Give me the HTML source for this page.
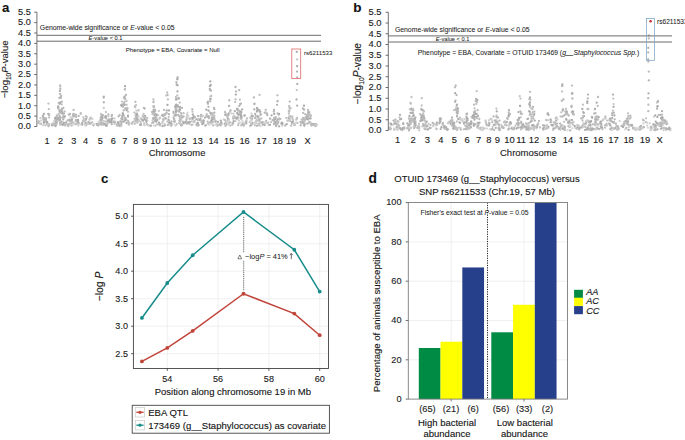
<!DOCTYPE html>
<html><head><meta charset="utf-8"><style>
html,body{margin:0;padding:0;background:#fff;width:685px;height:440px;overflow:hidden}
svg{display:block}
text{stroke:#222;stroke-width:0.12px}
</style></head><body>
<svg width="685" height="440" viewBox="0 0 685 440" font-family='"Liberation Sans", sans-serif'><rect width="685" height="440" fill="#fff"/><g><circle cx="45.3" cy="125.3" r="1.15" fill="#c3c3c3"/><circle cx="52.9" cy="124.9" r="1.15" fill="#c7c7c7"/><circle cx="47.4" cy="124.9" r="1.15" fill="#cecece"/><circle cx="43.1" cy="125.2" r="1.15" fill="#d2d2d2"/><circle cx="47.3" cy="124.4" r="1.15" fill="#d5d5d5"/><circle cx="44.3" cy="121.5" r="1.15" fill="#c8c8c8"/><circle cx="47.2" cy="123.2" r="1.15" fill="#bfbfbf"/><circle cx="45.7" cy="120.7" r="1.15" fill="#b3b3b3"/><circle cx="43.3" cy="119.4" r="1.15" fill="#bdbdbd"/><circle cx="46.6" cy="121.9" r="1.15" fill="#ababab"/><circle cx="43.1" cy="117.4" r="1.15" fill="#b9b9b9"/><circle cx="41.1" cy="120.7" r="1.15" fill="#d7d7d7"/><circle cx="53.1" cy="125.0" r="1.15" fill="#c3c3c3"/><circle cx="43.9" cy="122.9" r="1.15" fill="#c0c0c0"/><circle cx="47.4" cy="123.9" r="1.15" fill="#b8b8b8"/><circle cx="49.2" cy="124.7" r="1.15" fill="#bdbdbd"/><circle cx="48.4" cy="123.8" r="1.15" fill="#b4b4b4"/><circle cx="52.0" cy="125.3" r="1.15" fill="#acacac"/><circle cx="44.1" cy="120.6" r="1.15" fill="#c0c0c0"/><circle cx="40.7" cy="123.6" r="1.15" fill="#c4c4c4"/><circle cx="52.5" cy="125.2" r="1.15" fill="#b0b0b0"/><circle cx="52.0" cy="124.3" r="1.15" fill="#bdbdbd"/><circle cx="49.3" cy="124.2" r="1.15" fill="#cdcdcd"/><circle cx="41.0" cy="123.9" r="1.15" fill="#c2c2c2"/><circle cx="48.6" cy="126.2" r="1.15" fill="#b8b8b8"/><circle cx="38.9" cy="121.3" r="1.15" fill="#bbbbbb"/><circle cx="47.9" cy="124.4" r="1.15" fill="#cacaca"/><circle cx="45.6" cy="119.7" r="1.15" fill="#b6b6b6"/><circle cx="44.7" cy="122.5" r="1.15" fill="#c8c8c8"/><circle cx="39.8" cy="123.7" r="1.15" fill="#c9c9c9"/><circle cx="40.4" cy="118.2" r="1.15" fill="#cbcbcb"/><circle cx="55.7" cy="120.9" r="1.15" fill="#b1b1b1"/><circle cx="60.3" cy="124.2" r="1.15" fill="#bdbdbd"/><circle cx="60.2" cy="122.2" r="1.15" fill="#d6d6d6"/><circle cx="56.8" cy="114.9" r="1.15" fill="#d4d4d4"/><circle cx="63.7" cy="123.4" r="1.15" fill="#d5d5d5"/><circle cx="62.9" cy="125.0" r="1.15" fill="#cccccc"/><circle cx="60.9" cy="123.4" r="1.15" fill="#b8b8b8"/><circle cx="62.2" cy="124.3" r="1.15" fill="#d5d5d5"/><circle cx="64.3" cy="117.6" r="1.15" fill="#c1c1c1"/><circle cx="56.8" cy="120.6" r="1.15" fill="#bcbcbc"/><circle cx="60.2" cy="123.1" r="1.15" fill="#b7b7b7"/><circle cx="59.8" cy="119.2" r="1.15" fill="#b7b7b7"/><circle cx="55.3" cy="125.4" r="1.15" fill="#b3b3b3"/><circle cx="56.7" cy="122.9" r="1.15" fill="#d6d6d6"/><circle cx="60.2" cy="122.2" r="1.15" fill="#c0c0c0"/><circle cx="64.6" cy="124.2" r="1.15" fill="#c1c1c1"/><circle cx="60.2" cy="124.8" r="1.15" fill="#c4c4c4"/><circle cx="55.4" cy="117.6" r="1.15" fill="#d5d5d5"/><circle cx="63.3" cy="124.6" r="1.15" fill="#c3c3c3"/><circle cx="54.6" cy="120.9" r="1.15" fill="#b9b9b9"/><circle cx="62.5" cy="125.0" r="1.15" fill="#cccccc"/><circle cx="54.6" cy="120.7" r="1.15" fill="#cecece"/><circle cx="59.7" cy="120.9" r="1.15" fill="#c9c9c9"/><circle cx="54.6" cy="123.5" r="1.15" fill="#c0c0c0"/><circle cx="57.5" cy="121.9" r="1.15" fill="#d0d0d0"/><circle cx="55.1" cy="119.2" r="1.15" fill="#c4c4c4"/><circle cx="69.2" cy="124.0" r="1.15" fill="#c4c4c4"/><circle cx="74.2" cy="122.8" r="1.15" fill="#d7d7d7"/><circle cx="78.3" cy="125.5" r="1.15" fill="#d3d3d3"/><circle cx="70.7" cy="117.0" r="1.15" fill="#d7d7d7"/><circle cx="72.8" cy="122.8" r="1.15" fill="#cecece"/><circle cx="75.9" cy="119.8" r="1.15" fill="#c1c1c1"/><circle cx="76.0" cy="115.0" r="1.15" fill="#b2b2b2"/><circle cx="78.7" cy="115.9" r="1.15" fill="#b7b7b7"/><circle cx="68.8" cy="120.0" r="1.15" fill="#c4c4c4"/><circle cx="75.6" cy="121.1" r="1.15" fill="#c0c0c0"/><circle cx="78.4" cy="123.7" r="1.15" fill="#c4c4c4"/><circle cx="69.1" cy="114.7" r="1.15" fill="#c8c8c8"/><circle cx="72.2" cy="122.8" r="1.15" fill="#c4c4c4"/><circle cx="69.3" cy="120.2" r="1.15" fill="#c6c6c6"/><circle cx="71.7" cy="125.6" r="1.15" fill="#bababa"/><circle cx="67.5" cy="120.4" r="1.15" fill="#bababa"/><circle cx="73.7" cy="124.4" r="1.15" fill="#d0d0d0"/><circle cx="68.7" cy="114.7" r="1.15" fill="#c1c1c1"/><circle cx="70.6" cy="124.4" r="1.15" fill="#cccccc"/><circle cx="70.7" cy="123.4" r="1.15" fill="#adadad"/><circle cx="72.3" cy="121.9" r="1.15" fill="#bfbfbf"/><circle cx="76.0" cy="124.2" r="1.15" fill="#bababa"/><circle cx="78.4" cy="122.3" r="1.15" fill="#d4d4d4"/><circle cx="75.2" cy="116.2" r="1.15" fill="#c8c8c8"/><circle cx="70.6" cy="124.3" r="1.15" fill="#d4d4d4"/><circle cx="71.5" cy="120.9" r="1.15" fill="#d8d8d8"/><circle cx="82.9" cy="121.0" r="1.15" fill="#c7c7c7"/><circle cx="83.7" cy="118.7" r="1.15" fill="#c9c9c9"/><circle cx="89.4" cy="122.4" r="1.15" fill="#d8d8d8"/><circle cx="86.7" cy="124.6" r="1.15" fill="#b9b9b9"/><circle cx="88.4" cy="123.6" r="1.15" fill="#a8a8a8"/><circle cx="92.3" cy="122.1" r="1.15" fill="#cdcdcd"/><circle cx="90.6" cy="117.5" r="1.15" fill="#d1d1d1"/><circle cx="85.3" cy="124.3" r="1.15" fill="#cdcdcd"/><circle cx="88.1" cy="123.0" r="1.15" fill="#bcbcbc"/><circle cx="82.3" cy="124.5" r="1.15" fill="#aaaaaa"/><circle cx="87.7" cy="122.9" r="1.15" fill="#d5d5d5"/><circle cx="86.0" cy="125.3" r="1.15" fill="#bcbcbc"/><circle cx="92.4" cy="118.8" r="1.15" fill="#cccccc"/><circle cx="80.7" cy="113.2" r="1.15" fill="#b7b7b7"/><circle cx="85.0" cy="123.3" r="1.15" fill="#d6d6d6"/><circle cx="83.4" cy="117.2" r="1.15" fill="#cbcbcb"/><circle cx="85.3" cy="125.5" r="1.15" fill="#d6d6d6"/><circle cx="84.0" cy="119.4" r="1.15" fill="#c8c8c8"/><circle cx="88.5" cy="122.1" r="1.15" fill="#b2b2b2"/><circle cx="89.8" cy="119.4" r="1.15" fill="#c5c5c5"/><circle cx="80.8" cy="114.0" r="1.15" fill="#c2c2c2"/><circle cx="89.4" cy="119.7" r="1.15" fill="#d2d2d2"/><circle cx="90.5" cy="118.9" r="1.15" fill="#cfcfcf"/><circle cx="81.4" cy="124.5" r="1.15" fill="#c2c2c2"/><circle cx="90.7" cy="118.2" r="1.15" fill="#c1c1c1"/><circle cx="88.1" cy="123.9" r="1.15" fill="#d1d1d1"/><circle cx="103.1" cy="123.9" r="1.15" fill="#b3b3b3"/><circle cx="99.9" cy="123.1" r="1.15" fill="#c4c4c4"/><circle cx="101.6" cy="120.4" r="1.15" fill="#c6c6c6"/><circle cx="101.3" cy="123.0" r="1.15" fill="#d0d0d0"/><circle cx="93.5" cy="125.3" r="1.15" fill="#c1c1c1"/><circle cx="106.3" cy="125.8" r="1.15" fill="#c4c4c4"/><circle cx="99.5" cy="123.2" r="1.15" fill="#c1c1c1"/><circle cx="106.6" cy="123.8" r="1.15" fill="#adadad"/><circle cx="93.5" cy="125.0" r="1.15" fill="#b1b1b1"/><circle cx="106.6" cy="123.1" r="1.15" fill="#d7d7d7"/><circle cx="101.1" cy="124.5" r="1.15" fill="#b8b8b8"/><circle cx="106.1" cy="125.3" r="1.15" fill="#c5c5c5"/><circle cx="102.7" cy="122.8" r="1.15" fill="#bdbdbd"/><circle cx="98.6" cy="124.6" r="1.15" fill="#b1b1b1"/><circle cx="97.3" cy="125.1" r="1.15" fill="#a9a9a9"/><circle cx="98.3" cy="125.5" r="1.15" fill="#bababa"/><circle cx="104.5" cy="124.6" r="1.15" fill="#c9c9c9"/><circle cx="102.9" cy="115.1" r="1.15" fill="#b4b4b4"/><circle cx="98.5" cy="121.6" r="1.15" fill="#d8d8d8"/><circle cx="98.1" cy="124.0" r="1.15" fill="#cbcbcb"/><circle cx="94.0" cy="124.2" r="1.15" fill="#d6d6d6"/><circle cx="96.6" cy="123.8" r="1.15" fill="#adadad"/><circle cx="103.8" cy="121.2" r="1.15" fill="#c8c8c8"/><circle cx="104.2" cy="117.4" r="1.15" fill="#c9c9c9"/><circle cx="102.9" cy="124.9" r="1.15" fill="#c4c4c4"/><circle cx="99.3" cy="122.5" r="1.15" fill="#cfcfcf"/><circle cx="105.5" cy="121.7" r="1.15" fill="#c6c6c6"/><circle cx="99.6" cy="124.3" r="1.15" fill="#bbbbbb"/><circle cx="113.6" cy="121.9" r="1.15" fill="#b2b2b2"/><circle cx="118.7" cy="124.6" r="1.15" fill="#cecece"/><circle cx="109.3" cy="119.6" r="1.15" fill="#b4b4b4"/><circle cx="110.0" cy="122.3" r="1.15" fill="#ababab"/><circle cx="111.7" cy="118.5" r="1.15" fill="#d5d5d5"/><circle cx="111.6" cy="122.6" r="1.15" fill="#b0b0b0"/><circle cx="108.7" cy="120.0" r="1.15" fill="#cbcbcb"/><circle cx="108.4" cy="114.3" r="1.15" fill="#b4b4b4"/><circle cx="118.2" cy="122.3" r="1.15" fill="#cacaca"/><circle cx="108.8" cy="121.1" r="1.15" fill="#b4b4b4"/><circle cx="107.3" cy="120.3" r="1.15" fill="#c1c1c1"/><circle cx="118.4" cy="125.2" r="1.15" fill="#cfcfcf"/><circle cx="118.0" cy="123.1" r="1.15" fill="#b0b0b0"/><circle cx="108.3" cy="116.2" r="1.15" fill="#c3c3c3"/><circle cx="114.7" cy="123.9" r="1.15" fill="#c6c6c6"/><circle cx="114.4" cy="120.8" r="1.15" fill="#d3d3d3"/><circle cx="108.1" cy="119.3" r="1.15" fill="#cecece"/><circle cx="111.7" cy="124.2" r="1.15" fill="#b8b8b8"/><circle cx="118.7" cy="125.5" r="1.15" fill="#c2c2c2"/><circle cx="114.6" cy="118.4" r="1.15" fill="#cdcdcd"/><circle cx="107.6" cy="121.3" r="1.15" fill="#bcbcbc"/><circle cx="107.9" cy="123.2" r="1.15" fill="#c5c5c5"/><circle cx="110.2" cy="119.4" r="1.15" fill="#c0c0c0"/><circle cx="121.4" cy="118.6" r="1.15" fill="#cacaca"/><circle cx="124.1" cy="121.4" r="1.15" fill="#a9a9a9"/><circle cx="120.4" cy="121.3" r="1.15" fill="#acacac"/><circle cx="123.6" cy="115.6" r="1.15" fill="#c8c8c8"/><circle cx="128.9" cy="124.7" r="1.15" fill="#c0c0c0"/><circle cx="119.8" cy="126.0" r="1.15" fill="#b9b9b9"/><circle cx="124.0" cy="116.1" r="1.15" fill="#cfcfcf"/><circle cx="129.0" cy="122.1" r="1.15" fill="#d5d5d5"/><circle cx="126.1" cy="119.6" r="1.15" fill="#b9b9b9"/><circle cx="128.0" cy="111.7" r="1.15" fill="#c3c3c3"/><circle cx="121.1" cy="126.3" r="1.15" fill="#d5d5d5"/><circle cx="125.1" cy="118.7" r="1.15" fill="#b5b5b5"/><circle cx="123.0" cy="115.2" r="1.15" fill="#d8d8d8"/><circle cx="126.6" cy="123.0" r="1.15" fill="#aaaaaa"/><circle cx="121.3" cy="123.6" r="1.15" fill="#b0b0b0"/><circle cx="121.9" cy="121.7" r="1.15" fill="#b4b4b4"/><circle cx="119.7" cy="124.6" r="1.15" fill="#b3b3b3"/><circle cx="121.3" cy="125.3" r="1.15" fill="#bebebe"/><circle cx="123.1" cy="121.7" r="1.15" fill="#b4b4b4"/><circle cx="128.9" cy="122.7" r="1.15" fill="#d0d0d0"/><circle cx="119.6" cy="123.4" r="1.15" fill="#c1c1c1"/><circle cx="131.7" cy="123.2" r="1.15" fill="#b1b1b1"/><circle cx="134.6" cy="118.7" r="1.15" fill="#c3c3c3"/><circle cx="137.4" cy="121.7" r="1.15" fill="#d4d4d4"/><circle cx="136.4" cy="118.7" r="1.15" fill="#ababab"/><circle cx="138.6" cy="110.3" r="1.15" fill="#b0b0b0"/><circle cx="136.2" cy="121.3" r="1.15" fill="#b6b6b6"/><circle cx="131.9" cy="123.7" r="1.15" fill="#c0c0c0"/><circle cx="136.1" cy="116.8" r="1.15" fill="#c0c0c0"/><circle cx="137.6" cy="119.8" r="1.15" fill="#a9a9a9"/><circle cx="135.6" cy="121.8" r="1.15" fill="#d1d1d1"/><circle cx="132.0" cy="123.2" r="1.15" fill="#c2c2c2"/><circle cx="138.6" cy="116.7" r="1.15" fill="#d6d6d6"/><circle cx="135.1" cy="123.3" r="1.15" fill="#d2d2d2"/><circle cx="136.4" cy="110.6" r="1.15" fill="#c9c9c9"/><circle cx="138.2" cy="110.5" r="1.15" fill="#cbcbcb"/><circle cx="138.5" cy="121.6" r="1.15" fill="#d3d3d3"/><circle cx="139.0" cy="120.5" r="1.15" fill="#cbcbcb"/><circle cx="134.5" cy="123.9" r="1.15" fill="#c8c8c8"/><circle cx="136.3" cy="114.0" r="1.15" fill="#afafaf"/><circle cx="143.4" cy="120.2" r="1.15" fill="#c2c2c2"/><circle cx="140.6" cy="121.9" r="1.15" fill="#c4c4c4"/><circle cx="140.9" cy="124.8" r="1.15" fill="#d1d1d1"/><circle cx="146.4" cy="122.1" r="1.15" fill="#ababab"/><circle cx="144.2" cy="123.7" r="1.15" fill="#c0c0c0"/><circle cx="147.3" cy="118.2" r="1.15" fill="#bbbbbb"/><circle cx="144.2" cy="119.6" r="1.15" fill="#d5d5d5"/><circle cx="144.0" cy="123.4" r="1.15" fill="#cdcdcd"/><circle cx="144.4" cy="125.2" r="1.15" fill="#c2c2c2"/><circle cx="144.6" cy="125.3" r="1.15" fill="#d6d6d6"/><circle cx="140.8" cy="125.0" r="1.15" fill="#ababab"/><circle cx="147.2" cy="124.4" r="1.15" fill="#b1b1b1"/><circle cx="143.0" cy="120.8" r="1.15" fill="#adadad"/><circle cx="147.4" cy="120.8" r="1.15" fill="#d4d4d4"/><circle cx="143.1" cy="116.7" r="1.15" fill="#adadad"/><circle cx="140.8" cy="118.3" r="1.15" fill="#bfbfbf"/><circle cx="141.1" cy="119.5" r="1.15" fill="#d4d4d4"/><circle cx="146.1" cy="119.3" r="1.15" fill="#d7d7d7"/><circle cx="148.1" cy="125.6" r="1.15" fill="#d6d6d6"/><circle cx="159.9" cy="124.5" r="1.15" fill="#ababab"/><circle cx="156.6" cy="116.6" r="1.15" fill="#d8d8d8"/><circle cx="155.2" cy="120.3" r="1.15" fill="#b4b4b4"/><circle cx="156.0" cy="121.7" r="1.15" fill="#b4b4b4"/><circle cx="153.0" cy="122.4" r="1.15" fill="#c2c2c2"/><circle cx="159.8" cy="118.3" r="1.15" fill="#c1c1c1"/><circle cx="155.2" cy="125.6" r="1.15" fill="#bfbfbf"/><circle cx="156.0" cy="117.3" r="1.15" fill="#c2c2c2"/><circle cx="159.2" cy="118.7" r="1.15" fill="#cacaca"/><circle cx="158.9" cy="111.0" r="1.15" fill="#cccccc"/><circle cx="160.1" cy="117.3" r="1.15" fill="#cccccc"/><circle cx="152.5" cy="120.4" r="1.15" fill="#cfcfcf"/><circle cx="158.1" cy="114.9" r="1.15" fill="#cacaca"/><circle cx="151.0" cy="125.7" r="1.15" fill="#b3b3b3"/><circle cx="160.6" cy="123.9" r="1.15" fill="#c3c3c3"/><circle cx="156.0" cy="114.2" r="1.15" fill="#c5c5c5"/><circle cx="153.9" cy="125.6" r="1.15" fill="#d6d6d6"/><circle cx="154.9" cy="121.0" r="1.15" fill="#c3c3c3"/><circle cx="152.2" cy="123.0" r="1.15" fill="#c4c4c4"/><circle cx="159.1" cy="124.4" r="1.15" fill="#b9b9b9"/><circle cx="156.6" cy="115.9" r="1.15" fill="#d7d7d7"/><circle cx="153.2" cy="122.5" r="1.15" fill="#b8b8b8"/><circle cx="153.3" cy="119.2" r="1.15" fill="#cdcdcd"/><circle cx="174.5" cy="122.0" r="1.15" fill="#d5d5d5"/><circle cx="171.6" cy="123.8" r="1.15" fill="#c4c4c4"/><circle cx="169.9" cy="122.2" r="1.15" fill="#c9c9c9"/><circle cx="168.4" cy="119.5" r="1.15" fill="#c4c4c4"/><circle cx="162.6" cy="126.2" r="1.15" fill="#aeaeae"/><circle cx="168.9" cy="122.6" r="1.15" fill="#b2b2b2"/><circle cx="169.6" cy="124.6" r="1.15" fill="#d5d5d5"/><circle cx="162.5" cy="122.1" r="1.15" fill="#c2c2c2"/><circle cx="167.9" cy="124.9" r="1.15" fill="#b5b5b5"/><circle cx="167.3" cy="121.6" r="1.15" fill="#c2c2c2"/><circle cx="163.0" cy="119.4" r="1.15" fill="#b8b8b8"/><circle cx="169.8" cy="122.9" r="1.15" fill="#a8a8a8"/><circle cx="165.4" cy="114.5" r="1.15" fill="#c3c3c3"/><circle cx="164.6" cy="123.8" r="1.15" fill="#d2d2d2"/><circle cx="162.5" cy="123.6" r="1.15" fill="#d5d5d5"/><circle cx="168.7" cy="120.2" r="1.15" fill="#afafaf"/><circle cx="172.4" cy="124.5" r="1.15" fill="#d2d2d2"/><circle cx="174.6" cy="120.9" r="1.15" fill="#b5b5b5"/><circle cx="171.2" cy="125.7" r="1.15" fill="#b4b4b4"/><circle cx="163.3" cy="119.0" r="1.15" fill="#c6c6c6"/><circle cx="165.1" cy="125.1" r="1.15" fill="#bababa"/><circle cx="173.4" cy="117.6" r="1.15" fill="#bfbfbf"/><circle cx="171.1" cy="123.4" r="1.15" fill="#b0b0b0"/><circle cx="166.0" cy="112.9" r="1.15" fill="#d5d5d5"/><circle cx="163.4" cy="120.5" r="1.15" fill="#c4c4c4"/><circle cx="174.0" cy="118.8" r="1.15" fill="#acacac"/><circle cx="181.6" cy="118.3" r="1.15" fill="#c7c7c7"/><circle cx="182.9" cy="123.1" r="1.15" fill="#d5d5d5"/><circle cx="180.5" cy="116.4" r="1.15" fill="#d8d8d8"/><circle cx="175.7" cy="125.5" r="1.15" fill="#c7c7c7"/><circle cx="179.9" cy="124.0" r="1.15" fill="#d0d0d0"/><circle cx="184.6" cy="122.1" r="1.15" fill="#c3c3c3"/><circle cx="186.8" cy="116.7" r="1.15" fill="#c9c9c9"/><circle cx="187.1" cy="114.4" r="1.15" fill="#c4c4c4"/><circle cx="176.7" cy="124.2" r="1.15" fill="#c1c1c1"/><circle cx="186.4" cy="119.9" r="1.15" fill="#bfbfbf"/><circle cx="181.7" cy="124.2" r="1.15" fill="#c2c2c2"/><circle cx="179.6" cy="118.6" r="1.15" fill="#d4d4d4"/><circle cx="180.0" cy="110.0" r="1.15" fill="#b4b4b4"/><circle cx="185.6" cy="121.8" r="1.15" fill="#c4c4c4"/><circle cx="186.7" cy="118.4" r="1.15" fill="#b1b1b1"/><circle cx="182.2" cy="125.0" r="1.15" fill="#acacac"/><circle cx="184.7" cy="123.1" r="1.15" fill="#d4d4d4"/><circle cx="183.0" cy="121.7" r="1.15" fill="#bebebe"/><circle cx="175.3" cy="125.0" r="1.15" fill="#d6d6d6"/><circle cx="180.0" cy="122.7" r="1.15" fill="#cccccc"/><circle cx="188.3" cy="115.9" r="1.15" fill="#d3d3d3"/><circle cx="179.1" cy="123.0" r="1.15" fill="#c8c8c8"/><circle cx="182.0" cy="124.7" r="1.15" fill="#d6d6d6"/><circle cx="183.7" cy="123.2" r="1.15" fill="#aaaaaa"/><circle cx="187.7" cy="112.7" r="1.15" fill="#d8d8d8"/><circle cx="180.3" cy="120.6" r="1.15" fill="#bbbbbb"/><circle cx="187.4" cy="118.0" r="1.15" fill="#d3d3d3"/><circle cx="187.9" cy="123.3" r="1.15" fill="#d0d0d0"/><circle cx="198.5" cy="124.3" r="1.15" fill="#c8c8c8"/><circle cx="197.4" cy="125.2" r="1.15" fill="#d3d3d3"/><circle cx="200.8" cy="115.7" r="1.15" fill="#aeaeae"/><circle cx="191.9" cy="121.5" r="1.15" fill="#c7c7c7"/><circle cx="193.4" cy="116.1" r="1.15" fill="#c9c9c9"/><circle cx="192.4" cy="124.7" r="1.15" fill="#c3c3c3"/><circle cx="201.9" cy="115.9" r="1.15" fill="#cbcbcb"/><circle cx="193.8" cy="117.8" r="1.15" fill="#bdbdbd"/><circle cx="189.8" cy="122.7" r="1.15" fill="#bababa"/><circle cx="196.7" cy="124.5" r="1.15" fill="#c4c4c4"/><circle cx="189.4" cy="123.9" r="1.15" fill="#c1c1c1"/><circle cx="202.8" cy="115.8" r="1.15" fill="#c2c2c2"/><circle cx="200.1" cy="120.2" r="1.15" fill="#cbcbcb"/><circle cx="203.5" cy="123.0" r="1.15" fill="#a8a8a8"/><circle cx="200.6" cy="119.9" r="1.15" fill="#bebebe"/><circle cx="189.6" cy="118.7" r="1.15" fill="#d0d0d0"/><circle cx="203.5" cy="120.4" r="1.15" fill="#c2c2c2"/><circle cx="189.9" cy="121.6" r="1.15" fill="#c3c3c3"/><circle cx="200.7" cy="116.2" r="1.15" fill="#c2c2c2"/><circle cx="197.9" cy="123.3" r="1.15" fill="#cacaca"/><circle cx="199.5" cy="120.1" r="1.15" fill="#aeaeae"/><circle cx="192.6" cy="118.4" r="1.15" fill="#a8a8a8"/><circle cx="197.5" cy="123.5" r="1.15" fill="#cecece"/><circle cx="193.3" cy="121.3" r="1.15" fill="#d4d4d4"/><circle cx="189.5" cy="122.1" r="1.15" fill="#c0c0c0"/><circle cx="198.5" cy="125.4" r="1.15" fill="#acacac"/><circle cx="201.1" cy="114.8" r="1.15" fill="#b6b6b6"/><circle cx="196.6" cy="125.5" r="1.15" fill="#c8c8c8"/><circle cx="202.2" cy="116.5" r="1.15" fill="#d0d0d0"/><circle cx="202.3" cy="124.2" r="1.15" fill="#a9a9a9"/><circle cx="196.7" cy="124.6" r="1.15" fill="#b6b6b6"/><circle cx="194.9" cy="117.2" r="1.15" fill="#bababa"/><circle cx="200.5" cy="118.4" r="1.15" fill="#b9b9b9"/><circle cx="211.2" cy="114.3" r="1.15" fill="#bbbbbb"/><circle cx="206.7" cy="114.2" r="1.15" fill="#c1c1c1"/><circle cx="213.7" cy="121.7" r="1.15" fill="#c1c1c1"/><circle cx="215.6" cy="124.7" r="1.15" fill="#d1d1d1"/><circle cx="214.4" cy="118.3" r="1.15" fill="#cecece"/><circle cx="217.4" cy="124.6" r="1.15" fill="#c3c3c3"/><circle cx="214.9" cy="119.7" r="1.15" fill="#cfcfcf"/><circle cx="215.8" cy="121.5" r="1.15" fill="#c7c7c7"/><circle cx="213.2" cy="122.2" r="1.15" fill="#c9c9c9"/><circle cx="216.9" cy="124.3" r="1.15" fill="#bcbcbc"/><circle cx="212.0" cy="114.1" r="1.15" fill="#b2b2b2"/><circle cx="213.1" cy="125.3" r="1.15" fill="#b2b2b2"/><circle cx="209.5" cy="124.7" r="1.15" fill="#d0d0d0"/><circle cx="208.2" cy="123.4" r="1.15" fill="#bababa"/><circle cx="218.3" cy="124.8" r="1.15" fill="#afafaf"/><circle cx="220.7" cy="125.0" r="1.15" fill="#c6c6c6"/><circle cx="206.1" cy="125.1" r="1.15" fill="#b9b9b9"/><circle cx="217.8" cy="124.9" r="1.15" fill="#c6c6c6"/><circle cx="206.3" cy="116.0" r="1.15" fill="#c9c9c9"/><circle cx="210.8" cy="115.4" r="1.15" fill="#d2d2d2"/><circle cx="210.0" cy="122.3" r="1.15" fill="#b9b9b9"/><circle cx="214.1" cy="117.4" r="1.15" fill="#bebebe"/><circle cx="210.8" cy="113.3" r="1.15" fill="#a8a8a8"/><circle cx="220.3" cy="125.2" r="1.15" fill="#afafaf"/><circle cx="216.4" cy="125.3" r="1.15" fill="#d8d8d8"/><circle cx="217.5" cy="126.1" r="1.15" fill="#c5c5c5"/><circle cx="211.7" cy="123.3" r="1.15" fill="#c0c0c0"/><circle cx="208.6" cy="116.6" r="1.15" fill="#c1c1c1"/><circle cx="215.0" cy="121.1" r="1.15" fill="#d0d0d0"/><circle cx="209.0" cy="118.3" r="1.15" fill="#c8c8c8"/><circle cx="215.7" cy="121.5" r="1.15" fill="#b5b5b5"/><circle cx="227.8" cy="120.5" r="1.15" fill="#cbcbcb"/><circle cx="229.0" cy="119.7" r="1.15" fill="#c2c2c2"/><circle cx="233.2" cy="119.0" r="1.15" fill="#d4d4d4"/><circle cx="221.5" cy="124.6" r="1.15" fill="#c8c8c8"/><circle cx="228.6" cy="120.1" r="1.15" fill="#d7d7d7"/><circle cx="235.1" cy="117.9" r="1.15" fill="#aaaaaa"/><circle cx="221.4" cy="123.0" r="1.15" fill="#d2d2d2"/><circle cx="224.7" cy="123.7" r="1.15" fill="#ababab"/><circle cx="221.6" cy="124.3" r="1.15" fill="#cccccc"/><circle cx="235.5" cy="121.2" r="1.15" fill="#cccccc"/><circle cx="232.5" cy="124.2" r="1.15" fill="#b8b8b8"/><circle cx="231.6" cy="113.5" r="1.15" fill="#d2d2d2"/><circle cx="232.3" cy="125.1" r="1.15" fill="#cdcdcd"/><circle cx="227.3" cy="121.4" r="1.15" fill="#c7c7c7"/><circle cx="236.0" cy="118.7" r="1.15" fill="#bdbdbd"/><circle cx="228.5" cy="123.8" r="1.15" fill="#c1c1c1"/><circle cx="226.9" cy="115.5" r="1.15" fill="#c1c1c1"/><circle cx="233.3" cy="118.1" r="1.15" fill="#b3b3b3"/><circle cx="233.4" cy="116.7" r="1.15" fill="#b9b9b9"/><circle cx="234.7" cy="115.9" r="1.15" fill="#cacaca"/><circle cx="234.1" cy="116.6" r="1.15" fill="#d5d5d5"/><circle cx="227.1" cy="114.6" r="1.15" fill="#c8c8c8"/><circle cx="233.7" cy="121.1" r="1.15" fill="#aaaaaa"/><circle cx="223.7" cy="119.4" r="1.15" fill="#d4d4d4"/><circle cx="225.7" cy="122.4" r="1.15" fill="#cfcfcf"/><circle cx="225.5" cy="113.1" r="1.15" fill="#bababa"/><circle cx="226.6" cy="123.7" r="1.15" fill="#c4c4c4"/><circle cx="233.4" cy="113.7" r="1.15" fill="#cdcdcd"/><circle cx="226.1" cy="124.6" r="1.15" fill="#b6b6b6"/><circle cx="230.3" cy="125.6" r="1.15" fill="#bdbdbd"/><circle cx="228.4" cy="124.8" r="1.15" fill="#d6d6d6"/><circle cx="227.4" cy="116.9" r="1.15" fill="#bbbbbb"/><circle cx="246.0" cy="122.4" r="1.15" fill="#cecece"/><circle cx="251.5" cy="120.3" r="1.15" fill="#c6c6c6"/><circle cx="243.0" cy="123.7" r="1.15" fill="#cacaca"/><circle cx="242.6" cy="123.0" r="1.15" fill="#d3d3d3"/><circle cx="238.7" cy="123.4" r="1.15" fill="#c6c6c6"/><circle cx="241.3" cy="116.6" r="1.15" fill="#ababab"/><circle cx="238.8" cy="120.4" r="1.15" fill="#cccccc"/><circle cx="241.2" cy="125.4" r="1.15" fill="#c5c5c5"/><circle cx="252.6" cy="122.8" r="1.15" fill="#b1b1b1"/><circle cx="250.7" cy="120.6" r="1.15" fill="#d8d8d8"/><circle cx="250.6" cy="117.2" r="1.15" fill="#c6c6c6"/><circle cx="241.3" cy="119.1" r="1.15" fill="#c2c2c2"/><circle cx="252.0" cy="118.3" r="1.15" fill="#d7d7d7"/><circle cx="243.0" cy="124.8" r="1.15" fill="#d0d0d0"/><circle cx="240.0" cy="112.3" r="1.15" fill="#c0c0c0"/><circle cx="250.2" cy="125.8" r="1.15" fill="#b6b6b6"/><circle cx="238.2" cy="125.2" r="1.15" fill="#c0c0c0"/><circle cx="246.4" cy="120.4" r="1.15" fill="#c6c6c6"/><circle cx="244.5" cy="124.0" r="1.15" fill="#c1c1c1"/><circle cx="239.9" cy="122.5" r="1.15" fill="#d6d6d6"/><circle cx="251.4" cy="113.5" r="1.15" fill="#d7d7d7"/><circle cx="239.7" cy="114.0" r="1.15" fill="#c6c6c6"/><circle cx="251.7" cy="115.7" r="1.15" fill="#c0c0c0"/><circle cx="252.1" cy="115.9" r="1.15" fill="#b0b0b0"/><circle cx="250.3" cy="118.1" r="1.15" fill="#c6c6c6"/><circle cx="244.7" cy="123.0" r="1.15" fill="#d1d1d1"/><circle cx="242.4" cy="121.0" r="1.15" fill="#d8d8d8"/><circle cx="244.1" cy="125.1" r="1.15" fill="#bebebe"/><circle cx="243.6" cy="125.8" r="1.15" fill="#c2c2c2"/><circle cx="249.7" cy="122.1" r="1.15" fill="#c9c9c9"/><circle cx="242.2" cy="117.7" r="1.15" fill="#d7d7d7"/><circle cx="247.0" cy="118.3" r="1.15" fill="#c0c0c0"/><circle cx="259.5" cy="123.7" r="1.15" fill="#bfbfbf"/><circle cx="255.6" cy="121.7" r="1.15" fill="#bfbfbf"/><circle cx="266.1" cy="120.9" r="1.15" fill="#bbbbbb"/><circle cx="256.3" cy="123.2" r="1.15" fill="#bfbfbf"/><circle cx="256.8" cy="121.0" r="1.15" fill="#c0c0c0"/><circle cx="264.6" cy="122.8" r="1.15" fill="#c2c2c2"/><circle cx="266.5" cy="113.2" r="1.15" fill="#cbcbcb"/><circle cx="256.6" cy="119.9" r="1.15" fill="#c6c6c6"/><circle cx="262.6" cy="122.1" r="1.15" fill="#b5b5b5"/><circle cx="266.7" cy="113.3" r="1.15" fill="#a8a8a8"/><circle cx="258.6" cy="119.4" r="1.15" fill="#d4d4d4"/><circle cx="259.8" cy="122.5" r="1.15" fill="#d7d7d7"/><circle cx="267.2" cy="122.9" r="1.15" fill="#bfbfbf"/><circle cx="253.9" cy="123.5" r="1.15" fill="#d4d4d4"/><circle cx="259.0" cy="120.1" r="1.15" fill="#b9b9b9"/><circle cx="264.7" cy="112.7" r="1.15" fill="#b0b0b0"/><circle cx="265.7" cy="109.8" r="1.15" fill="#b9b9b9"/><circle cx="267.2" cy="115.0" r="1.15" fill="#b3b3b3"/><circle cx="260.4" cy="126.2" r="1.15" fill="#d4d4d4"/><circle cx="268.7" cy="125.0" r="1.15" fill="#c5c5c5"/><circle cx="256.0" cy="122.5" r="1.15" fill="#d2d2d2"/><circle cx="254.8" cy="123.4" r="1.15" fill="#d4d4d4"/><circle cx="257.5" cy="117.7" r="1.15" fill="#cacaca"/><circle cx="264.5" cy="124.1" r="1.15" fill="#cbcbcb"/><circle cx="264.7" cy="125.0" r="1.15" fill="#b1b1b1"/><circle cx="255.0" cy="125.3" r="1.15" fill="#c3c3c3"/><circle cx="261.9" cy="122.7" r="1.15" fill="#a9a9a9"/><circle cx="265.2" cy="122.4" r="1.15" fill="#d7d7d7"/><circle cx="268.2" cy="122.7" r="1.15" fill="#c5c5c5"/><circle cx="259.6" cy="121.4" r="1.15" fill="#bebebe"/><circle cx="258.7" cy="124.3" r="1.15" fill="#b3b3b3"/><circle cx="266.3" cy="112.4" r="1.15" fill="#cdcdcd"/><circle cx="258.5" cy="125.0" r="1.15" fill="#c4c4c4"/><circle cx="275.5" cy="123.1" r="1.15" fill="#a8a8a8"/><circle cx="278.9" cy="117.6" r="1.15" fill="#d6d6d6"/><circle cx="282.3" cy="122.8" r="1.15" fill="#b6b6b6"/><circle cx="278.8" cy="118.7" r="1.15" fill="#d8d8d8"/><circle cx="277.3" cy="124.0" r="1.15" fill="#c3c3c3"/><circle cx="273.9" cy="124.1" r="1.15" fill="#b2b2b2"/><circle cx="271.0" cy="122.1" r="1.15" fill="#c3c3c3"/><circle cx="276.1" cy="123.5" r="1.15" fill="#c3c3c3"/><circle cx="273.7" cy="119.5" r="1.15" fill="#acacac"/><circle cx="281.9" cy="122.4" r="1.15" fill="#cbcbcb"/><circle cx="277.7" cy="123.5" r="1.15" fill="#c0c0c0"/><circle cx="278.6" cy="122.1" r="1.15" fill="#cfcfcf"/><circle cx="272.5" cy="120.1" r="1.15" fill="#b7b7b7"/><circle cx="270.0" cy="124.8" r="1.15" fill="#aaaaaa"/><circle cx="276.9" cy="124.7" r="1.15" fill="#cacaca"/><circle cx="274.1" cy="121.2" r="1.15" fill="#c1c1c1"/><circle cx="276.1" cy="126.0" r="1.15" fill="#b2b2b2"/><circle cx="281.8" cy="124.6" r="1.15" fill="#cfcfcf"/><circle cx="275.8" cy="123.6" r="1.15" fill="#c4c4c4"/><circle cx="279.5" cy="119.6" r="1.15" fill="#c3c3c3"/><circle cx="280.4" cy="118.9" r="1.15" fill="#b8b8b8"/><circle cx="273.7" cy="120.5" r="1.15" fill="#bababa"/><circle cx="282.3" cy="125.5" r="1.15" fill="#c8c8c8"/><circle cx="277.0" cy="121.0" r="1.15" fill="#b8b8b8"/><circle cx="282.4" cy="123.8" r="1.15" fill="#b4b4b4"/><circle cx="282.1" cy="123.2" r="1.15" fill="#aeaeae"/><circle cx="275.4" cy="124.2" r="1.15" fill="#b3b3b3"/><circle cx="279.1" cy="126.4" r="1.15" fill="#b0b0b0"/><circle cx="276.2" cy="123.4" r="1.15" fill="#bdbdbd"/><circle cx="281.4" cy="123.4" r="1.15" fill="#a8a8a8"/><circle cx="292.7" cy="122.2" r="1.15" fill="#aeaeae"/><circle cx="292.3" cy="116.4" r="1.15" fill="#bebebe"/><circle cx="290.2" cy="120.9" r="1.15" fill="#b0b0b0"/><circle cx="291.1" cy="125.8" r="1.15" fill="#c2c2c2"/><circle cx="290.0" cy="119.9" r="1.15" fill="#d0d0d0"/><circle cx="297.0" cy="117.8" r="1.15" fill="#b5b5b5"/><circle cx="294.4" cy="123.7" r="1.15" fill="#d8d8d8"/><circle cx="287.2" cy="121.1" r="1.15" fill="#d7d7d7"/><circle cx="286.3" cy="118.1" r="1.15" fill="#bfbfbf"/><circle cx="296.2" cy="119.8" r="1.15" fill="#cccccc"/><circle cx="292.1" cy="117.9" r="1.15" fill="#c5c5c5"/><circle cx="291.8" cy="124.0" r="1.15" fill="#cdcdcd"/><circle cx="289.7" cy="109.3" r="1.15" fill="#c4c4c4"/><circle cx="294.4" cy="125.2" r="1.15" fill="#c4c4c4"/><circle cx="297.5" cy="122.9" r="1.15" fill="#c0c0c0"/><circle cx="292.9" cy="121.5" r="1.15" fill="#ababab"/><circle cx="296.9" cy="118.5" r="1.15" fill="#c6c6c6"/><circle cx="292.8" cy="123.1" r="1.15" fill="#d7d7d7"/><circle cx="285.2" cy="125.7" r="1.15" fill="#bababa"/><circle cx="296.2" cy="122.6" r="1.15" fill="#d1d1d1"/><circle cx="294.3" cy="124.0" r="1.15" fill="#cccccc"/><circle cx="294.7" cy="125.0" r="1.15" fill="#c0c0c0"/><circle cx="296.7" cy="118.8" r="1.15" fill="#c0c0c0"/><circle cx="289.6" cy="119.0" r="1.15" fill="#c2c2c2"/><circle cx="292.9" cy="119.5" r="1.15" fill="#c2c2c2"/><circle cx="285.6" cy="124.8" r="1.15" fill="#c2c2c2"/><circle cx="289.2" cy="111.3" r="1.15" fill="#b6b6b6"/><circle cx="289.0" cy="115.7" r="1.15" fill="#d8d8d8"/><circle cx="288.2" cy="120.4" r="1.15" fill="#c1c1c1"/><circle cx="315.1" cy="125.3" r="1.15" fill="#aeaeae"/><circle cx="305.3" cy="119.5" r="1.15" fill="#d2d2d2"/><circle cx="306.9" cy="115.2" r="1.15" fill="#b9b9b9"/><circle cx="304.4" cy="124.4" r="1.15" fill="#c2c2c2"/><circle cx="304.3" cy="126.1" r="1.15" fill="#cacaca"/><circle cx="301.0" cy="123.1" r="1.15" fill="#cacaca"/><circle cx="309.2" cy="123.0" r="1.15" fill="#bbbbbb"/><circle cx="305.6" cy="118.3" r="1.15" fill="#b9b9b9"/><circle cx="310.6" cy="123.8" r="1.15" fill="#cecece"/><circle cx="303.4" cy="122.1" r="1.15" fill="#cfcfcf"/><circle cx="316.2" cy="124.0" r="1.15" fill="#c0c0c0"/><circle cx="308.9" cy="122.7" r="1.15" fill="#d4d4d4"/><circle cx="301.5" cy="119.6" r="1.15" fill="#c4c4c4"/><circle cx="312.5" cy="124.5" r="1.15" fill="#c6c6c6"/><circle cx="311.1" cy="124.3" r="1.15" fill="#c0c0c0"/><circle cx="311.7" cy="123.7" r="1.15" fill="#c7c7c7"/><circle cx="305.0" cy="119.5" r="1.15" fill="#aeaeae"/><circle cx="313.7" cy="124.4" r="1.15" fill="#cbcbcb"/><circle cx="300.5" cy="122.1" r="1.15" fill="#b4b4b4"/><circle cx="304.4" cy="123.0" r="1.15" fill="#c4c4c4"/><circle cx="313.2" cy="124.5" r="1.15" fill="#ababab"/><circle cx="302.5" cy="122.0" r="1.15" fill="#ababab"/><circle cx="315.4" cy="126.2" r="1.15" fill="#bababa"/><circle cx="305.6" cy="119.0" r="1.15" fill="#c4c4c4"/><circle cx="304.5" cy="123.9" r="1.15" fill="#c6c6c6"/><circle cx="306.5" cy="119.1" r="1.15" fill="#b6b6b6"/><circle cx="302.8" cy="123.2" r="1.15" fill="#b6b6b6"/><circle cx="310.6" cy="122.4" r="1.15" fill="#d2d2d2"/><circle cx="309.5" cy="121.8" r="1.15" fill="#bababa"/><circle cx="316.0" cy="125.4" r="1.15" fill="#bcbcbc"/><circle cx="315.4" cy="123.9" r="1.15" fill="#d5d5d5"/><circle cx="311.5" cy="125.7" r="1.15" fill="#bebebe"/><circle cx="303.1" cy="117.9" r="1.15" fill="#b6b6b6"/><circle cx="317.2" cy="125.1" r="1.15" fill="#d8d8d8"/><circle cx="304.3" cy="125.0" r="1.15" fill="#aaaaaa"/><circle cx="311.7" cy="124.2" r="1.15" fill="#bababa"/><circle cx="308.4" cy="119.9" r="1.15" fill="#d7d7d7"/><circle cx="48.4" cy="103.6" r="1.15" fill="#bfbfbf"/><circle cx="48.3" cy="114.0" r="1.15" fill="#a9a9a9"/><circle cx="53.1" cy="123.3" r="1.15" fill="#c3c3c3"/><circle cx="49.0" cy="115.2" r="1.15" fill="#b7b7b7"/><circle cx="44.9" cy="118.3" r="1.15" fill="#adadad"/><circle cx="45.7" cy="119.1" r="1.15" fill="#b4b4b4"/><circle cx="53.2" cy="125.0" r="1.15" fill="#bcbcbc"/><circle cx="49.3" cy="114.3" r="1.15" fill="#bdbdbd"/><circle cx="49.1" cy="117.5" r="1.15" fill="#c3c3c3"/><circle cx="48.9" cy="109.1" r="1.15" fill="#bebebe"/><circle cx="44.0" cy="114.0" r="1.15" fill="#afafaf"/><circle cx="43.8" cy="117.8" r="1.15" fill="#bebebe"/><circle cx="47.2" cy="122.8" r="1.15" fill="#bcbcbc"/><circle cx="47.0" cy="122.1" r="1.15" fill="#b7b7b7"/><circle cx="46.2" cy="118.5" r="1.15" fill="#bebebe"/><circle cx="38.5" cy="122.9" r="1.15" fill="#c4c4c4"/><circle cx="45.4" cy="120.3" r="1.15" fill="#b7b7b7"/><circle cx="46.0" cy="121.4" r="1.15" fill="#bbbbbb"/><circle cx="42.8" cy="115.9" r="1.15" fill="#acacac"/><circle cx="46.8" cy="121.8" r="1.15" fill="#ababab"/><circle cx="45.1" cy="119.4" r="1.15" fill="#b7b7b7"/><circle cx="43.9" cy="121.0" r="1.15" fill="#bbbbbb"/><circle cx="44.0" cy="118.7" r="1.15" fill="#b4b4b4"/><circle cx="43.9" cy="122.4" r="1.15" fill="#aaaaaa"/><circle cx="60.0" cy="85.4" r="1.15" fill="#bebebe"/><circle cx="63.3" cy="119.3" r="1.15" fill="#afafaf"/><circle cx="56.8" cy="118.9" r="1.15" fill="#c1c1c1"/><circle cx="63.9" cy="123.7" r="1.15" fill="#c4c4c4"/><circle cx="59.5" cy="97.9" r="1.15" fill="#afafaf"/><circle cx="58.2" cy="106.4" r="1.15" fill="#a8a8a8"/><circle cx="56.2" cy="122.2" r="1.15" fill="#b4b4b4"/><circle cx="64.0" cy="124.2" r="1.15" fill="#bababa"/><circle cx="62.1" cy="111.4" r="1.15" fill="#c1c1c1"/><circle cx="62.0" cy="111.9" r="1.15" fill="#bfbfbf"/><circle cx="61.2" cy="96.0" r="1.15" fill="#c2c2c2"/><circle cx="59.9" cy="90.9" r="1.15" fill="#afafaf"/><circle cx="58.5" cy="107.8" r="1.15" fill="#bcbcbc"/><circle cx="56.6" cy="120.1" r="1.15" fill="#bfbfbf"/><circle cx="60.9" cy="98.0" r="1.15" fill="#bfbfbf"/><circle cx="61.7" cy="104.3" r="1.15" fill="#bcbcbc"/><circle cx="56.5" cy="118.5" r="1.15" fill="#a9a9a9"/><circle cx="56.1" cy="124.0" r="1.15" fill="#afafaf"/><circle cx="57.0" cy="116.5" r="1.15" fill="#ababab"/><circle cx="63.8" cy="122.6" r="1.15" fill="#aeaeae"/><circle cx="63.3" cy="116.8" r="1.15" fill="#c1c1c1"/><circle cx="56.7" cy="116.7" r="1.15" fill="#a8a8a8"/><circle cx="59.7" cy="103.7" r="1.15" fill="#a9a9a9"/><circle cx="60.8" cy="96.3" r="1.15" fill="#b6b6b6"/><circle cx="59.7" cy="110.4" r="1.15" fill="#a9a9a9"/><circle cx="60.3" cy="88.8" r="1.15" fill="#b4b4b4"/><circle cx="60.2" cy="112.6" r="1.15" fill="#afafaf"/><circle cx="59.6" cy="111.2" r="1.15" fill="#afafaf"/><circle cx="60.4" cy="86.6" r="1.15" fill="#c0c0c0"/><circle cx="58.7" cy="103.0" r="1.15" fill="#bdbdbd"/><circle cx="60.4" cy="102.5" r="1.15" fill="#a9a9a9"/><circle cx="60.1" cy="94.0" r="1.15" fill="#b9b9b9"/><circle cx="62.0" cy="101.6" r="1.15" fill="#bcbcbc"/><circle cx="68.4" cy="126.1" r="1.15" fill="#bababa"/><circle cx="63.6" cy="116.1" r="1.15" fill="#b5b5b5"/><circle cx="58.5" cy="119.5" r="1.15" fill="#b0b0b0"/><circle cx="63.8" cy="113.5" r="1.15" fill="#a9a9a9"/><circle cx="68.2" cy="124.7" r="1.15" fill="#acacac"/><circle cx="61.7" cy="112.8" r="1.15" fill="#b6b6b6"/><circle cx="60.3" cy="117.3" r="1.15" fill="#a8a8a8"/><circle cx="63.4" cy="108.0" r="1.15" fill="#b7b7b7"/><circle cx="62.1" cy="113.6" r="1.15" fill="#c0c0c0"/><circle cx="56.4" cy="124.0" r="1.15" fill="#ababab"/><circle cx="64.7" cy="111.4" r="1.15" fill="#c0c0c0"/><circle cx="56.3" cy="124.3" r="1.15" fill="#c4c4c4"/><circle cx="67.9" cy="124.5" r="1.15" fill="#bebebe"/><circle cx="64.9" cy="116.3" r="1.15" fill="#ababab"/><circle cx="55.6" cy="126.0" r="1.15" fill="#adadad"/><circle cx="61.6" cy="111.2" r="1.15" fill="#acacac"/><circle cx="61.3" cy="110.0" r="1.15" fill="#c1c1c1"/><circle cx="61.4" cy="110.1" r="1.15" fill="#b8b8b8"/><circle cx="61.9" cy="108.6" r="1.15" fill="#adadad"/><circle cx="62.3" cy="108.8" r="1.15" fill="#bbbbbb"/><circle cx="62.5" cy="117.7" r="1.15" fill="#b8b8b8"/><circle cx="62.4" cy="113.5" r="1.15" fill="#b2b2b2"/><circle cx="58.0" cy="107.8" r="1.15" fill="#ababab"/><circle cx="59.6" cy="116.0" r="1.15" fill="#b8b8b8"/><circle cx="57.2" cy="115.9" r="1.15" fill="#c1c1c1"/><circle cx="59.6" cy="119.2" r="1.15" fill="#c4c4c4"/><circle cx="61.8" cy="121.6" r="1.15" fill="#b4b4b4"/><circle cx="59.4" cy="113.1" r="1.15" fill="#c4c4c4"/><circle cx="55.1" cy="118.1" r="1.15" fill="#a8a8a8"/><circle cx="60.0" cy="119.8" r="1.15" fill="#aaaaaa"/><circle cx="58.8" cy="114.2" r="1.15" fill="#c3c3c3"/><circle cx="62.6" cy="124.4" r="1.15" fill="#a8a8a8"/><circle cx="57.1" cy="117.9" r="1.15" fill="#b9b9b9"/><circle cx="57.6" cy="118.0" r="1.15" fill="#bcbcbc"/><circle cx="58.2" cy="108.8" r="1.15" fill="#c2c2c2"/><circle cx="58.3" cy="118.1" r="1.15" fill="#aaaaaa"/><circle cx="73.6" cy="109.9" r="1.15" fill="#b8b8b8"/><circle cx="78.0" cy="121.0" r="1.15" fill="#b9b9b9"/><circle cx="69.5" cy="120.3" r="1.15" fill="#bbbbbb"/><circle cx="76.3" cy="120.3" r="1.15" fill="#bbbbbb"/><circle cx="73.1" cy="114.9" r="1.15" fill="#bbbbbb"/><circle cx="76.2" cy="117.0" r="1.15" fill="#c1c1c1"/><circle cx="78.9" cy="123.3" r="1.15" fill="#c1c1c1"/><circle cx="78.2" cy="121.3" r="1.15" fill="#b9b9b9"/><circle cx="77.5" cy="122.3" r="1.15" fill="#aaaaaa"/><circle cx="73.6" cy="114.4" r="1.15" fill="#bebebe"/><circle cx="78.0" cy="120.0" r="1.15" fill="#a9a9a9"/><circle cx="74.6" cy="114.5" r="1.15" fill="#bdbdbd"/><circle cx="74.3" cy="116.4" r="1.15" fill="#b9b9b9"/><circle cx="73.4" cy="113.9" r="1.15" fill="#bbbbbb"/><circle cx="72.1" cy="119.4" r="1.15" fill="#b1b1b1"/><circle cx="73.2" cy="116.2" r="1.15" fill="#b6b6b6"/><circle cx="70.0" cy="114.0" r="1.15" fill="#b4b4b4"/><circle cx="65.8" cy="124.4" r="1.15" fill="#bdbdbd"/><circle cx="71.2" cy="119.8" r="1.15" fill="#a8a8a8"/><circle cx="65.3" cy="125.6" r="1.15" fill="#b9b9b9"/><circle cx="72.1" cy="118.5" r="1.15" fill="#bfbfbf"/><circle cx="69.6" cy="120.5" r="1.15" fill="#aeaeae"/><circle cx="66.2" cy="122.3" r="1.15" fill="#a8a8a8"/><circle cx="71.5" cy="121.1" r="1.15" fill="#adadad"/><circle cx="70.9" cy="121.8" r="1.15" fill="#c2c2c2"/><circle cx="69.9" cy="119.7" r="1.15" fill="#b8b8b8"/><circle cx="86.0" cy="116.1" r="1.15" fill="#c1c1c1"/><circle cx="91.3" cy="122.8" r="1.15" fill="#c2c2c2"/><circle cx="89.7" cy="123.7" r="1.15" fill="#b6b6b6"/><circle cx="82.2" cy="123.0" r="1.15" fill="#aeaeae"/><circle cx="86.2" cy="119.0" r="1.15" fill="#ababab"/><circle cx="83.8" cy="120.8" r="1.15" fill="#bebebe"/><circle cx="90.9" cy="123.5" r="1.15" fill="#bcbcbc"/><circle cx="85.4" cy="120.9" r="1.15" fill="#bfbfbf"/><circle cx="85.6" cy="123.1" r="1.15" fill="#aeaeae"/><circle cx="86.7" cy="117.0" r="1.15" fill="#bdbdbd"/><circle cx="103.8" cy="96.6" r="1.15" fill="#b5b5b5"/><circle cx="102.2" cy="115.7" r="1.15" fill="#ababab"/><circle cx="105.0" cy="117.2" r="1.15" fill="#bbbbbb"/><circle cx="106.8" cy="125.5" r="1.15" fill="#aaaaaa"/><circle cx="105.6" cy="115.8" r="1.15" fill="#b9b9b9"/><circle cx="101.1" cy="122.7" r="1.15" fill="#b8b8b8"/><circle cx="101.6" cy="115.5" r="1.15" fill="#b3b3b3"/><circle cx="106.1" cy="118.4" r="1.15" fill="#bdbdbd"/><circle cx="105.9" cy="117.0" r="1.15" fill="#ababab"/><circle cx="103.8" cy="102.3" r="1.15" fill="#aaaaaa"/><circle cx="105.9" cy="112.1" r="1.15" fill="#bfbfbf"/><circle cx="103.7" cy="97.6" r="1.15" fill="#afafaf"/><circle cx="103.8" cy="107.8" r="1.15" fill="#c3c3c3"/><circle cx="101.0" cy="114.0" r="1.15" fill="#c4c4c4"/><circle cx="100.8" cy="120.8" r="1.15" fill="#c3c3c3"/><circle cx="104.5" cy="124.0" r="1.15" fill="#ababab"/><circle cx="102.3" cy="118.5" r="1.15" fill="#aaaaaa"/><circle cx="102.0" cy="117.0" r="1.15" fill="#b3b3b3"/><circle cx="105.9" cy="125.3" r="1.15" fill="#b0b0b0"/><circle cx="100.5" cy="119.9" r="1.15" fill="#b1b1b1"/><circle cx="101.7" cy="119.7" r="1.15" fill="#b1b1b1"/><circle cx="100.8" cy="118.3" r="1.15" fill="#c0c0c0"/><circle cx="100.9" cy="117.5" r="1.15" fill="#b1b1b1"/><circle cx="112.0" cy="115.1" r="1.15" fill="#acacac"/><circle cx="108.2" cy="121.3" r="1.15" fill="#b7b7b7"/><circle cx="115.0" cy="122.1" r="1.15" fill="#bbbbbb"/><circle cx="111.6" cy="116.0" r="1.15" fill="#bababa"/><circle cx="109.6" cy="121.5" r="1.15" fill="#b2b2b2"/><circle cx="111.8" cy="120.1" r="1.15" fill="#c0c0c0"/><circle cx="108.7" cy="120.4" r="1.15" fill="#aeaeae"/><circle cx="112.3" cy="118.4" r="1.15" fill="#a8a8a8"/><circle cx="111.3" cy="122.0" r="1.15" fill="#aaaaaa"/><circle cx="111.3" cy="120.1" r="1.15" fill="#aaaaaa"/><circle cx="125.0" cy="86.2" r="1.15" fill="#a9a9a9"/><circle cx="121.6" cy="118.8" r="1.15" fill="#ababab"/><circle cx="123.9" cy="102.9" r="1.15" fill="#bdbdbd"/><circle cx="125.7" cy="108.2" r="1.15" fill="#bebebe"/><circle cx="126.5" cy="100.9" r="1.15" fill="#c0c0c0"/><circle cx="128.1" cy="121.0" r="1.15" fill="#bbbbbb"/><circle cx="122.7" cy="113.3" r="1.15" fill="#aeaeae"/><circle cx="125.6" cy="108.5" r="1.15" fill="#b8b8b8"/><circle cx="127.3" cy="108.8" r="1.15" fill="#b4b4b4"/><circle cx="123.0" cy="106.7" r="1.15" fill="#b6b6b6"/><circle cx="122.2" cy="119.3" r="1.15" fill="#b5b5b5"/><circle cx="128.6" cy="123.3" r="1.15" fill="#bbbbbb"/><circle cx="123.9" cy="97.8" r="1.15" fill="#bababa"/><circle cx="123.0" cy="105.3" r="1.15" fill="#bcbcbc"/><circle cx="126.7" cy="110.2" r="1.15" fill="#aeaeae"/><circle cx="126.6" cy="104.8" r="1.15" fill="#c0c0c0"/><circle cx="128.0" cy="115.4" r="1.15" fill="#bfbfbf"/><circle cx="125.0" cy="88.8" r="1.15" fill="#c0c0c0"/><circle cx="127.4" cy="107.9" r="1.15" fill="#c1c1c1"/><circle cx="122.3" cy="117.8" r="1.15" fill="#aaaaaa"/><circle cx="128.0" cy="116.6" r="1.15" fill="#a8a8a8"/><circle cx="124.3" cy="103.8" r="1.15" fill="#c2c2c2"/><circle cx="125.2" cy="98.6" r="1.15" fill="#a9a9a9"/><circle cx="123.6" cy="110.5" r="1.15" fill="#bebebe"/><circle cx="124.9" cy="99.0" r="1.15" fill="#bfbfbf"/><circle cx="124.6" cy="96.6" r="1.15" fill="#a8a8a8"/><circle cx="125.2" cy="109.3" r="1.15" fill="#bdbdbd"/><circle cx="125.0" cy="89.4" r="1.15" fill="#bdbdbd"/><circle cx="124.6" cy="104.9" r="1.15" fill="#acacac"/><circle cx="124.7" cy="101.8" r="1.15" fill="#c3c3c3"/><circle cx="125.9" cy="94.9" r="1.15" fill="#b5b5b5"/><circle cx="124.8" cy="89.5" r="1.15" fill="#c1c1c1"/><circle cx="122.0" cy="101.6" r="1.15" fill="#c4c4c4"/><circle cx="125.5" cy="120.2" r="1.15" fill="#a9a9a9"/><circle cx="118.6" cy="116.3" r="1.15" fill="#adadad"/><circle cx="122.5" cy="106.5" r="1.15" fill="#bbbbbb"/><circle cx="123.3" cy="115.0" r="1.15" fill="#b1b1b1"/><circle cx="117.0" cy="125.6" r="1.15" fill="#b6b6b6"/><circle cx="121.5" cy="105.0" r="1.15" fill="#b0b0b0"/><circle cx="119.7" cy="115.0" r="1.15" fill="#bebebe"/><circle cx="117.8" cy="122.5" r="1.15" fill="#acacac"/><circle cx="117.4" cy="124.2" r="1.15" fill="#b0b0b0"/><circle cx="117.3" cy="124.6" r="1.15" fill="#c1c1c1"/><circle cx="125.3" cy="117.9" r="1.15" fill="#b1b1b1"/><circle cx="124.3" cy="119.4" r="1.15" fill="#c3c3c3"/><circle cx="121.9" cy="118.8" r="1.15" fill="#b3b3b3"/><circle cx="122.9" cy="113.6" r="1.15" fill="#a8a8a8"/><circle cx="122.5" cy="104.5" r="1.15" fill="#b2b2b2"/><circle cx="122.1" cy="118.6" r="1.15" fill="#b4b4b4"/><circle cx="121.2" cy="105.6" r="1.15" fill="#ababab"/><circle cx="122.1" cy="116.1" r="1.15" fill="#adadad"/><circle cx="135.4" cy="101.8" r="1.15" fill="#b6b6b6"/><circle cx="137.3" cy="118.7" r="1.15" fill="#adadad"/><circle cx="133.3" cy="121.7" r="1.15" fill="#bcbcbc"/><circle cx="136.8" cy="113.6" r="1.15" fill="#bcbcbc"/><circle cx="134.9" cy="106.5" r="1.15" fill="#b7b7b7"/><circle cx="137.3" cy="122.7" r="1.15" fill="#c0c0c0"/><circle cx="134.4" cy="112.6" r="1.15" fill="#bbbbbb"/><circle cx="135.2" cy="107.3" r="1.15" fill="#c2c2c2"/><circle cx="136.0" cy="105.2" r="1.15" fill="#c0c0c0"/><circle cx="135.5" cy="115.6" r="1.15" fill="#c0c0c0"/><circle cx="137.0" cy="114.0" r="1.15" fill="#c0c0c0"/><circle cx="137.3" cy="115.7" r="1.15" fill="#b2b2b2"/><circle cx="135.5" cy="120.3" r="1.15" fill="#b0b0b0"/><circle cx="135.4" cy="118.9" r="1.15" fill="#c1c1c1"/><circle cx="140.8" cy="124.2" r="1.15" fill="#afafaf"/><circle cx="137.1" cy="114.6" r="1.15" fill="#a8a8a8"/><circle cx="136.6" cy="117.6" r="1.15" fill="#b5b5b5"/><circle cx="143.8" cy="107.8" r="1.15" fill="#b9b9b9"/><circle cx="146.2" cy="120.4" r="1.15" fill="#a8a8a8"/><circle cx="140.1" cy="124.8" r="1.15" fill="#b2b2b2"/><circle cx="145.0" cy="116.0" r="1.15" fill="#afafaf"/><circle cx="145.4" cy="117.2" r="1.15" fill="#b9b9b9"/><circle cx="142.7" cy="115.8" r="1.15" fill="#c4c4c4"/><circle cx="142.0" cy="119.7" r="1.15" fill="#b3b3b3"/><circle cx="143.6" cy="113.9" r="1.15" fill="#c2c2c2"/><circle cx="144.7" cy="108.6" r="1.15" fill="#b2b2b2"/><circle cx="144.4" cy="119.0" r="1.15" fill="#a8a8a8"/><circle cx="153.4" cy="99.5" r="1.15" fill="#c0c0c0"/><circle cx="154.4" cy="112.2" r="1.15" fill="#c0c0c0"/><circle cx="157.1" cy="124.4" r="1.15" fill="#c0c0c0"/><circle cx="154.4" cy="115.4" r="1.15" fill="#afafaf"/><circle cx="153.7" cy="112.4" r="1.15" fill="#c4c4c4"/><circle cx="155.6" cy="118.1" r="1.15" fill="#b2b2b2"/><circle cx="154.2" cy="107.4" r="1.15" fill="#c1c1c1"/><circle cx="156.5" cy="119.7" r="1.15" fill="#aaaaaa"/><circle cx="156.2" cy="117.7" r="1.15" fill="#b9b9b9"/><circle cx="153.6" cy="109.9" r="1.15" fill="#adadad"/><circle cx="155.0" cy="114.4" r="1.15" fill="#ababab"/><circle cx="156.2" cy="121.0" r="1.15" fill="#a9a9a9"/><circle cx="156.6" cy="120.2" r="1.15" fill="#c2c2c2"/><circle cx="152.5" cy="114.0" r="1.15" fill="#c3c3c3"/><circle cx="153.4" cy="106.4" r="1.15" fill="#b2b2b2"/><circle cx="153.3" cy="118.1" r="1.15" fill="#b5b5b5"/><circle cx="153.9" cy="106.2" r="1.15" fill="#bcbcbc"/><circle cx="152.2" cy="112.0" r="1.15" fill="#b2b2b2"/><circle cx="153.5" cy="102.0" r="1.15" fill="#b3b3b3"/><circle cx="154.0" cy="111.6" r="1.15" fill="#aaaaaa"/><circle cx="155.0" cy="109.9" r="1.15" fill="#b9b9b9"/><circle cx="156.6" cy="115.1" r="1.15" fill="#ababab"/><circle cx="150.1" cy="125.7" r="1.15" fill="#b6b6b6"/><circle cx="157.2" cy="120.2" r="1.15" fill="#adadad"/><circle cx="153.5" cy="118.6" r="1.15" fill="#aeaeae"/><circle cx="154.2" cy="117.7" r="1.15" fill="#b8b8b8"/><circle cx="158.9" cy="122.6" r="1.15" fill="#a9a9a9"/><circle cx="160.0" cy="125.4" r="1.15" fill="#bcbcbc"/><circle cx="153.6" cy="112.9" r="1.15" fill="#bdbdbd"/><circle cx="155.2" cy="110.9" r="1.15" fill="#b9b9b9"/><circle cx="155.3" cy="120.5" r="1.15" fill="#afafaf"/><circle cx="167.2" cy="92.6" r="1.15" fill="#b5b5b5"/><circle cx="164.1" cy="125.8" r="1.15" fill="#b8b8b8"/><circle cx="165.6" cy="114.3" r="1.15" fill="#bebebe"/><circle cx="167.9" cy="99.4" r="1.15" fill="#c0c0c0"/><circle cx="165.4" cy="118.3" r="1.15" fill="#bcbcbc"/><circle cx="169.0" cy="110.5" r="1.15" fill="#aaaaaa"/><circle cx="168.7" cy="116.8" r="1.15" fill="#bcbcbc"/><circle cx="168.9" cy="114.1" r="1.15" fill="#aeaeae"/><circle cx="166.8" cy="110.5" r="1.15" fill="#aeaeae"/><circle cx="167.6" cy="95.1" r="1.15" fill="#b1b1b1"/><circle cx="166.8" cy="112.9" r="1.15" fill="#c0c0c0"/><circle cx="166.2" cy="95.6" r="1.15" fill="#c4c4c4"/><circle cx="167.5" cy="104.9" r="1.15" fill="#a8a8a8"/><circle cx="164.0" cy="109.9" r="1.15" fill="#bebebe"/><circle cx="162.5" cy="115.7" r="1.15" fill="#b0b0b0"/><circle cx="163.6" cy="116.0" r="1.15" fill="#b5b5b5"/><circle cx="163.1" cy="115.0" r="1.15" fill="#bebebe"/><circle cx="165.7" cy="118.4" r="1.15" fill="#ababab"/><circle cx="162.3" cy="115.1" r="1.15" fill="#adadad"/><circle cx="164.9" cy="118.5" r="1.15" fill="#bbbbbb"/><circle cx="164.4" cy="114.5" r="1.15" fill="#b6b6b6"/><circle cx="164.3" cy="114.9" r="1.15" fill="#bbbbbb"/><circle cx="164.0" cy="115.1" r="1.15" fill="#bdbdbd"/><circle cx="177.6" cy="77.5" r="1.15" fill="#adadad"/><circle cx="179.0" cy="98.7" r="1.15" fill="#bebebe"/><circle cx="174.3" cy="119.4" r="1.15" fill="#bfbfbf"/><circle cx="174.4" cy="121.6" r="1.15" fill="#b1b1b1"/><circle cx="180.9" cy="119.7" r="1.15" fill="#c0c0c0"/><circle cx="177.8" cy="105.3" r="1.15" fill="#b4b4b4"/><circle cx="175.6" cy="107.2" r="1.15" fill="#afafaf"/><circle cx="178.6" cy="97.8" r="1.15" fill="#b2b2b2"/><circle cx="181.2" cy="125.4" r="1.15" fill="#b0b0b0"/><circle cx="180.1" cy="107.2" r="1.15" fill="#a8a8a8"/><circle cx="174.5" cy="115.7" r="1.15" fill="#aaaaaa"/><circle cx="180.2" cy="108.4" r="1.15" fill="#bebebe"/><circle cx="175.6" cy="113.9" r="1.15" fill="#c3c3c3"/><circle cx="179.1" cy="111.7" r="1.15" fill="#aeaeae"/><circle cx="175.9" cy="97.2" r="1.15" fill="#bcbcbc"/><circle cx="175.4" cy="115.4" r="1.15" fill="#b0b0b0"/><circle cx="179.7" cy="102.6" r="1.15" fill="#bbbbbb"/><circle cx="175.9" cy="107.8" r="1.15" fill="#bcbcbc"/><circle cx="174.3" cy="121.8" r="1.15" fill="#bcbcbc"/><circle cx="176.0" cy="106.9" r="1.15" fill="#bfbfbf"/><circle cx="176.9" cy="84.8" r="1.15" fill="#bababa"/><circle cx="179.4" cy="109.4" r="1.15" fill="#acacac"/><circle cx="176.9" cy="99.2" r="1.15" fill="#bcbcbc"/><circle cx="178.0" cy="106.8" r="1.15" fill="#aaaaaa"/><circle cx="177.7" cy="85.4" r="1.15" fill="#bbbbbb"/><circle cx="176.4" cy="82.3" r="1.15" fill="#aaaaaa"/><circle cx="177.3" cy="95.3" r="1.15" fill="#bebebe"/><circle cx="177.3" cy="79.3" r="1.15" fill="#b4b4b4"/><circle cx="177.3" cy="79.2" r="1.15" fill="#b1b1b1"/><circle cx="176.7" cy="84.7" r="1.15" fill="#aaaaaa"/><circle cx="177.5" cy="91.4" r="1.15" fill="#aaaaaa"/><circle cx="177.4" cy="110.7" r="1.15" fill="#bfbfbf"/><circle cx="176.0" cy="99.5" r="1.15" fill="#aaaaaa"/><circle cx="178.3" cy="114.9" r="1.15" fill="#b9b9b9"/><circle cx="176.6" cy="106.3" r="1.15" fill="#a8a8a8"/><circle cx="175.4" cy="106.5" r="1.15" fill="#aaaaaa"/><circle cx="175.5" cy="107.3" r="1.15" fill="#b3b3b3"/><circle cx="175.7" cy="105.7" r="1.15" fill="#aaaaaa"/><circle cx="175.7" cy="110.1" r="1.15" fill="#acacac"/><circle cx="176.5" cy="110.0" r="1.15" fill="#b9b9b9"/><circle cx="179.4" cy="116.2" r="1.15" fill="#ababab"/><circle cx="179.8" cy="120.5" r="1.15" fill="#bfbfbf"/><circle cx="171.5" cy="121.3" r="1.15" fill="#b7b7b7"/><circle cx="173.6" cy="113.2" r="1.15" fill="#bcbcbc"/><circle cx="179.4" cy="120.8" r="1.15" fill="#b8b8b8"/><circle cx="179.1" cy="115.8" r="1.15" fill="#bebebe"/><circle cx="180.4" cy="121.3" r="1.15" fill="#c4c4c4"/><circle cx="173.5" cy="111.8" r="1.15" fill="#b0b0b0"/><circle cx="176.3" cy="107.7" r="1.15" fill="#c0c0c0"/><circle cx="175.6" cy="108.1" r="1.15" fill="#b6b6b6"/><circle cx="176.2" cy="104.7" r="1.15" fill="#adadad"/><circle cx="176.0" cy="111.8" r="1.15" fill="#c4c4c4"/><circle cx="176.1" cy="111.8" r="1.15" fill="#ababab"/><circle cx="176.4" cy="106.2" r="1.15" fill="#b0b0b0"/><circle cx="176.5" cy="115.2" r="1.15" fill="#b1b1b1"/><circle cx="182.0" cy="107.8" r="1.15" fill="#b4b4b4"/><circle cx="186.7" cy="123.7" r="1.15" fill="#b5b5b5"/><circle cx="183.6" cy="113.2" r="1.15" fill="#bebebe"/><circle cx="180.1" cy="118.0" r="1.15" fill="#bebebe"/><circle cx="185.8" cy="122.0" r="1.15" fill="#adadad"/><circle cx="181.1" cy="113.2" r="1.15" fill="#b6b6b6"/><circle cx="180.7" cy="116.8" r="1.15" fill="#bfbfbf"/><circle cx="183.7" cy="116.4" r="1.15" fill="#c4c4c4"/><circle cx="182.7" cy="117.1" r="1.15" fill="#ababab"/><circle cx="181.7" cy="117.2" r="1.15" fill="#c3c3c3"/><circle cx="181.6" cy="115.3" r="1.15" fill="#b6b6b6"/><circle cx="192.3" cy="109.3" r="1.15" fill="#b2b2b2"/><circle cx="188.3" cy="122.3" r="1.15" fill="#b2b2b2"/><circle cx="194.7" cy="120.8" r="1.15" fill="#c2c2c2"/><circle cx="192.5" cy="118.9" r="1.15" fill="#aeaeae"/><circle cx="188.5" cy="122.3" r="1.15" fill="#a8a8a8"/><circle cx="194.0" cy="116.5" r="1.15" fill="#b4b4b4"/><circle cx="192.5" cy="111.7" r="1.15" fill="#c2c2c2"/><circle cx="189.7" cy="118.9" r="1.15" fill="#c1c1c1"/><circle cx="192.8" cy="114.5" r="1.15" fill="#afafaf"/><circle cx="192.3" cy="117.8" r="1.15" fill="#ababab"/><circle cx="191.0" cy="118.4" r="1.15" fill="#c3c3c3"/><circle cx="198.0" cy="116.1" r="1.15" fill="#aeaeae"/><circle cx="194.3" cy="122.2" r="1.15" fill="#c1c1c1"/><circle cx="198.4" cy="119.3" r="1.15" fill="#b3b3b3"/><circle cx="191.6" cy="125.1" r="1.15" fill="#bdbdbd"/><circle cx="205.2" cy="125.6" r="1.15" fill="#b2b2b2"/><circle cx="202.4" cy="121.4" r="1.15" fill="#b0b0b0"/><circle cx="201.4" cy="122.2" r="1.15" fill="#bbbbbb"/><circle cx="197.6" cy="123.1" r="1.15" fill="#a8a8a8"/><circle cx="198.0" cy="120.4" r="1.15" fill="#c3c3c3"/><circle cx="196.4" cy="119.2" r="1.15" fill="#aeaeae"/><circle cx="210.3" cy="81.4" r="1.15" fill="#aaaaaa"/><circle cx="208.8" cy="111.1" r="1.15" fill="#c4c4c4"/><circle cx="212.5" cy="117.5" r="1.15" fill="#aaaaaa"/><circle cx="211.0" cy="90.6" r="1.15" fill="#adadad"/><circle cx="212.5" cy="113.4" r="1.15" fill="#c1c1c1"/><circle cx="207.6" cy="121.6" r="1.15" fill="#bdbdbd"/><circle cx="212.5" cy="118.5" r="1.15" fill="#bdbdbd"/><circle cx="210.0" cy="99.1" r="1.15" fill="#bababa"/><circle cx="209.8" cy="89.0" r="1.15" fill="#b1b1b1"/><circle cx="211.2" cy="96.0" r="1.15" fill="#bdbdbd"/><circle cx="207.9" cy="116.5" r="1.15" fill="#b0b0b0"/><circle cx="213.0" cy="119.1" r="1.15" fill="#adadad"/><circle cx="209.9" cy="86.2" r="1.15" fill="#a9a9a9"/><circle cx="208.3" cy="117.0" r="1.15" fill="#acacac"/><circle cx="210.0" cy="90.2" r="1.15" fill="#b7b7b7"/><circle cx="210.5" cy="112.7" r="1.15" fill="#ababab"/><circle cx="210.3" cy="96.6" r="1.15" fill="#c2c2c2"/><circle cx="210.7" cy="85.0" r="1.15" fill="#a9a9a9"/><circle cx="210.2" cy="101.3" r="1.15" fill="#b4b4b4"/><circle cx="210.8" cy="99.1" r="1.15" fill="#b0b0b0"/><circle cx="208.0" cy="101.6" r="1.15" fill="#bcbcbc"/><circle cx="203.7" cy="120.7" r="1.15" fill="#aaaaaa"/><circle cx="208.7" cy="116.4" r="1.15" fill="#bababa"/><circle cx="208.0" cy="103.8" r="1.15" fill="#bababa"/><circle cx="205.0" cy="117.6" r="1.15" fill="#afafaf"/><circle cx="211.4" cy="120.4" r="1.15" fill="#a9a9a9"/><circle cx="206.3" cy="109.7" r="1.15" fill="#aaaaaa"/><circle cx="208.5" cy="106.8" r="1.15" fill="#b1b1b1"/><circle cx="211.6" cy="121.3" r="1.15" fill="#a8a8a8"/><circle cx="207.0" cy="116.4" r="1.15" fill="#b0b0b0"/><circle cx="207.6" cy="115.8" r="1.15" fill="#c3c3c3"/><circle cx="207.6" cy="102.6" r="1.15" fill="#acacac"/><circle cx="208.3" cy="110.3" r="1.15" fill="#b3b3b3"/><circle cx="208.7" cy="117.6" r="1.15" fill="#b3b3b3"/><circle cx="214.0" cy="107.8" r="1.15" fill="#b9b9b9"/><circle cx="212.8" cy="114.2" r="1.15" fill="#bfbfbf"/><circle cx="211.9" cy="118.2" r="1.15" fill="#adadad"/><circle cx="218.0" cy="121.8" r="1.15" fill="#acacac"/><circle cx="212.0" cy="119.1" r="1.15" fill="#b3b3b3"/><circle cx="212.8" cy="116.1" r="1.15" fill="#c1c1c1"/><circle cx="214.4" cy="115.7" r="1.15" fill="#bfbfbf"/><circle cx="214.3" cy="112.7" r="1.15" fill="#b0b0b0"/><circle cx="214.3" cy="109.2" r="1.15" fill="#b3b3b3"/><circle cx="213.5" cy="119.1" r="1.15" fill="#b3b3b3"/><circle cx="229.3" cy="100.3" r="1.15" fill="#adadad"/><circle cx="232.7" cy="123.1" r="1.15" fill="#b8b8b8"/><circle cx="229.0" cy="106.1" r="1.15" fill="#bdbdbd"/><circle cx="230.6" cy="110.3" r="1.15" fill="#ababab"/><circle cx="225.5" cy="126.0" r="1.15" fill="#c3c3c3"/><circle cx="232.8" cy="122.8" r="1.15" fill="#afafaf"/><circle cx="225.7" cy="124.7" r="1.15" fill="#c1c1c1"/><circle cx="228.8" cy="113.3" r="1.15" fill="#adadad"/><circle cx="228.5" cy="115.0" r="1.15" fill="#b1b1b1"/><circle cx="230.1" cy="111.5" r="1.15" fill="#c0c0c0"/><circle cx="229.2" cy="105.9" r="1.15" fill="#b4b4b4"/><circle cx="225.0" cy="112.0" r="1.15" fill="#c0c0c0"/><circle cx="221.2" cy="122.5" r="1.15" fill="#a8a8a8"/><circle cx="220.8" cy="120.6" r="1.15" fill="#afafaf"/><circle cx="220.1" cy="124.0" r="1.15" fill="#bcbcbc"/><circle cx="229.9" cy="122.3" r="1.15" fill="#aeaeae"/><circle cx="225.0" cy="119.9" r="1.15" fill="#c4c4c4"/><circle cx="227.9" cy="118.7" r="1.15" fill="#afafaf"/><circle cx="225.2" cy="115.1" r="1.15" fill="#c0c0c0"/><circle cx="225.4" cy="114.8" r="1.15" fill="#b4b4b4"/><circle cx="225.2" cy="120.6" r="1.15" fill="#c3c3c3"/><circle cx="235.5" cy="87.0" r="1.15" fill="#b3b3b3"/><circle cx="236.9" cy="109.1" r="1.15" fill="#afafaf"/><circle cx="235.6" cy="99.3" r="1.15" fill="#bcbcbc"/><circle cx="233.9" cy="116.9" r="1.15" fill="#c4c4c4"/><circle cx="233.2" cy="122.9" r="1.15" fill="#b7b7b7"/><circle cx="237.2" cy="112.8" r="1.15" fill="#b0b0b0"/><circle cx="235.2" cy="102.0" r="1.15" fill="#c3c3c3"/><circle cx="237.4" cy="113.5" r="1.15" fill="#a8a8a8"/><circle cx="234.8" cy="111.1" r="1.15" fill="#a9a9a9"/><circle cx="235.8" cy="94.6" r="1.15" fill="#ababab"/><circle cx="236.1" cy="91.5" r="1.15" fill="#bdbdbd"/><circle cx="239.2" cy="90.1" r="1.15" fill="#b4b4b4"/><circle cx="241.1" cy="111.7" r="1.15" fill="#c2c2c2"/><circle cx="240.6" cy="112.3" r="1.15" fill="#b3b3b3"/><circle cx="237.7" cy="110.4" r="1.15" fill="#afafaf"/><circle cx="237.4" cy="108.6" r="1.15" fill="#b1b1b1"/><circle cx="240.2" cy="111.3" r="1.15" fill="#a8a8a8"/><circle cx="242.2" cy="124.4" r="1.15" fill="#b7b7b7"/><circle cx="237.1" cy="117.8" r="1.15" fill="#b6b6b6"/><circle cx="240.2" cy="104.0" r="1.15" fill="#b7b7b7"/><circle cx="237.3" cy="117.3" r="1.15" fill="#ababab"/><circle cx="239.4" cy="105.8" r="1.15" fill="#ababab"/><circle cx="239.7" cy="114.6" r="1.15" fill="#b6b6b6"/><circle cx="238.7" cy="110.5" r="1.15" fill="#b9b9b9"/><circle cx="239.9" cy="99.6" r="1.15" fill="#bebebe"/><circle cx="241.0" cy="103.6" r="1.15" fill="#b7b7b7"/><circle cx="241.3" cy="115.7" r="1.15" fill="#aaaaaa"/><circle cx="240.9" cy="116.2" r="1.15" fill="#b4b4b4"/><circle cx="244.7" cy="115.4" r="1.15" fill="#ababab"/><circle cx="246.4" cy="123.3" r="1.15" fill="#b7b7b7"/><circle cx="238.1" cy="117.6" r="1.15" fill="#b7b7b7"/><circle cx="242.1" cy="109.4" r="1.15" fill="#adadad"/><circle cx="237.1" cy="118.7" r="1.15" fill="#afafaf"/><circle cx="244.5" cy="115.7" r="1.15" fill="#b5b5b5"/><circle cx="246.3" cy="121.8" r="1.15" fill="#b6b6b6"/><circle cx="238.4" cy="114.8" r="1.15" fill="#a9a9a9"/><circle cx="241.0" cy="116.7" r="1.15" fill="#ababab"/><circle cx="241.0" cy="117.3" r="1.15" fill="#aeaeae"/><circle cx="240.9" cy="114.3" r="1.15" fill="#aaaaaa"/><circle cx="241.4" cy="112.3" r="1.15" fill="#b0b0b0"/><circle cx="240.7" cy="118.0" r="1.15" fill="#b3b3b3"/><circle cx="253.9" cy="97.4" r="1.15" fill="#b6b6b6"/><circle cx="255.6" cy="115.6" r="1.15" fill="#b7b7b7"/><circle cx="255.1" cy="113.8" r="1.15" fill="#afafaf"/><circle cx="255.2" cy="117.9" r="1.15" fill="#b2b2b2"/><circle cx="252.1" cy="118.7" r="1.15" fill="#b9b9b9"/><circle cx="251.5" cy="124.8" r="1.15" fill="#a9a9a9"/><circle cx="254.3" cy="109.3" r="1.15" fill="#aaaaaa"/><circle cx="254.4" cy="104.2" r="1.15" fill="#b8b8b8"/><circle cx="252.9" cy="116.3" r="1.15" fill="#afafaf"/><circle cx="254.5" cy="103.6" r="1.15" fill="#b7b7b7"/><circle cx="259.6" cy="94.9" r="1.15" fill="#bfbfbf"/><circle cx="260.8" cy="114.2" r="1.15" fill="#aeaeae"/><circle cx="260.4" cy="115.0" r="1.15" fill="#bababa"/><circle cx="257.0" cy="125.9" r="1.15" fill="#bbbbbb"/><circle cx="261.4" cy="118.5" r="1.15" fill="#c3c3c3"/><circle cx="258.4" cy="116.9" r="1.15" fill="#c3c3c3"/><circle cx="258.2" cy="117.2" r="1.15" fill="#b4b4b4"/><circle cx="259.5" cy="110.2" r="1.15" fill="#ababab"/><circle cx="260.3" cy="111.8" r="1.15" fill="#a9a9a9"/><circle cx="259.4" cy="111.6" r="1.15" fill="#b5b5b5"/><circle cx="257.0" cy="107.8" r="1.15" fill="#b8b8b8"/><circle cx="262.8" cy="124.7" r="1.15" fill="#a9a9a9"/><circle cx="257.7" cy="109.6" r="1.15" fill="#afafaf"/><circle cx="262.3" cy="122.4" r="1.15" fill="#b8b8b8"/><circle cx="257.5" cy="116.2" r="1.15" fill="#adadad"/><circle cx="251.7" cy="124.0" r="1.15" fill="#b8b8b8"/><circle cx="251.2" cy="123.7" r="1.15" fill="#c3c3c3"/><circle cx="259.6" cy="119.5" r="1.15" fill="#b2b2b2"/><circle cx="256.9" cy="111.6" r="1.15" fill="#aeaeae"/><circle cx="257.3" cy="110.4" r="1.15" fill="#ababab"/><circle cx="257.2" cy="108.4" r="1.15" fill="#aaaaaa"/><circle cx="277.4" cy="95.3" r="1.15" fill="#b7b7b7"/><circle cx="277.0" cy="104.8" r="1.15" fill="#b0b0b0"/><circle cx="275.4" cy="119.4" r="1.15" fill="#b6b6b6"/><circle cx="275.4" cy="118.3" r="1.15" fill="#b6b6b6"/><circle cx="275.9" cy="117.1" r="1.15" fill="#c1c1c1"/><circle cx="278.8" cy="114.5" r="1.15" fill="#bfbfbf"/><circle cx="279.1" cy="114.0" r="1.15" fill="#acacac"/><circle cx="275.2" cy="122.2" r="1.15" fill="#aaaaaa"/><circle cx="277.7" cy="101.0" r="1.15" fill="#c1c1c1"/><circle cx="277.6" cy="113.5" r="1.15" fill="#b6b6b6"/><circle cx="277.3" cy="101.3" r="1.15" fill="#bcbcbc"/><circle cx="274.0" cy="109.9" r="1.15" fill="#b2b2b2"/><circle cx="275.2" cy="118.7" r="1.15" fill="#ababab"/><circle cx="271.6" cy="115.4" r="1.15" fill="#aeaeae"/><circle cx="277.7" cy="122.6" r="1.15" fill="#b0b0b0"/><circle cx="277.8" cy="122.1" r="1.15" fill="#bdbdbd"/><circle cx="274.1" cy="117.7" r="1.15" fill="#c1c1c1"/><circle cx="277.9" cy="119.5" r="1.15" fill="#b3b3b3"/><circle cx="270.1" cy="118.7" r="1.15" fill="#aaaaaa"/><circle cx="274.2" cy="113.9" r="1.15" fill="#ababab"/><circle cx="273.9" cy="121.5" r="1.15" fill="#bebebe"/><circle cx="273.8" cy="111.7" r="1.15" fill="#b7b7b7"/><circle cx="289.7" cy="101.6" r="1.15" fill="#b7b7b7"/><circle cx="286.8" cy="124.2" r="1.15" fill="#b0b0b0"/><circle cx="288.6" cy="117.8" r="1.15" fill="#adadad"/><circle cx="290.3" cy="116.5" r="1.15" fill="#b8b8b8"/><circle cx="292.0" cy="122.4" r="1.15" fill="#a8a8a8"/><circle cx="288.9" cy="113.4" r="1.15" fill="#bcbcbc"/><circle cx="290.6" cy="108.1" r="1.15" fill="#bcbcbc"/><circle cx="288.8" cy="110.8" r="1.15" fill="#c1c1c1"/><circle cx="289.2" cy="106.1" r="1.15" fill="#b8b8b8"/><circle cx="289.2" cy="107.4" r="1.15" fill="#c4c4c4"/><circle cx="304.0" cy="105.7" r="1.15" fill="#a8a8a8"/><circle cx="302.5" cy="119.8" r="1.15" fill="#bcbcbc"/><circle cx="303.7" cy="109.1" r="1.15" fill="#b7b7b7"/><circle cx="305.4" cy="118.6" r="1.15" fill="#bdbdbd"/><circle cx="303.1" cy="113.0" r="1.15" fill="#bfbfbf"/><circle cx="307.4" cy="123.6" r="1.15" fill="#a9a9a9"/><circle cx="305.9" cy="117.2" r="1.15" fill="#b9b9b9"/><circle cx="305.2" cy="114.2" r="1.15" fill="#bcbcbc"/><circle cx="304.0" cy="119.3" r="1.15" fill="#afafaf"/><circle cx="304.2" cy="109.8" r="1.15" fill="#c0c0c0"/><circle cx="302.9" cy="108.5" r="1.15" fill="#b7b7b7"/><circle cx="308.0" cy="109.9" r="1.15" fill="#bdbdbd"/><circle cx="303.9" cy="119.4" r="1.15" fill="#bbbbbb"/><circle cx="309.0" cy="112.5" r="1.15" fill="#acacac"/><circle cx="309.2" cy="112.4" r="1.15" fill="#bcbcbc"/><circle cx="314.1" cy="124.1" r="1.15" fill="#b3b3b3"/><circle cx="310.6" cy="118.4" r="1.15" fill="#acacac"/><circle cx="310.0" cy="115.0" r="1.15" fill="#b4b4b4"/><circle cx="305.5" cy="118.4" r="1.15" fill="#c1c1c1"/><circle cx="315.0" cy="124.9" r="1.15" fill="#c4c4c4"/><circle cx="310.7" cy="116.0" r="1.15" fill="#b2b2b2"/><circle cx="310.5" cy="115.0" r="1.15" fill="#bfbfbf"/><circle cx="306.9" cy="117.5" r="1.15" fill="#a9a9a9"/><circle cx="304.9" cy="117.8" r="1.15" fill="#c3c3c3"/><circle cx="315.0" cy="124.1" r="1.15" fill="#c3c3c3"/><circle cx="307.6" cy="115.7" r="1.15" fill="#b3b3b3"/><circle cx="304.9" cy="120.7" r="1.15" fill="#bdbdbd"/><circle cx="308.7" cy="118.9" r="1.15" fill="#c4c4c4"/><circle cx="306.3" cy="116.8" r="1.15" fill="#bcbcbc"/><circle cx="300.7" cy="125.3" r="1.15" fill="#adadad"/><circle cx="308.4" cy="111.6" r="1.15" fill="#bebebe"/><circle cx="308.0" cy="117.0" r="1.15" fill="#afafaf"/><circle cx="307.6" cy="119.1" r="1.15" fill="#a8a8a8"/><circle cx="307.9" cy="114.5" r="1.15" fill="#bbbbbb"/><circle cx="307.1" cy="117.2" r="1.15" fill="#b6b6b6"/><circle cx="308.9" cy="117.8" r="1.15" fill="#c4c4c4"/><circle cx="308.2" cy="117.6" r="1.15" fill="#bfbfbf"/><circle cx="308.3" cy="112.4" r="1.15" fill="#aaaaaa"/><circle cx="309.1" cy="118.1" r="1.15" fill="#b6b6b6"/><circle cx="296.8" cy="51.9" r="1.15" fill="#aeaeae"/><circle cx="297.2" cy="59.4" r="1.15" fill="#c3c3c3"/><circle cx="297.1" cy="66.2" r="1.15" fill="#a9a9a9"/><circle cx="297.0" cy="71.6" r="1.15" fill="#b1b1b1"/><circle cx="297.2" cy="77.3" r="1.15" fill="#b6b6b6"/><circle cx="297.3" cy="83.9" r="1.15" fill="#acacac"/><circle cx="296.8" cy="90.1" r="1.15" fill="#c2c2c2"/><circle cx="296.5" cy="99.5" r="1.15" fill="#aeaeae"/><circle cx="297.2" cy="105.7" r="1.15" fill="#b1b1b1"/></g><line x1="36.90" y1="12.21" x2="36.90" y2="126.50" stroke="#747474" stroke-width="1.0" /><line x1="34.20" y1="126.50" x2="36.90" y2="126.50" stroke="#5a5a5a" stroke-width="0.9" /><text x="30.80" y="129.31" font-size="9.2" text-anchor="end" fill="#1a1a1a" >0.0</text><line x1="34.20" y1="116.11" x2="36.90" y2="116.11" stroke="#5a5a5a" stroke-width="0.9" /><text x="30.80" y="118.92" font-size="9.2" text-anchor="end" fill="#1a1a1a" >0.5</text><line x1="34.20" y1="105.72" x2="36.90" y2="105.72" stroke="#5a5a5a" stroke-width="0.9" /><text x="30.80" y="108.53" font-size="9.2" text-anchor="end" fill="#1a1a1a" >1.0</text><line x1="34.20" y1="95.33" x2="36.90" y2="95.33" stroke="#5a5a5a" stroke-width="0.9" /><text x="30.80" y="98.14" font-size="9.2" text-anchor="end" fill="#1a1a1a" >1.5</text><line x1="34.20" y1="84.94" x2="36.90" y2="84.94" stroke="#5a5a5a" stroke-width="0.9" /><text x="30.80" y="87.75" font-size="9.2" text-anchor="end" fill="#1a1a1a" >2.0</text><line x1="34.20" y1="74.55" x2="36.90" y2="74.55" stroke="#5a5a5a" stroke-width="0.9" /><text x="30.80" y="77.36" font-size="9.2" text-anchor="end" fill="#1a1a1a" >2.5</text><line x1="34.20" y1="64.16" x2="36.90" y2="64.16" stroke="#5a5a5a" stroke-width="0.9" /><text x="30.80" y="66.97" font-size="9.2" text-anchor="end" fill="#1a1a1a" >3.0</text><line x1="34.20" y1="53.77" x2="36.90" y2="53.77" stroke="#5a5a5a" stroke-width="0.9" /><text x="30.80" y="56.58" font-size="9.2" text-anchor="end" fill="#1a1a1a" >3.5</text><line x1="34.20" y1="43.38" x2="36.90" y2="43.38" stroke="#5a5a5a" stroke-width="0.9" /><text x="30.80" y="46.19" font-size="9.2" text-anchor="end" fill="#1a1a1a" >4.0</text><line x1="34.20" y1="32.99" x2="36.90" y2="32.99" stroke="#5a5a5a" stroke-width="0.9" /><text x="30.80" y="35.80" font-size="9.2" text-anchor="end" fill="#1a1a1a" >4.5</text><line x1="34.20" y1="22.60" x2="36.90" y2="22.60" stroke="#5a5a5a" stroke-width="0.9" /><text x="30.80" y="25.41" font-size="9.2" text-anchor="end" fill="#1a1a1a" >5.0</text><line x1="34.20" y1="12.21" x2="36.90" y2="12.21" stroke="#5a5a5a" stroke-width="0.9" /><text x="30.80" y="15.02" font-size="9.2" text-anchor="end" fill="#1a1a1a" >5.5</text><line x1="36.90" y1="35.30" x2="321.00" y2="35.30" stroke="#5a5a5a" stroke-width="0.9" /><line x1="36.90" y1="41.20" x2="321.00" y2="41.20" stroke="#5a5a5a" stroke-width="0.9" /><text x="47.00" y="143.80" font-size="9.2" text-anchor="middle" fill="#1a1a1a" >1</text><text x="60.60" y="143.80" font-size="9.2" text-anchor="middle" fill="#1a1a1a" >2</text><text x="73.80" y="143.80" font-size="9.2" text-anchor="middle" fill="#1a1a1a" >3</text><text x="85.60" y="143.80" font-size="9.2" text-anchor="middle" fill="#1a1a1a" >4</text><text x="100.30" y="143.80" font-size="9.2" text-anchor="middle" fill="#1a1a1a" >5</text><text x="113.40" y="143.80" font-size="9.2" text-anchor="middle" fill="#1a1a1a" >6</text><text x="124.80" y="143.80" font-size="9.2" text-anchor="middle" fill="#1a1a1a" >7</text><text x="135.70" y="143.80" font-size="9.2" text-anchor="middle" fill="#1a1a1a" >8</text><text x="144.50" y="143.80" font-size="9.2" text-anchor="middle" fill="#1a1a1a" >9</text><text x="155.40" y="143.80" font-size="9.2" text-anchor="middle" fill="#1a1a1a" >10</text><text x="169.00" y="143.80" font-size="9.2" text-anchor="middle" fill="#1a1a1a" >11</text><text x="181.50" y="143.80" font-size="9.2" text-anchor="middle" fill="#1a1a1a" >12</text><text x="197.70" y="143.80" font-size="9.2" text-anchor="middle" fill="#1a1a1a" >13</text><text x="213.50" y="143.80" font-size="9.2" text-anchor="middle" fill="#1a1a1a" >14</text><text x="229.20" y="143.80" font-size="9.2" text-anchor="middle" fill="#1a1a1a" >15</text><text x="244.60" y="143.80" font-size="9.2" text-anchor="middle" fill="#1a1a1a" >16</text><text x="261.40" y="143.80" font-size="9.2" text-anchor="middle" fill="#1a1a1a" >17</text><text x="277.80" y="143.80" font-size="9.2" text-anchor="middle" fill="#1a1a1a" >18</text><text x="291.10" y="143.80" font-size="9.2" text-anchor="middle" fill="#1a1a1a" >19</text><text x="307.50" y="143.80" font-size="9.2" text-anchor="middle" fill="#1a1a1a" >X</text><text x="148.80" y="155.50" font-size="9.45" text-anchor="start" fill="#1a1a1a" >Chromosome</text><g><circle cx="401.6" cy="130.0" r="1.15" fill="#d4d4d4"/><circle cx="398.7" cy="126.0" r="1.15" fill="#c3c3c3"/><circle cx="399.5" cy="125.3" r="1.15" fill="#d7d7d7"/><circle cx="390.7" cy="128.5" r="1.15" fill="#d1d1d1"/><circle cx="398.7" cy="121.9" r="1.15" fill="#d8d8d8"/><circle cx="397.5" cy="121.2" r="1.15" fill="#b3b3b3"/><circle cx="389.9" cy="129.4" r="1.15" fill="#cdcdcd"/><circle cx="400.3" cy="127.8" r="1.15" fill="#cecece"/><circle cx="397.4" cy="129.7" r="1.15" fill="#c0c0c0"/><circle cx="402.4" cy="129.2" r="1.15" fill="#cecece"/><circle cx="402.4" cy="130.0" r="1.15" fill="#c0c0c0"/><circle cx="395.4" cy="119.6" r="1.15" fill="#b3b3b3"/><circle cx="390.9" cy="123.9" r="1.15" fill="#cecece"/><circle cx="394.4" cy="129.7" r="1.15" fill="#b8b8b8"/><circle cx="401.1" cy="129.9" r="1.15" fill="#d5d5d5"/><circle cx="396.7" cy="123.4" r="1.15" fill="#d6d6d6"/><circle cx="396.5" cy="127.8" r="1.15" fill="#c4c4c4"/><circle cx="391.5" cy="125.0" r="1.15" fill="#cacaca"/><circle cx="389.8" cy="123.4" r="1.15" fill="#d2d2d2"/><circle cx="392.9" cy="125.2" r="1.15" fill="#d6d6d6"/><circle cx="390.4" cy="129.1" r="1.15" fill="#acacac"/><circle cx="402.2" cy="129.2" r="1.15" fill="#c4c4c4"/><circle cx="391.1" cy="124.0" r="1.15" fill="#a9a9a9"/><circle cx="399.1" cy="128.1" r="1.15" fill="#b8b8b8"/><circle cx="402.2" cy="129.2" r="1.15" fill="#b4b4b4"/><circle cx="403.3" cy="127.8" r="1.15" fill="#d2d2d2"/><circle cx="400.6" cy="128.9" r="1.15" fill="#b3b3b3"/><circle cx="402.9" cy="128.2" r="1.15" fill="#a9a9a9"/><circle cx="390.5" cy="128.8" r="1.15" fill="#b9b9b9"/><circle cx="393.6" cy="120.6" r="1.15" fill="#aaaaaa"/><circle cx="394.2" cy="128.6" r="1.15" fill="#cdcdcd"/><circle cx="408.9" cy="129.9" r="1.15" fill="#bdbdbd"/><circle cx="410.6" cy="123.3" r="1.15" fill="#afafaf"/><circle cx="419.4" cy="128.0" r="1.15" fill="#cbcbcb"/><circle cx="413.8" cy="118.9" r="1.15" fill="#a8a8a8"/><circle cx="419.2" cy="130.3" r="1.15" fill="#c2c2c2"/><circle cx="412.2" cy="118.3" r="1.15" fill="#cacaca"/><circle cx="411.8" cy="122.1" r="1.15" fill="#c7c7c7"/><circle cx="418.3" cy="126.5" r="1.15" fill="#b3b3b3"/><circle cx="410.4" cy="121.6" r="1.15" fill="#c3c3c3"/><circle cx="417.8" cy="127.7" r="1.15" fill="#c9c9c9"/><circle cx="414.3" cy="125.1" r="1.15" fill="#c4c4c4"/><circle cx="414.1" cy="127.9" r="1.15" fill="#a9a9a9"/><circle cx="415.8" cy="125.2" r="1.15" fill="#bababa"/><circle cx="411.6" cy="117.2" r="1.15" fill="#d5d5d5"/><circle cx="409.8" cy="129.0" r="1.15" fill="#d3d3d3"/><circle cx="408.6" cy="124.1" r="1.15" fill="#b4b4b4"/><circle cx="409.0" cy="130.4" r="1.15" fill="#b2b2b2"/><circle cx="407.4" cy="123.4" r="1.15" fill="#adadad"/><circle cx="414.8" cy="126.8" r="1.15" fill="#c5c5c5"/><circle cx="410.0" cy="123.9" r="1.15" fill="#c3c3c3"/><circle cx="418.0" cy="127.5" r="1.15" fill="#b2b2b2"/><circle cx="408.3" cy="128.3" r="1.15" fill="#c0c0c0"/><circle cx="415.5" cy="121.5" r="1.15" fill="#b6b6b6"/><circle cx="417.1" cy="127.8" r="1.15" fill="#c0c0c0"/><circle cx="410.8" cy="123.7" r="1.15" fill="#c0c0c0"/><circle cx="415.6" cy="123.2" r="1.15" fill="#c7c7c7"/><circle cx="409.3" cy="125.7" r="1.15" fill="#adadad"/><circle cx="413.5" cy="126.6" r="1.15" fill="#d7d7d7"/><circle cx="411.1" cy="127.8" r="1.15" fill="#c2c2c2"/><circle cx="408.7" cy="128.3" r="1.15" fill="#c1c1c1"/><circle cx="430.4" cy="125.0" r="1.15" fill="#c2c2c2"/><circle cx="422.7" cy="126.4" r="1.15" fill="#c6c6c6"/><circle cx="425.6" cy="122.9" r="1.15" fill="#c6c6c6"/><circle cx="421.5" cy="117.9" r="1.15" fill="#b4b4b4"/><circle cx="422.9" cy="119.5" r="1.15" fill="#cacaca"/><circle cx="425.3" cy="124.7" r="1.15" fill="#b7b7b7"/><circle cx="426.5" cy="125.4" r="1.15" fill="#d8d8d8"/><circle cx="421.6" cy="118.2" r="1.15" fill="#c2c2c2"/><circle cx="423.2" cy="118.4" r="1.15" fill="#d7d7d7"/><circle cx="433.4" cy="126.2" r="1.15" fill="#c9c9c9"/><circle cx="425.0" cy="129.1" r="1.15" fill="#a9a9a9"/><circle cx="424.9" cy="126.8" r="1.15" fill="#cecece"/><circle cx="431.1" cy="127.9" r="1.15" fill="#cfcfcf"/><circle cx="422.6" cy="126.2" r="1.15" fill="#cbcbcb"/><circle cx="433.7" cy="123.8" r="1.15" fill="#aaaaaa"/><circle cx="433.0" cy="126.0" r="1.15" fill="#cfcfcf"/><circle cx="426.2" cy="126.5" r="1.15" fill="#c3c3c3"/><circle cx="427.3" cy="126.4" r="1.15" fill="#c1c1c1"/><circle cx="433.1" cy="123.1" r="1.15" fill="#c8c8c8"/><circle cx="424.4" cy="128.8" r="1.15" fill="#c1c1c1"/><circle cx="423.0" cy="124.0" r="1.15" fill="#c2c2c2"/><circle cx="428.4" cy="129.3" r="1.15" fill="#b1b1b1"/><circle cx="427.6" cy="126.2" r="1.15" fill="#d3d3d3"/><circle cx="426.9" cy="126.0" r="1.15" fill="#b2b2b2"/><circle cx="432.6" cy="122.8" r="1.15" fill="#b8b8b8"/><circle cx="423.9" cy="125.6" r="1.15" fill="#ababab"/><circle cx="427.3" cy="129.4" r="1.15" fill="#adadad"/><circle cx="428.6" cy="123.9" r="1.15" fill="#cacaca"/><circle cx="444.9" cy="127.5" r="1.15" fill="#c6c6c6"/><circle cx="443.0" cy="122.9" r="1.15" fill="#c7c7c7"/><circle cx="441.0" cy="119.3" r="1.15" fill="#c3c3c3"/><circle cx="440.9" cy="118.2" r="1.15" fill="#cecece"/><circle cx="445.6" cy="127.9" r="1.15" fill="#b1b1b1"/><circle cx="445.5" cy="129.0" r="1.15" fill="#cecece"/><circle cx="444.0" cy="127.8" r="1.15" fill="#c2c2c2"/><circle cx="436.0" cy="128.5" r="1.15" fill="#d2d2d2"/><circle cx="439.7" cy="118.3" r="1.15" fill="#d5d5d5"/><circle cx="436.8" cy="122.4" r="1.15" fill="#b2b2b2"/><circle cx="445.6" cy="127.8" r="1.15" fill="#c6c6c6"/><circle cx="443.0" cy="124.2" r="1.15" fill="#c2c2c2"/><circle cx="444.3" cy="126.0" r="1.15" fill="#cdcdcd"/><circle cx="434.8" cy="124.3" r="1.15" fill="#d0d0d0"/><circle cx="436.7" cy="129.0" r="1.15" fill="#c1c1c1"/><circle cx="444.7" cy="126.9" r="1.15" fill="#c1c1c1"/><circle cx="436.0" cy="124.8" r="1.15" fill="#c9c9c9"/><circle cx="443.8" cy="127.8" r="1.15" fill="#b1b1b1"/><circle cx="436.9" cy="125.3" r="1.15" fill="#c9c9c9"/><circle cx="444.8" cy="128.6" r="1.15" fill="#c1c1c1"/><circle cx="445.7" cy="128.7" r="1.15" fill="#cdcdcd"/><circle cx="440.7" cy="129.1" r="1.15" fill="#b4b4b4"/><circle cx="441.4" cy="127.2" r="1.15" fill="#aaaaaa"/><circle cx="444.3" cy="128.3" r="1.15" fill="#d3d3d3"/><circle cx="444.4" cy="128.2" r="1.15" fill="#c3c3c3"/><circle cx="445.2" cy="128.5" r="1.15" fill="#c2c2c2"/><circle cx="451.0" cy="120.3" r="1.15" fill="#b5b5b5"/><circle cx="451.8" cy="123.9" r="1.15" fill="#aaaaaa"/><circle cx="454.2" cy="127.3" r="1.15" fill="#cdcdcd"/><circle cx="456.7" cy="128.3" r="1.15" fill="#c7c7c7"/><circle cx="457.2" cy="129.9" r="1.15" fill="#b4b4b4"/><circle cx="454.1" cy="126.0" r="1.15" fill="#bfbfbf"/><circle cx="450.7" cy="122.0" r="1.15" fill="#bbbbbb"/><circle cx="460.3" cy="119.6" r="1.15" fill="#cacaca"/><circle cx="454.7" cy="127.2" r="1.15" fill="#cecece"/><circle cx="452.5" cy="121.3" r="1.15" fill="#afafaf"/><circle cx="454.6" cy="126.0" r="1.15" fill="#b7b7b7"/><circle cx="460.0" cy="122.8" r="1.15" fill="#aaaaaa"/><circle cx="454.4" cy="127.8" r="1.15" fill="#c0c0c0"/><circle cx="454.8" cy="129.0" r="1.15" fill="#c1c1c1"/><circle cx="457.7" cy="128.4" r="1.15" fill="#c9c9c9"/><circle cx="452.8" cy="124.6" r="1.15" fill="#b5b5b5"/><circle cx="448.0" cy="123.1" r="1.15" fill="#b0b0b0"/><circle cx="448.3" cy="122.6" r="1.15" fill="#d1d1d1"/><circle cx="447.9" cy="129.4" r="1.15" fill="#b1b1b1"/><circle cx="449.2" cy="121.7" r="1.15" fill="#cccccc"/><circle cx="455.7" cy="127.5" r="1.15" fill="#d2d2d2"/><circle cx="458.8" cy="127.6" r="1.15" fill="#d1d1d1"/><circle cx="456.2" cy="128.5" r="1.15" fill="#b1b1b1"/><circle cx="455.9" cy="127.3" r="1.15" fill="#cbcbcb"/><circle cx="460.1" cy="117.6" r="1.15" fill="#c0c0c0"/><circle cx="453.7" cy="127.0" r="1.15" fill="#b6b6b6"/><circle cx="451.0" cy="124.0" r="1.15" fill="#d5d5d5"/><circle cx="455.8" cy="127.7" r="1.15" fill="#c1c1c1"/><circle cx="462.3" cy="120.8" r="1.15" fill="#cacaca"/><circle cx="468.5" cy="128.6" r="1.15" fill="#bababa"/><circle cx="466.9" cy="129.5" r="1.15" fill="#cfcfcf"/><circle cx="470.4" cy="126.9" r="1.15" fill="#cccccc"/><circle cx="466.4" cy="122.5" r="1.15" fill="#aaaaaa"/><circle cx="470.5" cy="126.6" r="1.15" fill="#b0b0b0"/><circle cx="464.6" cy="119.1" r="1.15" fill="#d3d3d3"/><circle cx="466.2" cy="125.7" r="1.15" fill="#c1c1c1"/><circle cx="467.5" cy="127.1" r="1.15" fill="#a8a8a8"/><circle cx="470.6" cy="127.3" r="1.15" fill="#b1b1b1"/><circle cx="463.7" cy="122.6" r="1.15" fill="#d8d8d8"/><circle cx="469.2" cy="128.9" r="1.15" fill="#c9c9c9"/><circle cx="463.8" cy="121.9" r="1.15" fill="#adadad"/><circle cx="465.5" cy="128.9" r="1.15" fill="#ababab"/><circle cx="466.3" cy="122.3" r="1.15" fill="#afafaf"/><circle cx="466.5" cy="127.3" r="1.15" fill="#c0c0c0"/><circle cx="462.3" cy="119.1" r="1.15" fill="#cfcfcf"/><circle cx="465.4" cy="125.7" r="1.15" fill="#bbbbbb"/><circle cx="470.4" cy="126.8" r="1.15" fill="#c0c0c0"/><circle cx="463.3" cy="121.6" r="1.15" fill="#d7d7d7"/><circle cx="463.8" cy="129.3" r="1.15" fill="#c0c0c0"/><circle cx="467.8" cy="124.9" r="1.15" fill="#cbcbcb"/><circle cx="467.9" cy="127.9" r="1.15" fill="#c0c0c0"/><circle cx="480.7" cy="128.5" r="1.15" fill="#b6b6b6"/><circle cx="477.4" cy="126.9" r="1.15" fill="#b9b9b9"/><circle cx="480.3" cy="127.6" r="1.15" fill="#d0d0d0"/><circle cx="477.6" cy="122.8" r="1.15" fill="#adadad"/><circle cx="482.2" cy="127.9" r="1.15" fill="#c0c0c0"/><circle cx="478.7" cy="125.1" r="1.15" fill="#cdcdcd"/><circle cx="477.7" cy="126.1" r="1.15" fill="#ababab"/><circle cx="480.4" cy="128.4" r="1.15" fill="#b4b4b4"/><circle cx="477.7" cy="127.8" r="1.15" fill="#c1c1c1"/><circle cx="480.9" cy="129.6" r="1.15" fill="#d1d1d1"/><circle cx="481.4" cy="129.2" r="1.15" fill="#bcbcbc"/><circle cx="482.8" cy="130.1" r="1.15" fill="#cfcfcf"/><circle cx="475.4" cy="124.3" r="1.15" fill="#ababab"/><circle cx="479.5" cy="128.9" r="1.15" fill="#cbcbcb"/><circle cx="482.6" cy="128.0" r="1.15" fill="#b4b4b4"/><circle cx="482.2" cy="128.4" r="1.15" fill="#c0c0c0"/><circle cx="482.8" cy="127.8" r="1.15" fill="#b0b0b0"/><circle cx="482.3" cy="129.1" r="1.15" fill="#d0d0d0"/><circle cx="483.2" cy="128.2" r="1.15" fill="#b4b4b4"/><circle cx="481.5" cy="129.7" r="1.15" fill="#d6d6d6"/><circle cx="482.6" cy="128.0" r="1.15" fill="#d7d7d7"/><circle cx="492.6" cy="126.8" r="1.15" fill="#c4c4c4"/><circle cx="485.6" cy="120.4" r="1.15" fill="#d5d5d5"/><circle cx="491.2" cy="129.4" r="1.15" fill="#b1b1b1"/><circle cx="489.5" cy="123.1" r="1.15" fill="#cecece"/><circle cx="492.3" cy="122.2" r="1.15" fill="#b9b9b9"/><circle cx="484.5" cy="128.4" r="1.15" fill="#c4c4c4"/><circle cx="486.1" cy="123.5" r="1.15" fill="#bababa"/><circle cx="485.6" cy="121.0" r="1.15" fill="#d0d0d0"/><circle cx="489.0" cy="120.3" r="1.15" fill="#d0d0d0"/><circle cx="487.3" cy="125.2" r="1.15" fill="#c2c2c2"/><circle cx="490.6" cy="119.0" r="1.15" fill="#c1c1c1"/><circle cx="489.8" cy="129.4" r="1.15" fill="#d8d8d8"/><circle cx="486.8" cy="128.6" r="1.15" fill="#d3d3d3"/><circle cx="491.5" cy="118.9" r="1.15" fill="#d1d1d1"/><circle cx="486.7" cy="125.3" r="1.15" fill="#bbbbbb"/><circle cx="492.3" cy="120.6" r="1.15" fill="#d1d1d1"/><circle cx="486.0" cy="122.5" r="1.15" fill="#c4c4c4"/><circle cx="499.2" cy="128.2" r="1.15" fill="#a9a9a9"/><circle cx="498.9" cy="129.2" r="1.15" fill="#d3d3d3"/><circle cx="493.6" cy="116.4" r="1.15" fill="#b7b7b7"/><circle cx="502.0" cy="127.7" r="1.15" fill="#c4c4c4"/><circle cx="499.4" cy="120.6" r="1.15" fill="#b4b4b4"/><circle cx="502.0" cy="126.5" r="1.15" fill="#a8a8a8"/><circle cx="499.1" cy="126.4" r="1.15" fill="#d2d2d2"/><circle cx="495.8" cy="127.9" r="1.15" fill="#adadad"/><circle cx="499.4" cy="128.4" r="1.15" fill="#c4c4c4"/><circle cx="501.1" cy="124.7" r="1.15" fill="#d2d2d2"/><circle cx="495.7" cy="124.8" r="1.15" fill="#c8c8c8"/><circle cx="498.7" cy="127.6" r="1.15" fill="#c4c4c4"/><circle cx="498.6" cy="129.4" r="1.15" fill="#d8d8d8"/><circle cx="495.6" cy="123.4" r="1.15" fill="#c0c0c0"/><circle cx="496.4" cy="120.1" r="1.15" fill="#cfcfcf"/><circle cx="497.6" cy="123.5" r="1.15" fill="#c3c3c3"/><circle cx="501.8" cy="126.4" r="1.15" fill="#bfbfbf"/><circle cx="494.9" cy="120.3" r="1.15" fill="#bcbcbc"/><circle cx="499.0" cy="128.7" r="1.15" fill="#b1b1b1"/><circle cx="514.0" cy="128.6" r="1.15" fill="#c2c2c2"/><circle cx="511.9" cy="127.3" r="1.15" fill="#cdcdcd"/><circle cx="505.1" cy="124.4" r="1.15" fill="#c0c0c0"/><circle cx="504.9" cy="125.1" r="1.15" fill="#cacaca"/><circle cx="506.3" cy="122.4" r="1.15" fill="#afafaf"/><circle cx="503.9" cy="122.2" r="1.15" fill="#c4c4c4"/><circle cx="514.2" cy="127.9" r="1.15" fill="#bfbfbf"/><circle cx="507.2" cy="118.2" r="1.15" fill="#b4b4b4"/><circle cx="511.9" cy="128.6" r="1.15" fill="#c4c4c4"/><circle cx="512.9" cy="127.9" r="1.15" fill="#d6d6d6"/><circle cx="513.6" cy="129.0" r="1.15" fill="#c0c0c0"/><circle cx="508.1" cy="129.6" r="1.15" fill="#c0c0c0"/><circle cx="511.6" cy="128.4" r="1.15" fill="#b0b0b0"/><circle cx="513.4" cy="128.7" r="1.15" fill="#c2c2c2"/><circle cx="509.0" cy="125.7" r="1.15" fill="#cdcdcd"/><circle cx="508.7" cy="128.7" r="1.15" fill="#bebebe"/><circle cx="514.0" cy="128.3" r="1.15" fill="#b6b6b6"/><circle cx="513.2" cy="129.4" r="1.15" fill="#bfbfbf"/><circle cx="509.8" cy="124.6" r="1.15" fill="#c1c1c1"/><circle cx="509.2" cy="128.7" r="1.15" fill="#bababa"/><circle cx="503.3" cy="127.4" r="1.15" fill="#bebebe"/><circle cx="503.6" cy="128.0" r="1.15" fill="#b8b8b8"/><circle cx="504.9" cy="121.3" r="1.15" fill="#c2c2c2"/><circle cx="519.0" cy="118.0" r="1.15" fill="#a9a9a9"/><circle cx="526.5" cy="130.0" r="1.15" fill="#cecece"/><circle cx="521.9" cy="126.3" r="1.15" fill="#cfcfcf"/><circle cx="519.1" cy="119.1" r="1.15" fill="#afafaf"/><circle cx="526.1" cy="123.3" r="1.15" fill="#b2b2b2"/><circle cx="520.4" cy="127.5" r="1.15" fill="#adadad"/><circle cx="516.8" cy="123.7" r="1.15" fill="#ababab"/><circle cx="525.1" cy="127.4" r="1.15" fill="#d2d2d2"/><circle cx="522.6" cy="128.3" r="1.15" fill="#cccccc"/><circle cx="518.7" cy="120.3" r="1.15" fill="#cecece"/><circle cx="521.0" cy="129.4" r="1.15" fill="#c3c3c3"/><circle cx="515.4" cy="125.8" r="1.15" fill="#c1c1c1"/><circle cx="520.6" cy="122.6" r="1.15" fill="#cecece"/><circle cx="518.3" cy="124.8" r="1.15" fill="#c4c4c4"/><circle cx="517.6" cy="120.0" r="1.15" fill="#b0b0b0"/><circle cx="526.7" cy="123.8" r="1.15" fill="#d1d1d1"/><circle cx="526.8" cy="124.1" r="1.15" fill="#bdbdbd"/><circle cx="519.3" cy="123.2" r="1.15" fill="#d0d0d0"/><circle cx="521.7" cy="125.2" r="1.15" fill="#c3c3c3"/><circle cx="522.7" cy="124.3" r="1.15" fill="#c5c5c5"/><circle cx="522.8" cy="127.7" r="1.15" fill="#cacaca"/><circle cx="518.5" cy="123.0" r="1.15" fill="#b4b4b4"/><circle cx="518.5" cy="127.6" r="1.15" fill="#b5b5b5"/><circle cx="526.1" cy="128.8" r="1.15" fill="#d0d0d0"/><circle cx="522.8" cy="126.4" r="1.15" fill="#b7b7b7"/><circle cx="525.9" cy="129.3" r="1.15" fill="#d0d0d0"/><circle cx="536.6" cy="128.4" r="1.15" fill="#cdcdcd"/><circle cx="537.0" cy="126.9" r="1.15" fill="#acacac"/><circle cx="531.7" cy="128.7" r="1.15" fill="#bbbbbb"/><circle cx="529.1" cy="128.0" r="1.15" fill="#b1b1b1"/><circle cx="537.7" cy="125.0" r="1.15" fill="#c0c0c0"/><circle cx="530.2" cy="128.5" r="1.15" fill="#d7d7d7"/><circle cx="528.3" cy="129.3" r="1.15" fill="#c3c3c3"/><circle cx="534.6" cy="126.4" r="1.15" fill="#d0d0d0"/><circle cx="537.4" cy="124.9" r="1.15" fill="#afafaf"/><circle cx="531.7" cy="126.3" r="1.15" fill="#d6d6d6"/><circle cx="533.9" cy="129.9" r="1.15" fill="#c7c7c7"/><circle cx="528.8" cy="128.8" r="1.15" fill="#c6c6c6"/><circle cx="538.2" cy="123.9" r="1.15" fill="#cecece"/><circle cx="534.5" cy="127.8" r="1.15" fill="#d4d4d4"/><circle cx="533.4" cy="124.9" r="1.15" fill="#cfcfcf"/><circle cx="538.9" cy="121.0" r="1.15" fill="#bbbbbb"/><circle cx="531.0" cy="128.5" r="1.15" fill="#bebebe"/><circle cx="534.9" cy="127.9" r="1.15" fill="#cbcbcb"/><circle cx="539.9" cy="127.5" r="1.15" fill="#bdbdbd"/><circle cx="533.2" cy="128.2" r="1.15" fill="#c9c9c9"/><circle cx="535.3" cy="127.0" r="1.15" fill="#c9c9c9"/><circle cx="531.9" cy="127.7" r="1.15" fill="#d4d4d4"/><circle cx="538.1" cy="123.4" r="1.15" fill="#c0c0c0"/><circle cx="528.6" cy="129.3" r="1.15" fill="#acacac"/><circle cx="534.3" cy="125.8" r="1.15" fill="#c2c2c2"/><circle cx="532.3" cy="125.2" r="1.15" fill="#aeaeae"/><circle cx="528.8" cy="130.0" r="1.15" fill="#bfbfbf"/><circle cx="533.8" cy="127.4" r="1.15" fill="#c1c1c1"/><circle cx="544.5" cy="128.6" r="1.15" fill="#bdbdbd"/><circle cx="548.0" cy="128.1" r="1.15" fill="#c7c7c7"/><circle cx="556.2" cy="120.4" r="1.15" fill="#ababab"/><circle cx="553.1" cy="130.1" r="1.15" fill="#c7c7c7"/><circle cx="551.5" cy="125.0" r="1.15" fill="#ababab"/><circle cx="546.1" cy="125.8" r="1.15" fill="#c2c2c2"/><circle cx="555.4" cy="128.0" r="1.15" fill="#c4c4c4"/><circle cx="547.0" cy="125.2" r="1.15" fill="#c8c8c8"/><circle cx="544.9" cy="128.5" r="1.15" fill="#d1d1d1"/><circle cx="550.8" cy="120.3" r="1.15" fill="#ababab"/><circle cx="555.5" cy="124.2" r="1.15" fill="#b6b6b6"/><circle cx="553.8" cy="128.6" r="1.15" fill="#b0b0b0"/><circle cx="544.3" cy="127.2" r="1.15" fill="#bebebe"/><circle cx="550.4" cy="122.3" r="1.15" fill="#bababa"/><circle cx="554.1" cy="122.5" r="1.15" fill="#b7b7b7"/><circle cx="556.9" cy="123.6" r="1.15" fill="#acacac"/><circle cx="555.7" cy="118.2" r="1.15" fill="#bfbfbf"/><circle cx="558.0" cy="126.8" r="1.15" fill="#cbcbcb"/><circle cx="555.0" cy="122.5" r="1.15" fill="#c0c0c0"/><circle cx="543.3" cy="129.7" r="1.15" fill="#b8b8b8"/><circle cx="556.7" cy="125.5" r="1.15" fill="#d8d8d8"/><circle cx="553.5" cy="128.6" r="1.15" fill="#b0b0b0"/><circle cx="548.2" cy="120.2" r="1.15" fill="#d0d0d0"/><circle cx="546.5" cy="128.6" r="1.15" fill="#d3d3d3"/><circle cx="557.5" cy="119.4" r="1.15" fill="#d5d5d5"/><circle cx="552.5" cy="125.8" r="1.15" fill="#bebebe"/><circle cx="546.6" cy="128.3" r="1.15" fill="#cacaca"/><circle cx="553.7" cy="125.3" r="1.15" fill="#d7d7d7"/><circle cx="555.8" cy="127.6" r="1.15" fill="#bcbcbc"/><circle cx="548.4" cy="126.8" r="1.15" fill="#acacac"/><circle cx="546.2" cy="128.8" r="1.15" fill="#c4c4c4"/><circle cx="556.7" cy="117.5" r="1.15" fill="#c8c8c8"/><circle cx="556.8" cy="126.1" r="1.15" fill="#aeaeae"/><circle cx="543.0" cy="128.3" r="1.15" fill="#adadad"/><circle cx="564.7" cy="128.6" r="1.15" fill="#c7c7c7"/><circle cx="568.6" cy="122.8" r="1.15" fill="#d7d7d7"/><circle cx="569.5" cy="122.1" r="1.15" fill="#ababab"/><circle cx="569.5" cy="127.1" r="1.15" fill="#c1c1c1"/><circle cx="575.3" cy="127.6" r="1.15" fill="#d6d6d6"/><circle cx="563.7" cy="128.3" r="1.15" fill="#c2c2c2"/><circle cx="569.7" cy="124.5" r="1.15" fill="#cdcdcd"/><circle cx="561.9" cy="127.6" r="1.15" fill="#d4d4d4"/><circle cx="562.5" cy="128.3" r="1.15" fill="#c2c2c2"/><circle cx="564.7" cy="130.0" r="1.15" fill="#b2b2b2"/><circle cx="562.1" cy="128.8" r="1.15" fill="#bababa"/><circle cx="563.0" cy="128.2" r="1.15" fill="#bdbdbd"/><circle cx="571.9" cy="119.9" r="1.15" fill="#aaaaaa"/><circle cx="572.4" cy="128.3" r="1.15" fill="#d7d7d7"/><circle cx="573.0" cy="124.7" r="1.15" fill="#c2c2c2"/><circle cx="561.3" cy="128.8" r="1.15" fill="#d7d7d7"/><circle cx="563.7" cy="128.6" r="1.15" fill="#c2c2c2"/><circle cx="563.0" cy="128.5" r="1.15" fill="#a9a9a9"/><circle cx="568.3" cy="121.9" r="1.15" fill="#a9a9a9"/><circle cx="570.3" cy="130.4" r="1.15" fill="#b4b4b4"/><circle cx="567.2" cy="114.0" r="1.15" fill="#a9a9a9"/><circle cx="559.8" cy="128.2" r="1.15" fill="#b8b8b8"/><circle cx="568.4" cy="126.1" r="1.15" fill="#bfbfbf"/><circle cx="563.8" cy="126.4" r="1.15" fill="#d8d8d8"/><circle cx="575.6" cy="127.9" r="1.15" fill="#cfcfcf"/><circle cx="573.4" cy="121.8" r="1.15" fill="#c1c1c1"/><circle cx="570.4" cy="126.7" r="1.15" fill="#d2d2d2"/><circle cx="567.7" cy="130.2" r="1.15" fill="#d5d5d5"/><circle cx="560.3" cy="129.8" r="1.15" fill="#cecece"/><circle cx="572.3" cy="123.1" r="1.15" fill="#c3c3c3"/><circle cx="564.4" cy="127.4" r="1.15" fill="#d5d5d5"/><circle cx="574.7" cy="126.0" r="1.15" fill="#aeaeae"/><circle cx="563.4" cy="127.0" r="1.15" fill="#d5d5d5"/><circle cx="564.6" cy="126.6" r="1.15" fill="#b2b2b2"/><circle cx="587.0" cy="128.2" r="1.15" fill="#d6d6d6"/><circle cx="578.9" cy="128.6" r="1.15" fill="#cdcdcd"/><circle cx="581.7" cy="127.7" r="1.15" fill="#cbcbcb"/><circle cx="582.1" cy="127.1" r="1.15" fill="#c1c1c1"/><circle cx="576.6" cy="128.8" r="1.15" fill="#bcbcbc"/><circle cx="582.5" cy="120.5" r="1.15" fill="#c2c2c2"/><circle cx="583.5" cy="122.9" r="1.15" fill="#d8d8d8"/><circle cx="586.1" cy="121.5" r="1.15" fill="#c4c4c4"/><circle cx="589.0" cy="122.2" r="1.15" fill="#b4b4b4"/><circle cx="589.4" cy="129.9" r="1.15" fill="#bfbfbf"/><circle cx="589.1" cy="120.9" r="1.15" fill="#d6d6d6"/><circle cx="578.0" cy="125.5" r="1.15" fill="#c1c1c1"/><circle cx="582.6" cy="125.4" r="1.15" fill="#b4b4b4"/><circle cx="584.9" cy="126.4" r="1.15" fill="#cecece"/><circle cx="583.9" cy="127.1" r="1.15" fill="#c6c6c6"/><circle cx="589.7" cy="128.9" r="1.15" fill="#acacac"/><circle cx="581.0" cy="127.4" r="1.15" fill="#b6b6b6"/><circle cx="590.5" cy="127.4" r="1.15" fill="#cecece"/><circle cx="587.1" cy="120.3" r="1.15" fill="#d5d5d5"/><circle cx="588.2" cy="121.0" r="1.15" fill="#c2c2c2"/><circle cx="590.6" cy="129.1" r="1.15" fill="#b9b9b9"/><circle cx="583.8" cy="126.8" r="1.15" fill="#d6d6d6"/><circle cx="584.0" cy="124.0" r="1.15" fill="#c3c3c3"/><circle cx="577.4" cy="127.3" r="1.15" fill="#adadad"/><circle cx="588.9" cy="129.4" r="1.15" fill="#c0c0c0"/><circle cx="587.8" cy="128.7" r="1.15" fill="#b4b4b4"/><circle cx="578.9" cy="126.1" r="1.15" fill="#c7c7c7"/><circle cx="588.3" cy="128.2" r="1.15" fill="#c7c7c7"/><circle cx="585.1" cy="129.9" r="1.15" fill="#acacac"/><circle cx="577.3" cy="125.1" r="1.15" fill="#c7c7c7"/><circle cx="603.5" cy="119.3" r="1.15" fill="#cdcdcd"/><circle cx="593.9" cy="128.9" r="1.15" fill="#c2c2c2"/><circle cx="591.9" cy="129.5" r="1.15" fill="#bebebe"/><circle cx="595.7" cy="129.6" r="1.15" fill="#d2d2d2"/><circle cx="601.3" cy="123.9" r="1.15" fill="#acacac"/><circle cx="594.2" cy="129.2" r="1.15" fill="#bdbdbd"/><circle cx="597.4" cy="116.5" r="1.15" fill="#c0c0c0"/><circle cx="604.9" cy="125.3" r="1.15" fill="#bdbdbd"/><circle cx="594.7" cy="123.3" r="1.15" fill="#c3c3c3"/><circle cx="605.0" cy="127.7" r="1.15" fill="#bebebe"/><circle cx="594.5" cy="124.9" r="1.15" fill="#d3d3d3"/><circle cx="597.8" cy="128.7" r="1.15" fill="#adadad"/><circle cx="596.1" cy="120.7" r="1.15" fill="#d7d7d7"/><circle cx="601.0" cy="127.8" r="1.15" fill="#b1b1b1"/><circle cx="596.7" cy="120.0" r="1.15" fill="#bbbbbb"/><circle cx="596.2" cy="116.5" r="1.15" fill="#c5c5c5"/><circle cx="599.2" cy="129.1" r="1.15" fill="#b3b3b3"/><circle cx="591.5" cy="130.2" r="1.15" fill="#aaaaaa"/><circle cx="605.6" cy="118.4" r="1.15" fill="#cacaca"/><circle cx="598.1" cy="124.4" r="1.15" fill="#bcbcbc"/><circle cx="598.6" cy="124.3" r="1.15" fill="#c2c2c2"/><circle cx="605.4" cy="116.6" r="1.15" fill="#b3b3b3"/><circle cx="597.5" cy="126.5" r="1.15" fill="#d5d5d5"/><circle cx="592.3" cy="128.5" r="1.15" fill="#a9a9a9"/><circle cx="602.7" cy="120.4" r="1.15" fill="#c3c3c3"/><circle cx="596.6" cy="128.0" r="1.15" fill="#bdbdbd"/><circle cx="592.7" cy="124.4" r="1.15" fill="#b9b9b9"/><circle cx="600.9" cy="121.6" r="1.15" fill="#a9a9a9"/><circle cx="602.5" cy="129.3" r="1.15" fill="#bdbdbd"/><circle cx="604.9" cy="118.2" r="1.15" fill="#cecece"/><circle cx="609.7" cy="124.0" r="1.15" fill="#bbbbbb"/><circle cx="617.5" cy="129.8" r="1.15" fill="#b7b7b7"/><circle cx="613.0" cy="127.8" r="1.15" fill="#c2c2c2"/><circle cx="612.9" cy="128.3" r="1.15" fill="#cecece"/><circle cx="618.0" cy="127.8" r="1.15" fill="#cecece"/><circle cx="612.2" cy="127.8" r="1.15" fill="#d8d8d8"/><circle cx="612.3" cy="129.6" r="1.15" fill="#a8a8a8"/><circle cx="608.6" cy="123.1" r="1.15" fill="#d3d3d3"/><circle cx="612.1" cy="128.1" r="1.15" fill="#d3d3d3"/><circle cx="611.9" cy="129.0" r="1.15" fill="#d3d3d3"/><circle cx="610.1" cy="129.0" r="1.15" fill="#bcbcbc"/><circle cx="609.2" cy="120.1" r="1.15" fill="#c5c5c5"/><circle cx="614.5" cy="128.9" r="1.15" fill="#c3c3c3"/><circle cx="610.2" cy="125.6" r="1.15" fill="#d3d3d3"/><circle cx="611.6" cy="128.1" r="1.15" fill="#b3b3b3"/><circle cx="611.1" cy="129.8" r="1.15" fill="#b3b3b3"/><circle cx="618.3" cy="129.1" r="1.15" fill="#a9a9a9"/><circle cx="618.1" cy="127.3" r="1.15" fill="#a8a8a8"/><circle cx="606.8" cy="125.6" r="1.15" fill="#bcbcbc"/><circle cx="616.9" cy="129.4" r="1.15" fill="#cacaca"/><circle cx="606.4" cy="123.9" r="1.15" fill="#bbbbbb"/><circle cx="618.4" cy="129.0" r="1.15" fill="#cfcfcf"/><circle cx="610.8" cy="126.4" r="1.15" fill="#cfcfcf"/><circle cx="618.6" cy="128.8" r="1.15" fill="#bababa"/><circle cx="617.9" cy="126.3" r="1.15" fill="#c6c6c6"/><circle cx="610.4" cy="125.4" r="1.15" fill="#c1c1c1"/><circle cx="612.0" cy="129.8" r="1.15" fill="#d8d8d8"/><circle cx="618.1" cy="126.7" r="1.15" fill="#bbbbbb"/><circle cx="607.1" cy="120.6" r="1.15" fill="#c6c6c6"/><circle cx="619.7" cy="121.1" r="1.15" fill="#cecece"/><circle cx="633.9" cy="128.8" r="1.15" fill="#d4d4d4"/><circle cx="627.1" cy="123.5" r="1.15" fill="#b4b4b4"/><circle cx="633.6" cy="127.7" r="1.15" fill="#d6d6d6"/><circle cx="636.0" cy="129.0" r="1.15" fill="#c0c0c0"/><circle cx="632.1" cy="125.9" r="1.15" fill="#d1d1d1"/><circle cx="635.5" cy="128.9" r="1.15" fill="#b2b2b2"/><circle cx="626.3" cy="128.0" r="1.15" fill="#b3b3b3"/><circle cx="628.6" cy="129.9" r="1.15" fill="#a9a9a9"/><circle cx="635.6" cy="129.8" r="1.15" fill="#bababa"/><circle cx="631.9" cy="125.0" r="1.15" fill="#b4b4b4"/><circle cx="622.9" cy="124.7" r="1.15" fill="#cacaca"/><circle cx="621.5" cy="126.1" r="1.15" fill="#b0b0b0"/><circle cx="627.1" cy="118.8" r="1.15" fill="#aaaaaa"/><circle cx="626.8" cy="121.2" r="1.15" fill="#bebebe"/><circle cx="632.1" cy="125.5" r="1.15" fill="#c4c4c4"/><circle cx="626.7" cy="124.0" r="1.15" fill="#c3c3c3"/><circle cx="625.3" cy="129.3" r="1.15" fill="#d2d2d2"/><circle cx="628.0" cy="121.9" r="1.15" fill="#c9c9c9"/><circle cx="636.3" cy="127.9" r="1.15" fill="#d7d7d7"/><circle cx="624.2" cy="123.7" r="1.15" fill="#b4b4b4"/><circle cx="629.0" cy="127.3" r="1.15" fill="#d7d7d7"/><circle cx="629.8" cy="124.9" r="1.15" fill="#c3c3c3"/><circle cx="628.2" cy="117.8" r="1.15" fill="#c2c2c2"/><circle cx="633.4" cy="129.0" r="1.15" fill="#d3d3d3"/><circle cx="634.6" cy="128.4" r="1.15" fill="#d0d0d0"/><circle cx="630.3" cy="115.6" r="1.15" fill="#b5b5b5"/><circle cx="631.9" cy="124.9" r="1.15" fill="#b3b3b3"/><circle cx="630.7" cy="117.5" r="1.15" fill="#c1c1c1"/><circle cx="623.0" cy="127.0" r="1.15" fill="#a9a9a9"/><circle cx="625.7" cy="121.0" r="1.15" fill="#b2b2b2"/><circle cx="628.8" cy="126.3" r="1.15" fill="#d3d3d3"/><circle cx="634.8" cy="129.5" r="1.15" fill="#d5d5d5"/><circle cx="650.8" cy="129.1" r="1.15" fill="#aeaeae"/><circle cx="647.2" cy="125.6" r="1.15" fill="#d2d2d2"/><circle cx="650.9" cy="128.1" r="1.15" fill="#d0d0d0"/><circle cx="638.4" cy="128.8" r="1.15" fill="#c9c9c9"/><circle cx="641.7" cy="128.5" r="1.15" fill="#c7c7c7"/><circle cx="651.5" cy="128.8" r="1.15" fill="#cacaca"/><circle cx="638.2" cy="128.8" r="1.15" fill="#c0c0c0"/><circle cx="651.5" cy="128.6" r="1.15" fill="#d0d0d0"/><circle cx="643.6" cy="120.4" r="1.15" fill="#b1b1b1"/><circle cx="650.6" cy="126.6" r="1.15" fill="#cdcdcd"/><circle cx="643.3" cy="123.5" r="1.15" fill="#d6d6d6"/><circle cx="639.2" cy="129.1" r="1.15" fill="#b1b1b1"/><circle cx="640.5" cy="128.5" r="1.15" fill="#cacaca"/><circle cx="649.7" cy="123.3" r="1.15" fill="#cfcfcf"/><circle cx="646.1" cy="118.3" r="1.15" fill="#c3c3c3"/><circle cx="650.7" cy="130.2" r="1.15" fill="#d0d0d0"/><circle cx="651.1" cy="129.1" r="1.15" fill="#d3d3d3"/><circle cx="643.3" cy="127.5" r="1.15" fill="#c8c8c8"/><circle cx="647.2" cy="122.8" r="1.15" fill="#d6d6d6"/><circle cx="637.3" cy="129.7" r="1.15" fill="#d1d1d1"/><circle cx="651.3" cy="127.5" r="1.15" fill="#b3b3b3"/><circle cx="642.9" cy="119.7" r="1.15" fill="#c2c2c2"/><circle cx="641.1" cy="126.0" r="1.15" fill="#b5b5b5"/><circle cx="643.9" cy="127.1" r="1.15" fill="#b3b3b3"/><circle cx="639.8" cy="129.9" r="1.15" fill="#c4c4c4"/><circle cx="640.0" cy="126.8" r="1.15" fill="#b1b1b1"/><circle cx="645.9" cy="122.2" r="1.15" fill="#c2c2c2"/><circle cx="640.6" cy="128.8" r="1.15" fill="#c0c0c0"/><circle cx="647.9" cy="127.7" r="1.15" fill="#d8d8d8"/><circle cx="638.4" cy="128.5" r="1.15" fill="#d6d6d6"/><circle cx="660.0" cy="125.0" r="1.15" fill="#d3d3d3"/><circle cx="659.3" cy="125.8" r="1.15" fill="#c4c4c4"/><circle cx="661.1" cy="123.2" r="1.15" fill="#c3c3c3"/><circle cx="669.9" cy="129.6" r="1.15" fill="#c9c9c9"/><circle cx="654.9" cy="125.8" r="1.15" fill="#bfbfbf"/><circle cx="658.6" cy="123.5" r="1.15" fill="#cccccc"/><circle cx="667.1" cy="129.3" r="1.15" fill="#c1c1c1"/><circle cx="668.5" cy="129.0" r="1.15" fill="#b3b3b3"/><circle cx="659.1" cy="125.2" r="1.15" fill="#c4c4c4"/><circle cx="670.4" cy="129.0" r="1.15" fill="#c7c7c7"/><circle cx="654.6" cy="124.7" r="1.15" fill="#bfbfbf"/><circle cx="666.3" cy="129.2" r="1.15" fill="#c3c3c3"/><circle cx="653.8" cy="126.1" r="1.15" fill="#d1d1d1"/><circle cx="655.3" cy="125.3" r="1.15" fill="#d8d8d8"/><circle cx="657.7" cy="123.9" r="1.15" fill="#bbbbbb"/><circle cx="660.9" cy="128.8" r="1.15" fill="#adadad"/><circle cx="670.3" cy="130.4" r="1.15" fill="#d2d2d2"/><circle cx="657.5" cy="129.3" r="1.15" fill="#ababab"/><circle cx="665.8" cy="129.5" r="1.15" fill="#bbbbbb"/><circle cx="663.6" cy="130.2" r="1.15" fill="#cecece"/><circle cx="655.7" cy="130.2" r="1.15" fill="#bbbbbb"/><circle cx="667.9" cy="129.2" r="1.15" fill="#b6b6b6"/><circle cx="656.9" cy="123.2" r="1.15" fill="#acacac"/><circle cx="660.2" cy="125.4" r="1.15" fill="#b4b4b4"/><circle cx="658.4" cy="125.2" r="1.15" fill="#cacaca"/><circle cx="660.9" cy="124.1" r="1.15" fill="#b8b8b8"/><circle cx="666.4" cy="128.3" r="1.15" fill="#b0b0b0"/><circle cx="655.2" cy="115.5" r="1.15" fill="#a9a9a9"/><circle cx="664.1" cy="127.6" r="1.15" fill="#cecece"/><circle cx="661.4" cy="123.8" r="1.15" fill="#b4b4b4"/><circle cx="664.9" cy="128.1" r="1.15" fill="#c2c2c2"/><circle cx="653.3" cy="124.5" r="1.15" fill="#aaaaaa"/><circle cx="653.4" cy="127.0" r="1.15" fill="#d7d7d7"/><circle cx="653.9" cy="116.8" r="1.15" fill="#d5d5d5"/><circle cx="663.0" cy="128.1" r="1.15" fill="#c0c0c0"/><circle cx="660.1" cy="126.0" r="1.15" fill="#c8c8c8"/><circle cx="661.3" cy="126.5" r="1.15" fill="#ababab"/><circle cx="669.3" cy="127.7" r="1.15" fill="#aeaeae"/><circle cx="400.0" cy="114.8" r="1.15" fill="#adadad"/><circle cx="403.2" cy="123.2" r="1.15" fill="#b1b1b1"/><circle cx="404.3" cy="127.4" r="1.15" fill="#b6b6b6"/><circle cx="403.1" cy="124.1" r="1.15" fill="#bbbbbb"/><circle cx="403.2" cy="124.0" r="1.15" fill="#b5b5b5"/><circle cx="396.6" cy="124.4" r="1.15" fill="#b2b2b2"/><circle cx="398.0" cy="124.4" r="1.15" fill="#c3c3c3"/><circle cx="404.4" cy="128.8" r="1.15" fill="#bdbdbd"/><circle cx="399.5" cy="117.5" r="1.15" fill="#c4c4c4"/><circle cx="400.0" cy="119.4" r="1.15" fill="#b9b9b9"/><circle cx="401.2" cy="119.0" r="1.15" fill="#aeaeae"/><circle cx="395.0" cy="121.9" r="1.15" fill="#c4c4c4"/><circle cx="389.5" cy="129.1" r="1.15" fill="#bfbfbf"/><circle cx="389.5" cy="128.0" r="1.15" fill="#bebebe"/><circle cx="400.8" cy="128.7" r="1.15" fill="#b0b0b0"/><circle cx="390.1" cy="127.3" r="1.15" fill="#c4c4c4"/><circle cx="399.0" cy="125.7" r="1.15" fill="#c2c2c2"/><circle cx="396.9" cy="126.9" r="1.15" fill="#b3b3b3"/><circle cx="394.3" cy="123.7" r="1.15" fill="#aaaaaa"/><circle cx="396.1" cy="123.5" r="1.15" fill="#bbbbbb"/><circle cx="395.4" cy="123.4" r="1.15" fill="#bababa"/><circle cx="411.5" cy="97.0" r="1.15" fill="#c1c1c1"/><circle cx="414.4" cy="122.0" r="1.15" fill="#aaaaaa"/><circle cx="415.0" cy="125.8" r="1.15" fill="#b7b7b7"/><circle cx="411.4" cy="108.6" r="1.15" fill="#ababab"/><circle cx="410.4" cy="118.7" r="1.15" fill="#b8b8b8"/><circle cx="408.9" cy="118.5" r="1.15" fill="#bebebe"/><circle cx="409.4" cy="116.0" r="1.15" fill="#acacac"/><circle cx="413.6" cy="115.8" r="1.15" fill="#afafaf"/><circle cx="411.6" cy="110.1" r="1.15" fill="#bebebe"/><circle cx="409.7" cy="119.1" r="1.15" fill="#bfbfbf"/><circle cx="412.7" cy="109.5" r="1.15" fill="#b8b8b8"/><circle cx="414.9" cy="126.7" r="1.15" fill="#bababa"/><circle cx="414.8" cy="123.7" r="1.15" fill="#a8a8a8"/><circle cx="409.9" cy="109.3" r="1.15" fill="#c2c2c2"/><circle cx="410.4" cy="103.0" r="1.15" fill="#c1c1c1"/><circle cx="410.5" cy="112.9" r="1.15" fill="#acacac"/><circle cx="411.4" cy="109.5" r="1.15" fill="#a9a9a9"/><circle cx="412.2" cy="119.6" r="1.15" fill="#c3c3c3"/><circle cx="412.0" cy="109.8" r="1.15" fill="#c4c4c4"/><circle cx="410.9" cy="103.7" r="1.15" fill="#c0c0c0"/><circle cx="413.0" cy="109.0" r="1.15" fill="#c2c2c2"/><circle cx="409.7" cy="123.6" r="1.15" fill="#bfbfbf"/><circle cx="414.1" cy="119.6" r="1.15" fill="#b7b7b7"/><circle cx="410.8" cy="123.0" r="1.15" fill="#c3c3c3"/><circle cx="407.2" cy="128.2" r="1.15" fill="#b6b6b6"/><circle cx="413.3" cy="110.5" r="1.15" fill="#b7b7b7"/><circle cx="414.8" cy="119.3" r="1.15" fill="#a8a8a8"/><circle cx="411.8" cy="119.9" r="1.15" fill="#b6b6b6"/><circle cx="412.7" cy="110.4" r="1.15" fill="#bebebe"/><circle cx="408.1" cy="125.7" r="1.15" fill="#b0b0b0"/><circle cx="415.4" cy="117.6" r="1.15" fill="#a9a9a9"/><circle cx="413.7" cy="114.8" r="1.15" fill="#bcbcbc"/><circle cx="418.7" cy="126.7" r="1.15" fill="#b8b8b8"/><circle cx="409.8" cy="121.2" r="1.15" fill="#a8a8a8"/><circle cx="413.7" cy="121.3" r="1.15" fill="#b6b6b6"/><circle cx="413.0" cy="113.0" r="1.15" fill="#bdbdbd"/><circle cx="413.3" cy="116.1" r="1.15" fill="#ababab"/><circle cx="413.1" cy="120.1" r="1.15" fill="#b2b2b2"/><circle cx="412.8" cy="119.5" r="1.15" fill="#bfbfbf"/><circle cx="412.1" cy="113.0" r="1.15" fill="#adadad"/><circle cx="421.8" cy="98.2" r="1.15" fill="#bebebe"/><circle cx="422.8" cy="110.1" r="1.15" fill="#b5b5b5"/><circle cx="421.5" cy="109.9" r="1.15" fill="#b2b2b2"/><circle cx="419.1" cy="123.8" r="1.15" fill="#bfbfbf"/><circle cx="424.9" cy="126.1" r="1.15" fill="#c0c0c0"/><circle cx="418.8" cy="127.8" r="1.15" fill="#c2c2c2"/><circle cx="420.2" cy="114.1" r="1.15" fill="#bababa"/><circle cx="421.4" cy="115.4" r="1.15" fill="#acacac"/><circle cx="421.3" cy="108.8" r="1.15" fill="#b5b5b5"/><circle cx="423.5" cy="117.8" r="1.15" fill="#b8b8b8"/><circle cx="422.8" cy="110.5" r="1.15" fill="#b8b8b8"/><circle cx="421.7" cy="105.5" r="1.15" fill="#c2c2c2"/><circle cx="421.7" cy="118.0" r="1.15" fill="#b0b0b0"/><circle cx="422.4" cy="120.5" r="1.15" fill="#c3c3c3"/><circle cx="422.0" cy="119.3" r="1.15" fill="#b1b1b1"/><circle cx="421.3" cy="118.5" r="1.15" fill="#bebebe"/><circle cx="424.0" cy="111.2" r="1.15" fill="#c4c4c4"/><circle cx="429.9" cy="127.9" r="1.15" fill="#b1b1b1"/><circle cx="423.8" cy="115.9" r="1.15" fill="#b3b3b3"/><circle cx="421.6" cy="117.2" r="1.15" fill="#aaaaaa"/><circle cx="419.1" cy="126.7" r="1.15" fill="#c0c0c0"/><circle cx="420.4" cy="121.2" r="1.15" fill="#b4b4b4"/><circle cx="424.1" cy="117.6" r="1.15" fill="#b3b3b3"/><circle cx="422.7" cy="115.4" r="1.15" fill="#aeaeae"/><circle cx="420.8" cy="120.4" r="1.15" fill="#aeaeae"/><circle cx="426.7" cy="121.7" r="1.15" fill="#a8a8a8"/><circle cx="422.3" cy="120.1" r="1.15" fill="#ababab"/><circle cx="424.4" cy="118.8" r="1.15" fill="#aaaaaa"/><circle cx="423.7" cy="119.4" r="1.15" fill="#c0c0c0"/><circle cx="424.8" cy="120.8" r="1.15" fill="#c0c0c0"/><circle cx="424.1" cy="118.6" r="1.15" fill="#bababa"/><circle cx="423.3" cy="113.3" r="1.15" fill="#b7b7b7"/><circle cx="440.0" cy="118.9" r="1.15" fill="#a9a9a9"/><circle cx="439.3" cy="123.4" r="1.15" fill="#b7b7b7"/><circle cx="446.2" cy="127.3" r="1.15" fill="#adadad"/><circle cx="444.5" cy="126.5" r="1.15" fill="#a9a9a9"/><circle cx="442.7" cy="123.4" r="1.15" fill="#bebebe"/><circle cx="436.8" cy="124.0" r="1.15" fill="#bbbbbb"/><circle cx="447.0" cy="129.0" r="1.15" fill="#b2b2b2"/><circle cx="442.6" cy="124.7" r="1.15" fill="#bbbbbb"/><circle cx="439.8" cy="121.0" r="1.15" fill="#b4b4b4"/><circle cx="439.6" cy="122.8" r="1.15" fill="#b1b1b1"/><circle cx="440.5" cy="121.5" r="1.15" fill="#b0b0b0"/><circle cx="455.7" cy="85.6" r="1.15" fill="#afafaf"/><circle cx="453.2" cy="128.5" r="1.15" fill="#aaaaaa"/><circle cx="457.1" cy="116.0" r="1.15" fill="#afafaf"/><circle cx="456.3" cy="109.6" r="1.15" fill="#a8a8a8"/><circle cx="455.2" cy="93.2" r="1.15" fill="#acacac"/><circle cx="454.1" cy="110.2" r="1.15" fill="#c3c3c3"/><circle cx="453.4" cy="124.2" r="1.15" fill="#a8a8a8"/><circle cx="457.4" cy="112.5" r="1.15" fill="#adadad"/><circle cx="455.1" cy="101.9" r="1.15" fill="#b7b7b7"/><circle cx="456.8" cy="105.4" r="1.15" fill="#bababa"/><circle cx="457.0" cy="110.5" r="1.15" fill="#b5b5b5"/><circle cx="455.6" cy="109.4" r="1.15" fill="#b5b5b5"/><circle cx="455.5" cy="100.6" r="1.15" fill="#b3b3b3"/><circle cx="455.0" cy="87.3" r="1.15" fill="#b9b9b9"/><circle cx="456.4" cy="107.2" r="1.15" fill="#c4c4c4"/><circle cx="456.5" cy="95.1" r="1.15" fill="#b2b2b2"/><circle cx="457.0" cy="104.7" r="1.15" fill="#b1b1b1"/><circle cx="460.5" cy="128.1" r="1.15" fill="#c2c2c2"/><circle cx="457.5" cy="113.5" r="1.15" fill="#aeaeae"/><circle cx="457.0" cy="116.6" r="1.15" fill="#b9b9b9"/><circle cx="458.0" cy="111.2" r="1.15" fill="#b5b5b5"/><circle cx="458.3" cy="119.0" r="1.15" fill="#ababab"/><circle cx="459.4" cy="122.3" r="1.15" fill="#b6b6b6"/><circle cx="454.2" cy="123.0" r="1.15" fill="#a8a8a8"/><circle cx="456.7" cy="112.6" r="1.15" fill="#b3b3b3"/><circle cx="460.8" cy="129.7" r="1.15" fill="#bbbbbb"/><circle cx="457.5" cy="109.6" r="1.15" fill="#bbbbbb"/><circle cx="456.8" cy="121.5" r="1.15" fill="#c3c3c3"/><circle cx="456.7" cy="110.8" r="1.15" fill="#b8b8b8"/><circle cx="457.9" cy="108.4" r="1.15" fill="#a9a9a9"/><circle cx="452.0" cy="117.6" r="1.15" fill="#afafaf"/><circle cx="450.8" cy="124.3" r="1.15" fill="#bebebe"/><circle cx="450.5" cy="123.1" r="1.15" fill="#acacac"/><circle cx="447.1" cy="129.8" r="1.15" fill="#afafaf"/><circle cx="453.6" cy="125.4" r="1.15" fill="#b2b2b2"/><circle cx="450.0" cy="122.3" r="1.15" fill="#bdbdbd"/><circle cx="456.5" cy="129.0" r="1.15" fill="#c3c3c3"/><circle cx="452.1" cy="125.9" r="1.15" fill="#c2c2c2"/><circle cx="452.3" cy="119.8" r="1.15" fill="#c1c1c1"/><circle cx="452.0" cy="122.4" r="1.15" fill="#bfbfbf"/><circle cx="467.0" cy="113.7" r="1.15" fill="#aeaeae"/><circle cx="469.0" cy="125.2" r="1.15" fill="#afafaf"/><circle cx="470.3" cy="123.6" r="1.15" fill="#b1b1b1"/><circle cx="464.0" cy="123.5" r="1.15" fill="#acacac"/><circle cx="469.1" cy="123.4" r="1.15" fill="#b8b8b8"/><circle cx="470.9" cy="127.4" r="1.15" fill="#b7b7b7"/><circle cx="466.7" cy="120.5" r="1.15" fill="#ababab"/><circle cx="466.4" cy="116.9" r="1.15" fill="#aeaeae"/><circle cx="467.7" cy="118.8" r="1.15" fill="#b9b9b9"/><circle cx="466.5" cy="114.4" r="1.15" fill="#b7b7b7"/><circle cx="467.1" cy="118.5" r="1.15" fill="#a9a9a9"/><circle cx="467.4" cy="123.8" r="1.15" fill="#c2c2c2"/><circle cx="467.5" cy="120.5" r="1.15" fill="#b3b3b3"/><circle cx="476.7" cy="91.2" r="1.15" fill="#c3c3c3"/><circle cx="476.2" cy="98.9" r="1.15" fill="#aeaeae"/><circle cx="479.5" cy="122.7" r="1.15" fill="#aaaaaa"/><circle cx="474.5" cy="119.7" r="1.15" fill="#adadad"/><circle cx="478.1" cy="115.9" r="1.15" fill="#b1b1b1"/><circle cx="479.3" cy="119.0" r="1.15" fill="#bdbdbd"/><circle cx="474.9" cy="116.9" r="1.15" fill="#a9a9a9"/><circle cx="474.9" cy="112.7" r="1.15" fill="#a8a8a8"/><circle cx="473.6" cy="125.5" r="1.15" fill="#c4c4c4"/><circle cx="473.7" cy="123.7" r="1.15" fill="#b3b3b3"/><circle cx="477.0" cy="102.3" r="1.15" fill="#c3c3c3"/><circle cx="474.0" cy="125.5" r="1.15" fill="#aaaaaa"/><circle cx="475.7" cy="101.0" r="1.15" fill="#c3c3c3"/><circle cx="477.4" cy="100.1" r="1.15" fill="#b3b3b3"/><circle cx="476.6" cy="117.0" r="1.15" fill="#a9a9a9"/><circle cx="476.8" cy="100.3" r="1.15" fill="#aeaeae"/><circle cx="476.8" cy="114.0" r="1.15" fill="#b5b5b5"/><circle cx="476.6" cy="100.4" r="1.15" fill="#afafaf"/><circle cx="477.6" cy="110.2" r="1.15" fill="#bbbbbb"/><circle cx="476.2" cy="103.9" r="1.15" fill="#c3c3c3"/><circle cx="474.0" cy="104.7" r="1.15" fill="#bdbdbd"/><circle cx="472.4" cy="117.8" r="1.15" fill="#afafaf"/><circle cx="471.1" cy="121.5" r="1.15" fill="#ababab"/><circle cx="471.3" cy="123.5" r="1.15" fill="#b3b3b3"/><circle cx="471.8" cy="116.8" r="1.15" fill="#b9b9b9"/><circle cx="471.4" cy="122.5" r="1.15" fill="#b1b1b1"/><circle cx="478.0" cy="123.4" r="1.15" fill="#a9a9a9"/><circle cx="474.1" cy="114.8" r="1.15" fill="#acacac"/><circle cx="478.4" cy="123.7" r="1.15" fill="#b6b6b6"/><circle cx="475.4" cy="113.8" r="1.15" fill="#ababab"/><circle cx="476.2" cy="117.8" r="1.15" fill="#c1c1c1"/><circle cx="473.0" cy="115.8" r="1.15" fill="#bfbfbf"/><circle cx="474.0" cy="112.4" r="1.15" fill="#b0b0b0"/><circle cx="474.3" cy="112.2" r="1.15" fill="#b6b6b6"/><circle cx="477.3" cy="118.3" r="1.15" fill="#c2c2c2"/><circle cx="470.8" cy="124.2" r="1.15" fill="#ababab"/><circle cx="474.1" cy="117.6" r="1.15" fill="#afafaf"/><circle cx="475.0" cy="112.0" r="1.15" fill="#bababa"/><circle cx="474.2" cy="117.8" r="1.15" fill="#b4b4b4"/><circle cx="474.4" cy="108.3" r="1.15" fill="#c2c2c2"/><circle cx="475.1" cy="110.9" r="1.15" fill="#c1c1c1"/><circle cx="473.6" cy="114.9" r="1.15" fill="#b0b0b0"/><circle cx="473.1" cy="115.9" r="1.15" fill="#a8a8a8"/><circle cx="489.0" cy="123.0" r="1.15" fill="#b9b9b9"/><circle cx="489.5" cy="124.1" r="1.15" fill="#b9b9b9"/><circle cx="494.1" cy="130.1" r="1.15" fill="#b4b4b4"/><circle cx="492.5" cy="129.0" r="1.15" fill="#b9b9b9"/><circle cx="489.0" cy="125.5" r="1.15" fill="#afafaf"/><circle cx="496.4" cy="108.6" r="1.15" fill="#bebebe"/><circle cx="496.5" cy="117.2" r="1.15" fill="#b6b6b6"/><circle cx="498.8" cy="124.7" r="1.15" fill="#acacac"/><circle cx="499.7" cy="130.0" r="1.15" fill="#bebebe"/><circle cx="499.7" cy="130.1" r="1.15" fill="#b7b7b7"/><circle cx="494.0" cy="125.0" r="1.15" fill="#afafaf"/><circle cx="497.3" cy="121.9" r="1.15" fill="#aeaeae"/><circle cx="496.8" cy="111.4" r="1.15" fill="#ababab"/><circle cx="498.0" cy="117.5" r="1.15" fill="#b7b7b7"/><circle cx="496.5" cy="115.4" r="1.15" fill="#c3c3c3"/><circle cx="495.6" cy="121.4" r="1.15" fill="#b1b1b1"/><circle cx="509.0" cy="110.1" r="1.15" fill="#afafaf"/><circle cx="508.7" cy="112.3" r="1.15" fill="#b9b9b9"/><circle cx="510.4" cy="122.2" r="1.15" fill="#aaaaaa"/><circle cx="508.6" cy="116.5" r="1.15" fill="#b8b8b8"/><circle cx="507.7" cy="119.1" r="1.15" fill="#bebebe"/><circle cx="510.0" cy="123.1" r="1.15" fill="#b3b3b3"/><circle cx="506.8" cy="121.9" r="1.15" fill="#b5b5b5"/><circle cx="506.8" cy="125.4" r="1.15" fill="#c3c3c3"/><circle cx="511.0" cy="123.4" r="1.15" fill="#a9a9a9"/><circle cx="509.7" cy="123.0" r="1.15" fill="#b8b8b8"/><circle cx="508.8" cy="115.7" r="1.15" fill="#ababab"/><circle cx="508.9" cy="114.5" r="1.15" fill="#a9a9a9"/><circle cx="510.1" cy="114.0" r="1.15" fill="#bcbcbc"/><circle cx="519.7" cy="96.1" r="1.15" fill="#c3c3c3"/><circle cx="517.4" cy="127.7" r="1.15" fill="#b6b6b6"/><circle cx="521.2" cy="121.7" r="1.15" fill="#c4c4c4"/><circle cx="518.1" cy="122.7" r="1.15" fill="#bfbfbf"/><circle cx="518.0" cy="120.5" r="1.15" fill="#b4b4b4"/><circle cx="522.1" cy="127.5" r="1.15" fill="#afafaf"/><circle cx="518.4" cy="112.1" r="1.15" fill="#adadad"/><circle cx="520.0" cy="106.0" r="1.15" fill="#aaaaaa"/><circle cx="520.5" cy="98.6" r="1.15" fill="#bfbfbf"/><circle cx="520.4" cy="111.4" r="1.15" fill="#b6b6b6"/><circle cx="521.0" cy="113.3" r="1.15" fill="#b9b9b9"/><circle cx="524.4" cy="126.1" r="1.15" fill="#aeaeae"/><circle cx="523.2" cy="124.4" r="1.15" fill="#a8a8a8"/><circle cx="520.9" cy="113.7" r="1.15" fill="#afafaf"/><circle cx="518.3" cy="124.7" r="1.15" fill="#acacac"/><circle cx="525.3" cy="127.2" r="1.15" fill="#b7b7b7"/><circle cx="516.5" cy="128.6" r="1.15" fill="#aaaaaa"/><circle cx="521.2" cy="122.6" r="1.15" fill="#b3b3b3"/><circle cx="520.7" cy="117.3" r="1.15" fill="#c1c1c1"/><circle cx="522.1" cy="114.0" r="1.15" fill="#c3c3c3"/><circle cx="530.0" cy="91.8" r="1.15" fill="#bbbbbb"/><circle cx="531.2" cy="108.4" r="1.15" fill="#c2c2c2"/><circle cx="529.1" cy="104.1" r="1.15" fill="#b7b7b7"/><circle cx="530.0" cy="112.0" r="1.15" fill="#b5b5b5"/><circle cx="529.9" cy="105.2" r="1.15" fill="#ababab"/><circle cx="530.2" cy="113.0" r="1.15" fill="#bcbcbc"/><circle cx="526.6" cy="126.7" r="1.15" fill="#a8a8a8"/><circle cx="529.1" cy="111.2" r="1.15" fill="#acacac"/><circle cx="527.4" cy="119.1" r="1.15" fill="#b1b1b1"/><circle cx="533.0" cy="125.3" r="1.15" fill="#acacac"/><circle cx="530.0" cy="102.5" r="1.15" fill="#a8a8a8"/><circle cx="531.9" cy="114.5" r="1.15" fill="#bbbbbb"/><circle cx="528.1" cy="118.6" r="1.15" fill="#b0b0b0"/><circle cx="531.6" cy="118.7" r="1.15" fill="#bcbcbc"/><circle cx="530.1" cy="114.0" r="1.15" fill="#c4c4c4"/><circle cx="529.9" cy="106.8" r="1.15" fill="#c1c1c1"/><circle cx="530.5" cy="99.6" r="1.15" fill="#c2c2c2"/><circle cx="529.3" cy="99.2" r="1.15" fill="#bbbbbb"/><circle cx="530.0" cy="97.5" r="1.15" fill="#acacac"/><circle cx="529.8" cy="115.1" r="1.15" fill="#bababa"/><circle cx="533.0" cy="106.8" r="1.15" fill="#b1b1b1"/><circle cx="528.6" cy="126.0" r="1.15" fill="#b6b6b6"/><circle cx="526.9" cy="128.3" r="1.15" fill="#acacac"/><circle cx="531.5" cy="121.0" r="1.15" fill="#b4b4b4"/><circle cx="527.1" cy="127.3" r="1.15" fill="#b7b7b7"/><circle cx="534.3" cy="111.7" r="1.15" fill="#b8b8b8"/><circle cx="527.0" cy="129.0" r="1.15" fill="#a8a8a8"/><circle cx="530.2" cy="122.1" r="1.15" fill="#bcbcbc"/><circle cx="528.0" cy="126.5" r="1.15" fill="#c3c3c3"/><circle cx="534.8" cy="120.6" r="1.15" fill="#adadad"/><circle cx="528.7" cy="123.1" r="1.15" fill="#bdbdbd"/><circle cx="531.4" cy="120.5" r="1.15" fill="#c4c4c4"/><circle cx="533.9" cy="115.2" r="1.15" fill="#c1c1c1"/><circle cx="531.5" cy="116.8" r="1.15" fill="#bdbdbd"/><circle cx="527.0" cy="128.0" r="1.15" fill="#b7b7b7"/><circle cx="529.0" cy="123.5" r="1.15" fill="#c4c4c4"/><circle cx="534.3" cy="114.1" r="1.15" fill="#adadad"/><circle cx="533.1" cy="117.2" r="1.15" fill="#c2c2c2"/><circle cx="531.6" cy="121.3" r="1.15" fill="#b7b7b7"/><circle cx="532.6" cy="117.3" r="1.15" fill="#c2c2c2"/><circle cx="532.8" cy="112.2" r="1.15" fill="#bfbfbf"/><circle cx="532.4" cy="109.0" r="1.15" fill="#c1c1c1"/><circle cx="533.5" cy="118.8" r="1.15" fill="#c2c2c2"/><circle cx="548.0" cy="113.3" r="1.15" fill="#aeaeae"/><circle cx="551.3" cy="121.8" r="1.15" fill="#b2b2b2"/><circle cx="550.6" cy="119.5" r="1.15" fill="#b3b3b3"/><circle cx="543.9" cy="125.3" r="1.15" fill="#aeaeae"/><circle cx="552.6" cy="124.9" r="1.15" fill="#a9a9a9"/><circle cx="543.0" cy="125.3" r="1.15" fill="#b6b6b6"/><circle cx="551.1" cy="121.1" r="1.15" fill="#c0c0c0"/><circle cx="546.2" cy="120.1" r="1.15" fill="#b6b6b6"/><circle cx="548.1" cy="114.3" r="1.15" fill="#b7b7b7"/><circle cx="548.6" cy="115.1" r="1.15" fill="#b6b6b6"/><circle cx="547.5" cy="113.8" r="1.15" fill="#acacac"/><circle cx="562.4" cy="84.3" r="1.15" fill="#b1b1b1"/><circle cx="564.2" cy="115.4" r="1.15" fill="#b0b0b0"/><circle cx="564.8" cy="127.3" r="1.15" fill="#b5b5b5"/><circle cx="561.9" cy="100.9" r="1.15" fill="#c0c0c0"/><circle cx="560.5" cy="116.5" r="1.15" fill="#c3c3c3"/><circle cx="560.1" cy="123.6" r="1.15" fill="#b1b1b1"/><circle cx="561.3" cy="112.3" r="1.15" fill="#c0c0c0"/><circle cx="563.0" cy="109.3" r="1.15" fill="#aeaeae"/><circle cx="562.1" cy="91.5" r="1.15" fill="#c4c4c4"/><circle cx="564.9" cy="129.0" r="1.15" fill="#c0c0c0"/><circle cx="561.7" cy="100.6" r="1.15" fill="#c4c4c4"/><circle cx="562.8" cy="110.5" r="1.15" fill="#b0b0b0"/><circle cx="563.5" cy="99.4" r="1.15" fill="#b1b1b1"/><circle cx="562.4" cy="116.6" r="1.15" fill="#bbbbbb"/><circle cx="562.4" cy="116.6" r="1.15" fill="#b9b9b9"/><circle cx="562.2" cy="85.9" r="1.15" fill="#aaaaaa"/><circle cx="572.0" cy="85.6" r="1.15" fill="#bdbdbd"/><circle cx="572.7" cy="113.6" r="1.15" fill="#c4c4c4"/><circle cx="573.1" cy="114.0" r="1.15" fill="#bababa"/><circle cx="571.9" cy="93.5" r="1.15" fill="#b8b8b8"/><circle cx="573.9" cy="114.6" r="1.15" fill="#bbbbbb"/><circle cx="571.6" cy="106.0" r="1.15" fill="#acacac"/><circle cx="571.5" cy="107.2" r="1.15" fill="#b9b9b9"/><circle cx="573.3" cy="111.8" r="1.15" fill="#bababa"/><circle cx="573.0" cy="114.0" r="1.15" fill="#b9b9b9"/><circle cx="572.4" cy="93.5" r="1.15" fill="#aaaaaa"/><circle cx="572.4" cy="98.5" r="1.15" fill="#b3b3b3"/><circle cx="571.9" cy="112.1" r="1.15" fill="#b6b6b6"/><circle cx="572.6" cy="111.5" r="1.15" fill="#aaaaaa"/><circle cx="566.0" cy="109.0" r="1.15" fill="#c0c0c0"/><circle cx="569.6" cy="120.5" r="1.15" fill="#b5b5b5"/><circle cx="568.7" cy="115.5" r="1.15" fill="#b7b7b7"/><circle cx="559.1" cy="128.6" r="1.15" fill="#c2c2c2"/><circle cx="558.8" cy="128.7" r="1.15" fill="#aeaeae"/><circle cx="571.1" cy="122.8" r="1.15" fill="#bfbfbf"/><circle cx="566.7" cy="112.2" r="1.15" fill="#aaaaaa"/><circle cx="564.0" cy="121.8" r="1.15" fill="#c3c3c3"/><circle cx="568.2" cy="122.9" r="1.15" fill="#b4b4b4"/><circle cx="561.8" cy="125.1" r="1.15" fill="#b6b6b6"/><circle cx="560.7" cy="126.3" r="1.15" fill="#b8b8b8"/><circle cx="566.5" cy="119.9" r="1.15" fill="#b6b6b6"/><circle cx="567.6" cy="114.4" r="1.15" fill="#c1c1c1"/><circle cx="566.1" cy="119.1" r="1.15" fill="#a9a9a9"/><circle cx="566.7" cy="113.6" r="1.15" fill="#c1c1c1"/><circle cx="566.6" cy="111.3" r="1.15" fill="#ababab"/><circle cx="565.3" cy="111.6" r="1.15" fill="#bababa"/><circle cx="565.7" cy="114.3" r="1.15" fill="#bbbbbb"/><circle cx="566.5" cy="112.9" r="1.15" fill="#b5b5b5"/><circle cx="583.0" cy="104.7" r="1.15" fill="#c2c2c2"/><circle cx="584.0" cy="116.2" r="1.15" fill="#acacac"/><circle cx="579.2" cy="129.6" r="1.15" fill="#bdbdbd"/><circle cx="581.2" cy="118.4" r="1.15" fill="#b6b6b6"/><circle cx="583.1" cy="111.9" r="1.15" fill="#bfbfbf"/><circle cx="579.6" cy="128.1" r="1.15" fill="#aaaaaa"/><circle cx="583.8" cy="112.9" r="1.15" fill="#acacac"/><circle cx="586.8" cy="129.5" r="1.15" fill="#ababab"/><circle cx="582.9" cy="117.7" r="1.15" fill="#b8b8b8"/><circle cx="582.3" cy="108.9" r="1.15" fill="#aaaaaa"/><circle cx="583.2" cy="115.9" r="1.15" fill="#bcbcbc"/><circle cx="588.0" cy="94.6" r="1.15" fill="#b5b5b5"/><circle cx="590.2" cy="124.6" r="1.15" fill="#ababab"/><circle cx="587.5" cy="109.1" r="1.15" fill="#acacac"/><circle cx="587.3" cy="103.1" r="1.15" fill="#ababab"/><circle cx="585.6" cy="126.9" r="1.15" fill="#c2c2c2"/><circle cx="585.8" cy="123.7" r="1.15" fill="#aaaaaa"/><circle cx="586.2" cy="123.2" r="1.15" fill="#bbbbbb"/><circle cx="587.3" cy="101.4" r="1.15" fill="#aaaaaa"/><circle cx="588.4" cy="109.0" r="1.15" fill="#c3c3c3"/><circle cx="587.8" cy="98.4" r="1.15" fill="#b6b6b6"/><circle cx="598.0" cy="97.0" r="1.15" fill="#b9b9b9"/><circle cx="596.2" cy="122.8" r="1.15" fill="#bdbdbd"/><circle cx="600.4" cy="123.1" r="1.15" fill="#adadad"/><circle cx="595.7" cy="124.4" r="1.15" fill="#c2c2c2"/><circle cx="600.4" cy="121.9" r="1.15" fill="#b0b0b0"/><circle cx="595.3" cy="125.2" r="1.15" fill="#c2c2c2"/><circle cx="596.2" cy="118.7" r="1.15" fill="#bbbbbb"/><circle cx="598.7" cy="117.2" r="1.15" fill="#bababa"/><circle cx="600.7" cy="126.4" r="1.15" fill="#bcbcbc"/><circle cx="598.6" cy="117.2" r="1.15" fill="#bababa"/><circle cx="598.1" cy="119.6" r="1.15" fill="#bcbcbc"/><circle cx="597.7" cy="105.8" r="1.15" fill="#b9b9b9"/><circle cx="596.7" cy="102.7" r="1.15" fill="#a9a9a9"/><circle cx="595.0" cy="109.0" r="1.15" fill="#a8a8a8"/><circle cx="590.4" cy="125.5" r="1.15" fill="#aeaeae"/><circle cx="596.6" cy="117.8" r="1.15" fill="#b3b3b3"/><circle cx="591.9" cy="116.8" r="1.15" fill="#b5b5b5"/><circle cx="590.5" cy="121.9" r="1.15" fill="#ababab"/><circle cx="588.3" cy="126.1" r="1.15" fill="#c3c3c3"/><circle cx="602.0" cy="127.8" r="1.15" fill="#bfbfbf"/><circle cx="592.2" cy="117.7" r="1.15" fill="#acacac"/><circle cx="601.3" cy="125.4" r="1.15" fill="#bababa"/><circle cx="587.8" cy="128.4" r="1.15" fill="#aaaaaa"/><circle cx="589.4" cy="124.7" r="1.15" fill="#b0b0b0"/><circle cx="602.0" cy="127.3" r="1.15" fill="#adadad"/><circle cx="591.1" cy="121.2" r="1.15" fill="#a9a9a9"/><circle cx="595.2" cy="119.5" r="1.15" fill="#aeaeae"/><circle cx="595.5" cy="113.1" r="1.15" fill="#b9b9b9"/><circle cx="595.9" cy="119.2" r="1.15" fill="#b3b3b3"/><circle cx="594.2" cy="113.6" r="1.15" fill="#b5b5b5"/><circle cx="595.4" cy="117.4" r="1.15" fill="#c3c3c3"/><circle cx="595.2" cy="121.6" r="1.15" fill="#b8b8b8"/><circle cx="613.0" cy="94.6" r="1.15" fill="#aeaeae"/><circle cx="614.7" cy="119.4" r="1.15" fill="#b7b7b7"/><circle cx="613.8" cy="112.7" r="1.15" fill="#aeaeae"/><circle cx="612.3" cy="115.1" r="1.15" fill="#aeaeae"/><circle cx="615.5" cy="127.9" r="1.15" fill="#a8a8a8"/><circle cx="611.1" cy="120.4" r="1.15" fill="#b5b5b5"/><circle cx="613.5" cy="106.8" r="1.15" fill="#a8a8a8"/><circle cx="614.4" cy="115.4" r="1.15" fill="#aaaaaa"/><circle cx="613.2" cy="98.6" r="1.15" fill="#c1c1c1"/><circle cx="613.6" cy="104.1" r="1.15" fill="#c2c2c2"/><circle cx="612.9" cy="110.7" r="1.15" fill="#c3c3c3"/><circle cx="612.0" cy="113.3" r="1.15" fill="#b4b4b4"/><circle cx="610.8" cy="120.9" r="1.15" fill="#acacac"/><circle cx="613.9" cy="122.1" r="1.15" fill="#bcbcbc"/><circle cx="610.1" cy="118.6" r="1.15" fill="#a8a8a8"/><circle cx="615.9" cy="123.7" r="1.15" fill="#b3b3b3"/><circle cx="616.5" cy="126.0" r="1.15" fill="#bababa"/><circle cx="613.9" cy="122.8" r="1.15" fill="#b2b2b2"/><circle cx="609.6" cy="124.5" r="1.15" fill="#afafaf"/><circle cx="612.4" cy="121.9" r="1.15" fill="#adadad"/><circle cx="610.7" cy="121.0" r="1.15" fill="#bbbbbb"/><circle cx="612.2" cy="118.0" r="1.15" fill="#aeaeae"/><circle cx="628.0" cy="113.3" r="1.15" fill="#bfbfbf"/><circle cx="633.1" cy="128.0" r="1.15" fill="#b8b8b8"/><circle cx="624.8" cy="121.8" r="1.15" fill="#b0b0b0"/><circle cx="624.4" cy="122.0" r="1.15" fill="#bfbfbf"/><circle cx="626.1" cy="121.3" r="1.15" fill="#bbbbbb"/><circle cx="624.1" cy="125.4" r="1.15" fill="#b9b9b9"/><circle cx="627.0" cy="121.4" r="1.15" fill="#b1b1b1"/><circle cx="631.0" cy="125.6" r="1.15" fill="#b0b0b0"/><circle cx="629.8" cy="118.7" r="1.15" fill="#c0c0c0"/><circle cx="628.2" cy="121.6" r="1.15" fill="#aeaeae"/><circle cx="628.1" cy="124.4" r="1.15" fill="#b0b0b0"/><circle cx="628.3" cy="116.2" r="1.15" fill="#bfbfbf"/><circle cx="627.9" cy="120.1" r="1.15" fill="#c3c3c3"/><circle cx="658.0" cy="100.8" r="1.15" fill="#c1c1c1"/><circle cx="658.6" cy="114.9" r="1.15" fill="#bdbdbd"/><circle cx="655.1" cy="128.1" r="1.15" fill="#aeaeae"/><circle cx="657.1" cy="108.4" r="1.15" fill="#c4c4c4"/><circle cx="657.1" cy="108.7" r="1.15" fill="#b9b9b9"/><circle cx="660.3" cy="122.7" r="1.15" fill="#b3b3b3"/><circle cx="655.7" cy="121.7" r="1.15" fill="#adadad"/><circle cx="655.4" cy="124.8" r="1.15" fill="#b9b9b9"/><circle cx="655.5" cy="126.5" r="1.15" fill="#bababa"/><circle cx="657.4" cy="116.9" r="1.15" fill="#a8a8a8"/><circle cx="657.9" cy="101.9" r="1.15" fill="#b0b0b0"/><circle cx="656.9" cy="102.6" r="1.15" fill="#c1c1c1"/><circle cx="657.4" cy="106.5" r="1.15" fill="#bcbcbc"/><circle cx="657.6" cy="106.1" r="1.15" fill="#a9a9a9"/><circle cx="662.0" cy="111.2" r="1.15" fill="#b1b1b1"/><circle cx="664.6" cy="123.0" r="1.15" fill="#bfbfbf"/><circle cx="662.5" cy="118.0" r="1.15" fill="#ababab"/><circle cx="662.2" cy="114.6" r="1.15" fill="#c0c0c0"/><circle cx="664.9" cy="120.4" r="1.15" fill="#a9a9a9"/><circle cx="666.5" cy="121.7" r="1.15" fill="#bababa"/><circle cx="655.6" cy="127.8" r="1.15" fill="#bbbbbb"/><circle cx="654.9" cy="128.9" r="1.15" fill="#afafaf"/><circle cx="669.2" cy="128.9" r="1.15" fill="#afafaf"/><circle cx="661.0" cy="118.2" r="1.15" fill="#aaaaaa"/><circle cx="663.0" cy="120.0" r="1.15" fill="#ababab"/><circle cx="666.3" cy="124.1" r="1.15" fill="#aeaeae"/><circle cx="667.4" cy="123.8" r="1.15" fill="#c0c0c0"/><circle cx="654.2" cy="130.1" r="1.15" fill="#bdbdbd"/><circle cx="655.7" cy="125.8" r="1.15" fill="#acacac"/><circle cx="655.3" cy="128.1" r="1.15" fill="#c4c4c4"/><circle cx="666.2" cy="122.4" r="1.15" fill="#c0c0c0"/><circle cx="664.6" cy="121.0" r="1.15" fill="#b6b6b6"/><circle cx="662.3" cy="120.0" r="1.15" fill="#b0b0b0"/><circle cx="661.5" cy="118.7" r="1.15" fill="#aeaeae"/><circle cx="662.0" cy="123.3" r="1.15" fill="#b3b3b3"/><circle cx="662.9" cy="122.9" r="1.15" fill="#c4c4c4"/><circle cx="662.2" cy="117.2" r="1.15" fill="#a8a8a8"/><circle cx="662.7" cy="124.7" r="1.15" fill="#c2c2c2"/><circle cx="663.1" cy="119.8" r="1.15" fill="#bcbcbc"/><circle cx="661.9" cy="122.6" r="1.15" fill="#c2c2c2"/><circle cx="662.8" cy="122.4" r="1.15" fill="#bfbfbf"/><circle cx="660.5" cy="114.9" r="1.15" fill="#adadad"/><circle cx="648.8" cy="35.5" r="1.15" fill="#bbbbbb"/><circle cx="648.8" cy="38.5" r="1.15" fill="#bababa"/><circle cx="648.3" cy="47.9" r="1.15" fill="#afafaf"/><circle cx="648.2" cy="52.5" r="1.15" fill="#bbbbbb"/><circle cx="648.2" cy="59.3" r="1.15" fill="#afafaf"/><circle cx="648.3" cy="61.7" r="1.15" fill="#bababa"/><circle cx="648.8" cy="71.6" r="1.15" fill="#bbbbbb"/><circle cx="648.8" cy="80.4" r="1.15" fill="#b2b2b2"/><circle cx="648.5" cy="93.3" r="1.15" fill="#ababab"/><circle cx="648.2" cy="98.2" r="1.15" fill="#b4b4b4"/><circle cx="648.4" cy="104.7" r="1.15" fill="#bbbbbb"/><circle cx="648.3" cy="111.2" r="1.15" fill="#bababa"/><circle cx="650.6" cy="21.3" r="1.2" fill="#c0282d"/></g><line x1="388.30" y1="12.25" x2="388.30" y2="130.50" stroke="#747474" stroke-width="1.0" /><line x1="385.60" y1="130.50" x2="388.30" y2="130.50" stroke="#5a5a5a" stroke-width="0.9" /><text x="381.60" y="133.38" font-size="9.4" text-anchor="end" fill="#1a1a1a" >0.0</text><line x1="385.60" y1="119.75" x2="388.30" y2="119.75" stroke="#5a5a5a" stroke-width="0.9" /><text x="381.60" y="122.63" font-size="9.4" text-anchor="end" fill="#1a1a1a" >0.5</text><line x1="385.60" y1="109.00" x2="388.30" y2="109.00" stroke="#5a5a5a" stroke-width="0.9" /><text x="381.60" y="111.88" font-size="9.4" text-anchor="end" fill="#1a1a1a" >1.0</text><line x1="385.60" y1="98.25" x2="388.30" y2="98.25" stroke="#5a5a5a" stroke-width="0.9" /><text x="381.60" y="101.13" font-size="9.4" text-anchor="end" fill="#1a1a1a" >1.5</text><line x1="385.60" y1="87.50" x2="388.30" y2="87.50" stroke="#5a5a5a" stroke-width="0.9" /><text x="381.60" y="90.38" font-size="9.4" text-anchor="end" fill="#1a1a1a" >2.0</text><line x1="385.60" y1="76.75" x2="388.30" y2="76.75" stroke="#5a5a5a" stroke-width="0.9" /><text x="381.60" y="79.63" font-size="9.4" text-anchor="end" fill="#1a1a1a" >2.5</text><line x1="385.60" y1="66.00" x2="388.30" y2="66.00" stroke="#5a5a5a" stroke-width="0.9" /><text x="381.60" y="68.88" font-size="9.4" text-anchor="end" fill="#1a1a1a" >3.0</text><line x1="385.60" y1="55.25" x2="388.30" y2="55.25" stroke="#5a5a5a" stroke-width="0.9" /><text x="381.60" y="58.13" font-size="9.4" text-anchor="end" fill="#1a1a1a" >3.5</text><line x1="385.60" y1="44.50" x2="388.30" y2="44.50" stroke="#5a5a5a" stroke-width="0.9" /><text x="381.60" y="47.38" font-size="9.4" text-anchor="end" fill="#1a1a1a" >4.0</text><line x1="385.60" y1="33.75" x2="388.30" y2="33.75" stroke="#5a5a5a" stroke-width="0.9" /><text x="381.60" y="36.63" font-size="9.4" text-anchor="end" fill="#1a1a1a" >4.5</text><line x1="385.60" y1="23.00" x2="388.30" y2="23.00" stroke="#5a5a5a" stroke-width="0.9" /><text x="381.60" y="25.88" font-size="9.4" text-anchor="end" fill="#1a1a1a" >5.0</text><line x1="385.60" y1="12.25" x2="388.30" y2="12.25" stroke="#5a5a5a" stroke-width="0.9" /><text x="381.60" y="15.13" font-size="9.4" text-anchor="end" fill="#1a1a1a" >5.5</text><line x1="388.30" y1="35.90" x2="672.00" y2="35.90" stroke="#5a5a5a" stroke-width="0.9" /><line x1="388.30" y1="42.00" x2="672.00" y2="42.00" stroke="#5a5a5a" stroke-width="0.9" /><text x="397.70" y="143.40" font-size="9.4" text-anchor="middle" fill="#1a1a1a" >1</text><text x="413.00" y="143.40" font-size="9.4" text-anchor="middle" fill="#1a1a1a" >2</text><text x="427.30" y="143.40" font-size="9.4" text-anchor="middle" fill="#1a1a1a" >3</text><text x="440.80" y="143.40" font-size="9.4" text-anchor="middle" fill="#1a1a1a" >4</text><text x="454.40" y="143.40" font-size="9.4" text-anchor="middle" fill="#1a1a1a" >5</text><text x="467.10" y="143.40" font-size="9.4" text-anchor="middle" fill="#1a1a1a" >6</text><text x="478.50" y="143.40" font-size="9.4" text-anchor="middle" fill="#1a1a1a" >7</text><text x="488.80" y="143.40" font-size="9.4" text-anchor="middle" fill="#1a1a1a" >8</text><text x="497.30" y="143.40" font-size="9.4" text-anchor="middle" fill="#1a1a1a" >9</text><text x="509.40" y="143.40" font-size="9.4" text-anchor="middle" fill="#1a1a1a" >10</text><text x="521.20" y="143.40" font-size="9.4" text-anchor="middle" fill="#1a1a1a" >11</text><text x="534.00" y="143.40" font-size="9.4" text-anchor="middle" fill="#1a1a1a" >12</text><text x="550.80" y="143.40" font-size="9.4" text-anchor="middle" fill="#1a1a1a" >13</text><text x="567.90" y="143.40" font-size="9.4" text-anchor="middle" fill="#1a1a1a" >14</text><text x="583.60" y="143.40" font-size="9.4" text-anchor="middle" fill="#1a1a1a" >15</text><text x="598.30" y="143.40" font-size="9.4" text-anchor="middle" fill="#1a1a1a" >16</text><text x="613.50" y="143.40" font-size="9.4" text-anchor="middle" fill="#1a1a1a" >17</text><text x="628.60" y="143.40" font-size="9.4" text-anchor="middle" fill="#1a1a1a" >18</text><text x="645.00" y="143.40" font-size="9.4" text-anchor="middle" fill="#1a1a1a" >19</text><text x="659.70" y="143.40" font-size="9.4" text-anchor="middle" fill="#1a1a1a" >X</text><text x="500.00" y="155.50" font-size="9.5" text-anchor="start" fill="#1a1a1a" >Chromosome</text><text x="2.00" y="11.70" font-size="13.2" text-anchor="start" fill="#111" font-weight="bold">a</text><text x="39.80" y="30.40" font-size="6.87" text-anchor="start" fill="#1a1a1a"  style="stroke-width:0.05px">Genome-wide significance or <tspan font-style="italic">E</tspan>-value &lt; 0.05</text><text x="88.60" y="40.30" font-size="5.74" text-anchor="start" fill="#1a1a1a"  style="stroke-width:0.05px"><tspan font-style="italic">E</tspan>-value &lt; 0.1</text><text x="125.80" y="51.80" font-size="6.0" text-anchor="start" fill="#1a1a1a"  style="stroke-width:0.05px">Phenotype = EBA, Covariate = Null</text><rect x="291.8" y="49" width="8.9" height="29.5" fill="none" stroke="#e06666" stroke-width="0.8"/><text x="304.00" y="54.90" font-size="6.1" text-anchor="start" fill="#1a1a1a"  style="stroke-width:0.05px">rs6211533</text><text transform="translate(8.1,69.4) rotate(-90)" font-size="9.5" text-anchor="middle" fill="#1a1a1a">&#8722;log<tspan font-size="6.6" dy="2.5">10</tspan><tspan dy="-2.5" font-style="italic">P</tspan>-value</text><text x="353.30" y="11.60" font-size="13.5" text-anchor="start" fill="#111" font-weight="bold">b</text><text x="394.90" y="31.60" font-size="6.87" text-anchor="start" fill="#1a1a1a"  style="stroke-width:0.05px">Genome-wide significance or <tspan font-style="italic">E</tspan>-value &lt; 0.05</text><text x="435.80" y="40.90" font-size="5.66" text-anchor="start" fill="#1a1a1a"  style="stroke-width:0.05px"><tspan font-style="italic">E</tspan>-value &lt; 0.1</text><text x="417.80" y="54.90" font-size="6.8" text-anchor="start" fill="#1a1a1a"  style="stroke-width:0.05px">Phenotype = EBA, Covariate = OTUID 173469 (<tspan font-style="italic">g__Staphylococcus Spp.</tspan>)</text><rect x="646.5" y="18.6" width="7.9" height="41.8" fill="none" stroke="#7fa6cc" stroke-width="0.75"/><text x="657.00" y="24.00" font-size="6.6" text-anchor="start" fill="#1a1a1a"  style="stroke-width:0.05px">rs6211533</text><text transform="translate(361.4,73.6) rotate(-90)" font-size="10.1" text-anchor="middle" fill="#1a1a1a">&#8722;log<tspan font-size="6.8" dy="2.6">10</tspan><tspan dy="-2.6" font-style="italic">P</tspan>-value</text><text x="101.00" y="183.40" font-size="13.2" text-anchor="start" fill="#111" font-weight="bold">c</text><line x1="167.30" y1="204.40" x2="167.30" y2="368.50" stroke="#ececec" stroke-width="0.8" /><line x1="218.10" y1="204.40" x2="218.10" y2="368.50" stroke="#ececec" stroke-width="0.8" /><line x1="268.90" y1="204.40" x2="268.90" y2="368.50" stroke="#ececec" stroke-width="0.8" /><line x1="319.70" y1="204.40" x2="319.70" y2="368.50" stroke="#ececec" stroke-width="0.8" /><line x1="133.40" y1="353.70" x2="328.50" y2="353.70" stroke="#ececec" stroke-width="0.8" /><line x1="133.40" y1="326.20" x2="328.50" y2="326.20" stroke="#ececec" stroke-width="0.8" /><line x1="133.40" y1="298.70" x2="328.50" y2="298.70" stroke="#ececec" stroke-width="0.8" /><line x1="133.40" y1="271.20" x2="328.50" y2="271.20" stroke="#ececec" stroke-width="0.8" /><line x1="133.40" y1="243.70" x2="328.50" y2="243.70" stroke="#ececec" stroke-width="0.8" /><line x1="133.40" y1="216.20" x2="328.50" y2="216.20" stroke="#ececec" stroke-width="0.8" /><rect x="133.4" y="204.4" width="195.1" height="164.1" fill="none" stroke="#444" stroke-width="0.9"/><line x1="131.10" y1="353.70" x2="133.40" y2="353.70" stroke="#444" stroke-width="0.9" /><text x="128.00" y="356.50" font-size="9.1" text-anchor="end" fill="#222" >2.5</text><line x1="131.10" y1="326.20" x2="133.40" y2="326.20" stroke="#444" stroke-width="0.9" /><text x="128.00" y="329.00" font-size="9.1" text-anchor="end" fill="#222" >3.0</text><line x1="131.10" y1="298.70" x2="133.40" y2="298.70" stroke="#444" stroke-width="0.9" /><text x="128.00" y="301.50" font-size="9.1" text-anchor="end" fill="#222" >3.5</text><line x1="131.10" y1="271.20" x2="133.40" y2="271.20" stroke="#444" stroke-width="0.9" /><text x="128.00" y="274.00" font-size="9.1" text-anchor="end" fill="#222" >4.0</text><line x1="131.10" y1="243.70" x2="133.40" y2="243.70" stroke="#444" stroke-width="0.9" /><text x="128.00" y="246.50" font-size="9.1" text-anchor="end" fill="#222" >4.5</text><line x1="131.10" y1="216.20" x2="133.40" y2="216.20" stroke="#444" stroke-width="0.9" /><text x="128.00" y="219.00" font-size="9.1" text-anchor="end" fill="#222" >5.0</text><line x1="167.30" y1="368.50" x2="167.30" y2="370.80" stroke="#444" stroke-width="0.9" /><text x="167.30" y="382.00" font-size="9.1" text-anchor="middle" fill="#222" >54</text><line x1="218.10" y1="368.50" x2="218.10" y2="370.80" stroke="#444" stroke-width="0.9" /><text x="218.10" y="382.00" font-size="9.1" text-anchor="middle" fill="#222" >56</text><line x1="268.90" y1="368.50" x2="268.90" y2="370.80" stroke="#444" stroke-width="0.9" /><text x="268.90" y="382.00" font-size="9.1" text-anchor="middle" fill="#222" >58</text><line x1="319.70" y1="368.50" x2="319.70" y2="370.80" stroke="#444" stroke-width="0.9" /><text x="319.70" y="382.00" font-size="9.1" text-anchor="middle" fill="#222" >60</text><text x="232.90" y="395.20" font-size="9.5" text-anchor="middle" fill="#111" >Position along chromosome 19 in Mb</text><text transform="translate(103.0,286.5) rotate(-90)" font-size="10.4" text-anchor="middle" fill="#111">&#8722;log <tspan font-style="italic">P</tspan></text><line x1="243.70" y1="217.02" x2="243.70" y2="290.75" stroke="#555" stroke-width="1.0" stroke-dasharray="1,0.9"/><polyline points="141.90,361.40 167.30,347.92 192.70,330.88 243.50,293.75 294.30,313.61 319.70,335.22" fill="none" stroke="#c0443a" stroke-width="1.5"/><circle cx="141.90" cy="361.40" r="1.9" fill="#c0443a"/><circle cx="167.30" cy="347.92" r="1.9" fill="#c0443a"/><circle cx="192.70" cy="330.88" r="1.9" fill="#c0443a"/><circle cx="243.50" cy="293.75" r="1.9" fill="#c0443a"/><circle cx="294.30" cy="313.61" r="1.9" fill="#c0443a"/><circle cx="319.70" cy="335.22" r="1.9" fill="#c0443a"/><polyline points="141.90,317.95 167.30,283.02 192.70,255.25 243.50,212.02 294.30,249.75 319.70,291.55" fill="none" stroke="#178c8a" stroke-width="1.5"/><circle cx="141.90" cy="317.95" r="1.9" fill="#178c8a"/><circle cx="167.30" cy="283.02" r="1.9" fill="#178c8a"/><circle cx="192.70" cy="255.25" r="1.9" fill="#178c8a"/><circle cx="243.50" cy="212.02" r="1.9" fill="#178c8a"/><circle cx="294.30" cy="249.75" r="1.9" fill="#178c8a"/><circle cx="319.70" cy="291.55" r="1.9" fill="#178c8a"/><rect x="236.5" y="253" width="58" height="7.3" fill="#fff"/><path d="M237.9,258.8 L241.7,258.8 L239.8,255.0 Z" fill="none" stroke="#333" stroke-width="0.6"/><text x="245.10" y="258.90" font-size="7.45" text-anchor="start" fill="#222"  style="stroke-width:0.05px">&#8722;log<tspan font-style="italic">P</tspan> = 41%</text><path d="M291.3,259.2 L291.3,253.6 M289.9,255.2 L291.3,253.4 L292.7,255.2" fill="none" stroke="#333" stroke-width="0.7"/><rect x="132.2" y="405.3" width="197.2" height="27.9" fill="#fff" stroke="#444" stroke-width="0.9"/><rect x="135.3" y="407.6" width="9.3" height="9.4" fill="#fff" stroke="#cfcfcf" stroke-width="0.8"/><line x1="136.30" y1="412.30" x2="143.60" y2="412.30" stroke="#c0443a" stroke-width="1.3" /><circle cx="139.95" cy="412.3" r="1.6" fill="#c0443a"/><rect x="135.3" y="420.5" width="9.3" height="9.4" fill="#fff" stroke="#cfcfcf" stroke-width="0.8"/><line x1="136.30" y1="425.20" x2="143.60" y2="425.20" stroke="#178c8a" stroke-width="1.3" /><circle cx="139.95" cy="425.2" r="1.6" fill="#178c8a"/><text x="148.20" y="416.10" font-size="9.55" text-anchor="start" fill="#111" >EBA QTL</text><text x="148.20" y="428.70" font-size="9.55" text-anchor="start" fill="#111" >173469 (g__Staphylococcus) as covariate</text><text x="368.50" y="182.80" font-size="13.8" text-anchor="start" fill="#111" font-weight="bold">d</text><text x="487.00" y="182.30" font-size="9.47" text-anchor="middle" fill="#111" >OTUID 173469 (g__Staphylococcus) versus</text><text x="487.00" y="194.50" font-size="9.6" text-anchor="middle" fill="#111" >SNP rs6211533 (Chr.19, 57 Mb)</text><line x1="408.30" y1="359.80" x2="567.50" y2="359.80" stroke="#ececec" stroke-width="0.8" /><line x1="408.30" y1="320.50" x2="567.50" y2="320.50" stroke="#ececec" stroke-width="0.8" /><line x1="408.30" y1="281.20" x2="567.50" y2="281.20" stroke="#ececec" stroke-width="0.8" /><line x1="408.30" y1="241.90" x2="567.50" y2="241.90" stroke="#ececec" stroke-width="0.8" /><line x1="451.20" y1="202.50" x2="451.20" y2="399.10" stroke="#ececec" stroke-width="0.8" /><line x1="524.00" y1="202.50" x2="524.00" y2="399.10" stroke="#ececec" stroke-width="0.8" /><rect x="418.80" y="348.01" width="21.75" height="51.09" fill="#008B45"/><rect x="440.55" y="341.72" width="21.75" height="57.38" fill="#FFFF00"/><rect x="462.30" y="267.45" width="21.75" height="131.65" fill="#27408B"/><rect x="491.30" y="332.29" width="21.75" height="66.81" fill="#008B45"/><rect x="513.05" y="304.78" width="21.75" height="94.32" fill="#FFFF00"/><rect x="534.80" y="202.60" width="21.75" height="196.50" fill="#27408B"/><line x1="487.50" y1="202.50" x2="487.50" y2="399.10" stroke="#222" stroke-width="1.0" stroke-dasharray="1.2,1.2"/><rect x="408.3" y="202.5" width="159.2" height="196.60000000000002" fill="none" stroke="#7d7d7d" stroke-width="0.9"/><line x1="405.60" y1="399.10" x2="408.30" y2="399.10" stroke="#666" stroke-width="0.9" /><text x="401.60" y="401.80" font-size="9.2" text-anchor="end" fill="#222" >0</text><line x1="405.60" y1="359.80" x2="408.30" y2="359.80" stroke="#666" stroke-width="0.9" /><text x="401.60" y="362.50" font-size="9.2" text-anchor="end" fill="#222" >20</text><line x1="405.60" y1="320.50" x2="408.30" y2="320.50" stroke="#666" stroke-width="0.9" /><text x="401.60" y="323.20" font-size="9.2" text-anchor="end" fill="#222" >40</text><line x1="405.60" y1="281.20" x2="408.30" y2="281.20" stroke="#666" stroke-width="0.9" /><text x="401.60" y="283.90" font-size="9.2" text-anchor="end" fill="#222" >60</text><line x1="405.60" y1="241.90" x2="408.30" y2="241.90" stroke="#666" stroke-width="0.9" /><text x="401.60" y="244.60" font-size="9.2" text-anchor="end" fill="#222" >80</text><line x1="405.60" y1="202.60" x2="408.30" y2="202.60" stroke="#666" stroke-width="0.9" /><text x="401.60" y="205.30" font-size="9.2" text-anchor="end" fill="#222" >100</text><line x1="451.20" y1="399.10" x2="451.20" y2="401.40" stroke="#666" stroke-width="0.9" /><line x1="524.00" y1="399.10" x2="524.00" y2="401.40" stroke="#666" stroke-width="0.9" /><text x="420.50" y="215.40" font-size="6.8" text-anchor="start" fill="#222"  style="stroke-width:0.05px">Fisher's exact test at <tspan font-style="italic">P</tspan>-value = 0.05</text><text x="427.40" y="411.60" font-size="9.3" text-anchor="middle" fill="#222" >(65)</text><text x="451.00" y="411.60" font-size="9.3" text-anchor="middle" fill="#222" >(21)</text><text x="473.20" y="411.60" font-size="9.3" text-anchor="middle" fill="#222" >(6)</text><text x="501.00" y="411.60" font-size="9.3" text-anchor="middle" fill="#222" >(56)</text><text x="524.20" y="411.60" font-size="9.3" text-anchor="middle" fill="#222" >(33)</text><text x="547.50" y="411.60" font-size="9.3" text-anchor="middle" fill="#222" >(2)</text><text x="447.00" y="426.40" font-size="9.5" text-anchor="middle" fill="#111" >High bacterial</text><text x="447.00" y="436.70" font-size="9.5" text-anchor="middle" fill="#111" >abundance</text><text x="524.80" y="426.40" font-size="9.5" text-anchor="middle" fill="#111" >Low bacterial</text><text x="524.50" y="436.70" font-size="9.5" text-anchor="middle" fill="#111" >abundance</text><text transform="translate(379.9,303.3) rotate(-90)" font-size="9.55" text-anchor="middle" fill="#111">Percentage of animals susceptible to EBA</text><rect x="574.1" y="289.8" width="8.8" height="8.1" fill="#008B45"/><text x="586.20" y="294.60" font-size="9.2" text-anchor="start" fill="#111" font-style="italic">AA</text><rect x="574.1" y="297.8" width="8.8" height="8.1" fill="#FFFF00"/><text x="586.20" y="303.90" font-size="9.2" text-anchor="start" fill="#111" font-style="italic">AC</text><rect x="574.1" y="306.1" width="8.8" height="8.1" fill="#27408B"/><text x="586.20" y="313.60" font-size="9.2" text-anchor="start" fill="#111" font-style="italic">CC</text></svg>
</body></html>
